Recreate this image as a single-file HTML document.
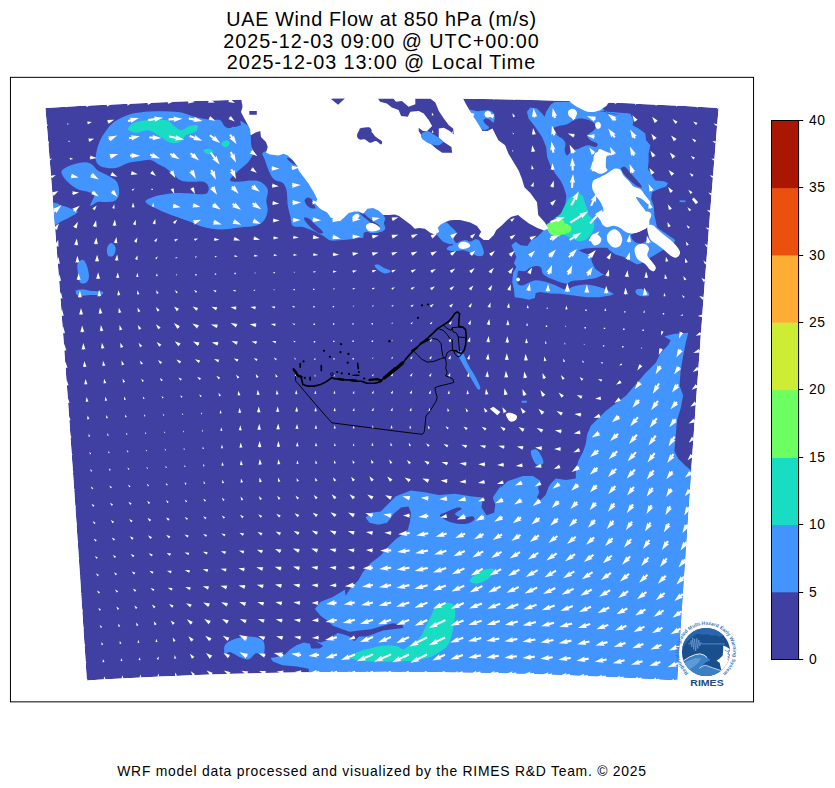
<!DOCTYPE html>
<html lang="en"><head><meta charset="utf-8"><title>UAE Wind Flow at 850 hPa</title>
<style>
html,body{margin:0;padding:0;background:#fff}
body{width:835px;height:788px;position:relative;overflow:hidden;font-family:"Liberation Sans",sans-serif;color:#000}
.t{position:absolute;left:0;width:763px;text-align:center;font-size:19.8px;line-height:22px;white-space:nowrap}
.ft{position:absolute;left:0;width:764px;text-align:center;font-size:13.9px;top:763px;line-height:16px;white-space:nowrap;letter-spacing:0.76px}
.cb{position:absolute;left:809px;letter-spacing:0.4px;font-size:13.9px;line-height:16px}
</style></head><body>
<svg width="835" height="788" viewBox="0 0 835 788" style="position:absolute;left:0;top:0">
<defs><clipPath id="fc"><path d="M45.4 108 L62.2 107.1 L79 106.1 L95.8 105.3 L112.6 104.4 L129.4 103.7 L146.2 102.9 L163 102.3 L179.9 101.6 L196.7 101.1 L213.5 100.5 L230.4 100.1 L247.2 99.6 L264 99.3 L280.9 98.9 L297.7 98.7 L314.6 98.4 L331.4 98.3 L348.3 98.1 L365.1 98.1 L382 98 L398.9 98.1 L415.7 98.1 L432.6 98.3 L449.4 98.4 L466.3 98.7 L483.1 98.9 L500 99.3 L516.8 99.6 L533.6 100.1 L550.5 100.5 L567.3 101.1 L584.1 101.6 L601 102.3 L617.8 102.9 L634.6 103.7 L651.4 104.4 L668.2 105.3 L685 106.1 L701.8 107.1 L718.6 108 L717.4 122.3 L716.2 136.5 L715.1 150.7 L713.9 165 L712.8 179.3 L711.6 193.5 L710.5 207.8 L709.4 222.1 L708.3 236.4 L707.2 250.8 L706.1 265.1 L705 279.4 L703.9 293.8 L702.8 308.1 L701.8 322.5 L700.7 336.8 L699.7 351.2 L698.6 365.5 L697.6 379.9 L696.5 394.3 L695.5 408.6 L694.5 423 L693.5 437.3 L692.5 451.7 L691.5 466 L690.5 480.4 L689.5 494.7 L688.5 509.1 L687.5 523.4 L686.6 537.7 L685.6 552 L684.7 566.3 L683.7 580.6 L682.8 594.9 L681.8 609.2 L680.9 623.5 L680 637.7 L679 652 L678.1 666.2 L677.2 680.4 L662.5 679.5 L647.8 678.7 L633 678 L618.3 677.2 L603.5 676.6 L588.8 675.9 L574 675.3 L559.3 674.8 L544.5 674.3 L529.8 673.8 L515 673.4 L500.2 673 L485.4 672.7 L470.7 672.4 L455.9 672.2 L441.1 672 L426.3 671.8 L411.6 671.7 L396.8 671.7 L382 671.6 L367.2 671.7 L352.4 671.7 L337.7 671.8 L322.9 672 L308.1 672.2 L293.3 672.4 L278.6 672.7 L263.8 673 L249 673.4 L234.2 673.8 L219.5 674.3 L204.7 674.8 L190 675.3 L175.2 675.9 L160.5 676.6 L145.7 677.2 L131 678 L116.2 678.7 L101.5 679.5 L86.8 680.4 L85.9 666.2 L85 652 L84 637.7 L83.1 623.5 L82.2 609.2 L81.2 594.9 L80.3 580.6 L79.3 566.3 L78.4 552 L77.4 537.7 L76.5 523.4 L75.5 509.1 L74.5 494.7 L73.5 480.4 L72.5 466 L71.5 451.7 L70.5 437.3 L69.5 423 L68.5 408.6 L67.5 394.3 L66.4 379.9 L65.4 365.5 L64.3 351.2 L63.3 336.8 L62.2 322.5 L61.2 308.1 L60.1 293.8 L59 279.4 L57.9 265.1 L56.8 250.8 L55.7 236.4 L54.6 222.1 L53.5 207.8 L52.4 193.5 L51.2 179.3 L50.1 165 L48.9 150.7 L47.8 136.5 L46.6 122.3Z"/></clipPath><clipPath id="ax"><rect x="10.5" y="77.5" width="743" height="624"/></clipPath></defs>
<g clip-path="url(#fc)">
<path d="M45.4 108 L62.2 107.1 L79 106.1 L95.8 105.3 L112.6 104.4 L129.4 103.7 L146.2 102.9 L163 102.3 L179.9 101.6 L196.7 101.1 L213.5 100.5 L230.4 100.1 L247.2 99.6 L264 99.3 L280.9 98.9 L297.7 98.7 L314.6 98.4 L331.4 98.3 L348.3 98.1 L365.1 98.1 L382 98 L398.9 98.1 L415.7 98.1 L432.6 98.3 L449.4 98.4 L466.3 98.7 L483.1 98.9 L500 99.3 L516.8 99.6 L533.6 100.1 L550.5 100.5 L567.3 101.1 L584.1 101.6 L601 102.3 L617.8 102.9 L634.6 103.7 L651.4 104.4 L668.2 105.3 L685 106.1 L701.8 107.1 L718.6 108 L717.4 122.3 L716.2 136.5 L715.1 150.7 L713.9 165 L712.8 179.3 L711.6 193.5 L710.5 207.8 L709.4 222.1 L708.3 236.4 L707.2 250.8 L706.1 265.1 L705 279.4 L703.9 293.8 L702.8 308.1 L701.8 322.5 L700.7 336.8 L699.7 351.2 L698.6 365.5 L697.6 379.9 L696.5 394.3 L695.5 408.6 L694.5 423 L693.5 437.3 L692.5 451.7 L691.5 466 L690.5 480.4 L689.5 494.7 L688.5 509.1 L687.5 523.4 L686.6 537.7 L685.6 552 L684.7 566.3 L683.7 580.6 L682.8 594.9 L681.8 609.2 L680.9 623.5 L680 637.7 L679 652 L678.1 666.2 L677.2 680.4 L662.5 679.5 L647.8 678.7 L633 678 L618.3 677.2 L603.5 676.6 L588.8 675.9 L574 675.3 L559.3 674.8 L544.5 674.3 L529.8 673.8 L515 673.4 L500.2 673 L485.4 672.7 L470.7 672.4 L455.9 672.2 L441.1 672 L426.3 671.8 L411.6 671.7 L396.8 671.7 L382 671.6 L367.2 671.7 L352.4 671.7 L337.7 671.8 L322.9 672 L308.1 672.2 L293.3 672.4 L278.6 672.7 L263.8 673 L249 673.4 L234.2 673.8 L219.5 674.3 L204.7 674.8 L190 675.3 L175.2 675.9 L160.5 676.6 L145.7 677.2 L131 678 L116.2 678.7 L101.5 679.5 L86.8 680.4 L85.9 666.2 L85 652 L84 637.7 L83.1 623.5 L82.2 609.2 L81.2 594.9 L80.3 580.6 L79.3 566.3 L78.4 552 L77.4 537.7 L76.5 523.4 L75.5 509.1 L74.5 494.7 L73.5 480.4 L72.5 466 L71.5 451.7 L70.5 437.3 L69.5 423 L68.5 408.6 L67.5 394.3 L66.4 379.9 L65.4 365.5 L64.3 351.2 L63.3 336.8 L62.2 322.5 L61.2 308.1 L60.1 293.8 L59 279.4 L57.9 265.1 L56.8 250.8 L55.7 236.4 L54.6 222.1 L53.5 207.8 L52.4 193.5 L51.2 179.3 L50.1 165 L48.9 150.7 L47.8 136.5 L46.6 122.3Z" fill="#4040a2"/>
<g fill="#4294ff"><path d="M95.8 159.9 C95.2 156.5 96.7 150.7 97.8 146.6 C99 142.4 100.6 139 102.9 135.2 C105.2 131.5 108.3 126.9 111.7 123.9 C115 120.9 119 118.9 123 117.1 C127 115.3 130.1 114.1 135.6 113.1 C141 112.1 148.6 111.5 155.7 111.3 C162.8 111.2 172 111.3 178.3 112.1 C184.6 112.9 188.4 115.1 193.4 116.4 C198.4 117.6 204.1 119 208.5 119.6 C212.9 120.3 217.1 119 219.8 120.1 C222.5 121.3 223 125.2 224.9 126.4 C226.7 127.7 228.8 128.5 231.1 127.7 C233.4 126.9 236.6 122.2 238.7 121.4 C240.8 120.6 241.8 121.4 243.7 122.7 C245.6 123.9 248.7 125.2 250 129 C251.3 132.7 250.6 141.5 251.3 145.3 C251.9 149.1 253.6 149.9 253.8 151.6 C254 153.3 253.6 153.5 252.5 155.4 C251.5 157.2 249.8 160.4 247.5 162.9 C245.2 165.4 241.6 167.6 238.7 170.4 C235.7 173.3 229.9 178.1 229.9 180 C229.9 181.9 235.3 181.7 238.7 181.8 C242 181.9 246.4 180.5 250 180.5 C253.6 180.5 257.1 180.3 260.1 181.8 C263 183.2 266.6 186.2 267.6 189.3 C268.7 192.5 266.3 197.1 266.3 200.6 C266.3 204.2 268 207.3 267.6 210.7 C267.2 214 265.9 218.2 263.8 220.7 C261.7 223.3 259 224.6 255 225.8 C251 226.9 245.6 226.9 239.9 227.5 C234.3 228.2 227.2 229.6 221.1 229.6 C215 229.5 208.5 228.3 203.5 227 C198.4 225.8 195.9 223.9 190.9 222 C185.9 220.1 178.7 217.8 173.3 215.7 C167.8 213.6 162.8 211.7 158.2 209.4 C153.6 207.1 146.5 204 145.6 201.9 C144.8 199.8 149.8 198.1 153.2 196.9 C156.5 195.6 162 195 165.7 194.3 C169.5 193.7 171.6 193.2 175.8 193.1 C180 193 186.7 193.4 190.9 193.6 C195.1 193.8 198.2 194.4 201 194.3 C203.7 194.3 206 194.3 207.2 193.1 C208.5 191.8 209.1 188.7 208.5 186.8 C207.9 184.9 206.4 182.6 203.5 181.8 C200.5 180.9 194.7 182 190.9 181.8 C187.1 181.6 183.6 181.6 180.8 180.5 C178.1 179.5 177.1 177.6 174.6 175.5 C172 173.4 168.5 169.8 165.7 167.9 C163 166 160.7 165.5 158.2 164.2 C155.7 162.8 153.6 160.4 150.7 159.9 C147.7 159.3 144.4 160.4 140.6 160.9 C136.8 161.4 132.2 161.7 128 162.9 C123.8 164.1 119.9 167.3 115.4 167.9 C111 168.6 104.9 168 101.6 166.7 C98.3 165.3 96.5 163.2 95.8 159.9Z"/><path d="M61.4 171.7 C61.8 169 66.6 167 70.2 165.4 C73.7 163.9 79.2 162.6 82.8 162.4 C86.3 162.2 89 162.8 91.6 164.2 C94.1 165.5 95.1 168.6 97.8 170.4 C100.6 172.3 104.8 173.6 107.9 175.5 C111 177.4 114.8 178.8 116.7 181.8 C118.6 184.7 119.4 189.9 119.2 193.1 C119 196.2 117.3 199.2 115.4 200.6 C113.6 202.1 110.8 201.7 107.9 201.9 C105 202.1 100.8 201.3 97.8 201.9 C94.9 202.5 90.9 206.7 90.3 205.7 C89.7 204.6 94.5 197.9 94.1 195.6 C93.7 193.3 90.5 192.9 87.8 191.8 C85.1 190.8 81.1 191 77.7 189.3 C74.4 187.6 70.4 184.7 67.7 181.8 C64.9 178.8 61 174.4 61.4 171.7Z"/><path d="M51.3 203.6 C53 200.5 59.1 204.7 62.6 205.7 C66.2 206.6 70.2 208.4 72.7 209.4 C75.2 210.5 78.1 210.7 77.7 211.9 C77.3 213.2 72.7 215.5 70.2 217 C67.7 218.4 65.6 219.5 62.6 220.7 C59.7 222 54.5 227.1 52.6 224.3 C50.7 221.4 49.6 206.7 51.3 203.6Z"/><path d="M111.2 242.9 C112.3 242.9 114.2 244.6 114.9 245.9 C115.7 247.2 115.8 249.3 115.4 250.9 C115.1 252.6 114.1 255.1 112.9 256 C111.8 256.8 109.4 256.8 108.4 256 C107.4 255.1 107 252.6 106.9 250.9 C106.8 249.3 107.2 247.2 107.9 245.9 C108.6 244.6 110 242.9 111.2 242.9Z"/><path d="M77.7 263.5 C78.6 261.6 81.3 259.5 82.8 259.7 C84.2 259.9 85.5 262 86.5 264.8 C87.6 267.5 89 273.1 89 276.1 C89 279 88 281.3 86.5 282.4 C85.1 283.4 81.7 284.3 80.2 282.4 C78.8 280.5 78.1 274.2 77.7 271 C77.3 267.9 76.9 265.4 77.7 263.5Z"/><path d="M76 290.5 C77 289.5 81.3 289.4 84 289.5 C86.7 289.6 89 290.7 92 291 C95 291.3 100.3 290.9 102 291.5 C103.7 292.1 104 293.9 102 294.5 C100 295.1 94 294.8 90 295 C86 295.2 80.3 296.2 78 295.5 C75.7 294.8 75 291.5 76 290.5Z"/><path d="M265.1 151.6 C271 150.1 292 145.1 300.4 151.6 C308.7 158.1 307.9 181.6 315.4 190.6 C323 199.6 337.7 202.9 345.6 205.7 C353.6 208.4 358.5 207.2 363.1 207.2 C367.6 207.3 370.5 205.3 373.1 205.8 C375.7 206.3 377.2 208.6 378.9 210.1 C380.5 211.7 382.1 213.7 383.2 215.1 C384.3 216.6 385.2 217.4 385.3 218.7 C385.4 220.1 383.9 221.5 383.9 223.1 C383.9 224.6 385.4 226.8 385.3 228.1 C385.2 229.4 384.3 230.2 383.2 231 C382.1 231.7 380.8 232 378.9 232.4 C376.9 232.8 373.6 233.2 371.7 233.1 C369.8 233 368.7 231.7 367.4 231.7 C366 231.7 364.5 232.2 363.8 233.1 C363.1 234.1 363.9 236.6 363.1 237.4 C362.2 238.3 361.1 237.8 358.7 238.1 C356.3 238.5 352 239.2 348.7 239.6 C345.3 239.9 341.7 240.2 338.6 240.3 C335.5 240.4 332.6 241 330 240.3 C327.4 239.6 325.8 237.4 323 235.8 C320.1 234.3 316.3 232.3 312.9 230.8 C309.6 229.3 306.2 227.9 302.9 227 C299.5 226.2 294.9 227.7 292.8 225.8 C290.7 223.9 291.1 219.1 290.3 215.7 C289.5 212.4 288.4 209.9 287.8 205.7 C287.2 201.5 287.4 194.3 286.5 190.6 C285.7 186.8 285.1 185.1 282.8 183 C280.4 180.9 275.6 181.8 272.7 178 C269.8 174.2 266.4 164.8 265.1 160.4 C263.9 156 259.3 153.1 265.1 151.6Z"/><path d="M437.1 233.1 C437.5 231.4 439.3 227.6 440.7 225.9 C442 224.3 443.4 223.9 445 223.1 C446.5 222.2 448.6 221.3 450 220.9 C451.4 220.5 453 217.3 453.6 220.9 C454.2 224.5 455 238.9 453.6 242.5 C452.2 246 447.1 243.1 445 242.5 C442.8 241.9 441.9 239.9 440.7 238.9 C439.5 237.8 438.4 236.9 437.8 236 C437.2 235 436.6 234.8 437.1 233.1Z"/><path d="M374.6 265.4 C374.6 264.5 377.2 264.3 378.9 264.7 C380.5 265.2 382.9 267.5 384.6 268.3 C386.3 269.2 388 269.2 388.9 269.8 C389.9 270.4 391.1 271.3 390.4 271.9 C389.6 272.5 386.5 273.6 384.6 273.4 C382.7 273.1 380.5 271.8 378.9 270.5 C377.2 269.2 374.6 266.4 374.6 265.4Z"/><path d="M526.9 111.8 L530.3 107.6 L537 108.4 L542 113.4 L544.6 116.8 L546.2 111.8 L550.4 105.1 L554.6 102 L567.2 101.7 L580.6 102.5 L597.4 103.4 L604.1 110.1 L614.1 114.3 L620 115.1 L604.2 110.9 L610.1 111.8 L620.1 112.6 L630.2 113.4 L633.5 120.1 L632.7 125.2 L638.6 128.5 L645.3 133.6 L646.1 140.3 L650.3 145.3 L648.6 153.7 L648.6 162.1 L647.8 168.8 L652 175.5 L655.3 180.5 L663.7 181.3 L667.9 183 L666.2 186.4 L658.7 188.9 L652 192.2 L651.1 199 L653.7 205.7 L654.5 215.7 L657 227 L658.6 228.4 L675.3 240.1 L673.7 243.5 L640.6 263.6 L637.2 264.5 L630.5 261.1 L623.8 256.9 L615.4 254.4 L610.4 251 L607.1 247.7 L595.3 247.7 L585.3 248.5 L578.6 250.2 L583.6 252.7 L590.3 255.2 L592 261.9 L595.3 268.7 L602 273.7 L607.1 275.4 L608.7 282.1 L612.1 287.1 L614.6 293.8 L610.4 295.5 L598.7 297.2 L586.9 297.2 L573.5 295.5 L560.1 293.8 L550.1 293.5 L540 292.1 L535.7 293 L534.9 298 L529 299.7 L520.6 298 L514.7 297.2 L513.9 288.8 L512.2 282.1 L513.1 272.8 L516.4 267 L513.9 263.6 L516.4 256.9 L513.9 251 L511.4 245.2 L515.6 241.8 L520.6 245.2 L527.3 246 L531.5 240.1 L537.4 236.8 L542.4 231.8 L553.8 219.1 L562.2 212.4 L565.5 204 L566.3 195.6 L563.8 187.2 L560.5 180.5 L555.4 173.8 L550.4 165.4 L547.1 157 L546.2 147 L542 136.9 L535.3 126.9 L528.6 118.5Z"/><path d="M635.6 290.4 C636.1 289.5 638.6 288.6 640.6 288.8 C642.6 288.9 645.9 290.2 647.3 291.3 C648.7 292.4 649.8 294.6 649 295.5 C648.1 296.3 644.2 296.5 642.3 296.3 C640.3 296.2 638.4 295.6 637.2 294.6 C636.1 293.7 635 291.4 635.6 290.4Z"/><path d="M679.6 200.3 L685.5 200.6 L685.5 202.3 L679.6 202Z"/><path d="M436.8 230.9 C436.9 228.4 439.3 224.8 441 223.4 C442.6 222 445.1 222 446.8 222.5 C448.5 223.1 449.5 225.2 451 226.7 C452.6 228.3 455.6 230.1 456 231.8 C456.5 233.4 453.5 235 453.5 236.8 C453.5 238.6 455.1 241.8 456 242.7 C457 243.5 457.9 242.2 459.4 241.8 C460.9 241.4 463.5 240.1 465.3 240.1 C467.1 240.1 468.6 242 470.3 241.8 C472 241.7 473.9 239.6 475.3 239.3 C476.7 239 477.7 239.3 478.7 240.1 C479.7 241 480.4 242.5 481.2 244.3 C482 246.2 483.4 249.2 483.7 251 C484 252.9 483.9 254.4 482.9 255.2 C481.9 256.1 479.9 256.5 477.8 256.1 C475.7 255.7 472.7 253.7 470.3 252.7 C467.9 251.7 466.4 250.5 463.6 250.2 C460.8 249.9 456.3 251.2 453.5 251 C450.7 250.9 447.5 250.2 446.8 249.4 C446.1 248.5 448.4 246.7 449.3 246 C450.3 245.3 452.3 245.9 452.7 245.2 C453.1 244.5 453.1 242.4 451.9 241.8 C450.6 241.3 447.1 242.4 445.1 241.8 C443.2 241.3 441.5 240.3 440.1 238.5 C438.7 236.7 436.6 233.4 436.8 230.9Z"/><path d="M664.4 336.5 L673.2 334 L688.3 332.8 L685.7 342.8 L683.2 355.4 L680.7 370.5 L679.5 385.6 L683.2 395.6 L680.7 408.2 L676.9 420.8 L675.7 435.9 L674.4 451 L678.2 458.5 L685.7 466 L693.3 472.3 L700 470 L700 690 L380 690 L308.8 676 L308.8 668.8 L296.9 666.4 L282.5 665.2 L272.9 661.6 L270.5 658.1 L276.5 656.9 L284.9 654.5 L289.7 649.7 L296.9 644.9 L304 642.5 L310 643.7 L311.2 648.5 L319.6 648.5 L323.2 646.1 L316 641.3 L320.8 642.5 L328 640.1 L332.8 636.5 L337.6 632.9 L342.4 634.1 L349.6 636.5 L354.3 641.3 L359.1 636.5 L366.3 636.5 L373.5 634.1 L383.1 630.5 L392.7 629.3 L403.4 628.1 L402.2 624.5 L392.7 623.3 L383.1 625.7 L371.1 629.3 L359.1 630.5 L349.6 631.7 L342.4 629.3 L332.8 625.7 L328 620.9 L320.8 616.1 L314.8 609 L320.8 601.8 L332.8 597 L344.8 589.8 L345.6 595.7 L350.7 588.1 L358.2 580.6 L363.2 571.8 L370.8 563 L380.8 555.4 L388.4 546.6 L395.9 539.1 L407.2 531.5 L409.8 522.7 L411 512.7 L408.5 506.4 L401 507.6 L393.4 513.9 L387.1 522.7 L378.3 524.7 L369.5 522.7 L365.7 517.7 L370.8 512.7 L380.8 511.4 L387.1 505.1 L395.9 496.3 L411 490.5 L426.1 492.5 L438.7 495.1 L440 495.1 L455.1 493.8 L470.2 496.3 L482.8 497.6 L481.5 507.6 L486.5 515.2 L494.1 512.7 L495.3 505.1 L492.8 497.6 L497.8 490 L501.6 485 L500.4 487.9 L507.9 481.1 L523 476.1 L533.1 476.1 L540.6 481.1 L538.1 487.9 L539.3 492.5 L536.8 497.6 L540.6 500.1 L545.6 495.1 L549.4 485 L548.1 487.9 L550.7 483.7 L555.7 478.6 L565.7 479.9 L575.8 478.6 L575.8 471.1 L578.3 461 L583.4 451 L585.9 443.4 L587.1 434.6 L590.9 425.8 L598.4 418.3 L606 410.7 L616 403.2 L626.1 395.6 L633.7 386.8 L641.2 378 L645.5 373 L655.6 362.9 L660.6 352.9 L668.1 345.3 L670.7 340.3Z"/><path d="M225 644.9 C226.6 642.3 230.6 640.3 234.6 638.9 C238.6 637.5 244.6 636.5 249 636.5 C253.3 636.5 258.3 637.5 260.9 638.9 C263.5 640.3 264.1 642.3 264.5 644.9 C264.9 647.5 264.7 653.1 263.3 654.5 C261.9 655.9 258.5 652.5 256.1 653.3 C253.7 654.1 251.7 658.7 249 659.3 C246.2 659.9 242.6 658.1 239.4 656.9 C236.2 655.7 232.2 652.5 229.8 652.1 C227.4 651.7 225.8 655.7 225 654.5 C224.2 653.3 223.4 647.5 225 644.9Z"/><path d="M531 451 C531.8 449.5 535 448.7 536.8 449.7 C538.6 450.7 540.8 454.9 541.9 457.2 C542.9 459.6 544 462.3 543.1 463.5 C542.3 464.8 538.6 465.6 536.8 464.8 C535.1 464 533.5 460.8 532.6 458.5 C531.6 456.2 530.3 452.4 531 451Z"/><path d="M457.1 352.4 C456.7 349.8 460.3 349.9 462.1 351.9 C464 353.9 466.1 360.5 468.2 364.4 C470.3 368.4 472.7 371.7 474.7 375.5 C476.7 379.3 479.7 384.8 480.2 387.1 C480.7 389.3 479.2 390.5 477.7 389.1 C476.2 387.7 473.4 382.1 471.2 378.5 C469 374.9 467 371.8 464.6 367.5 C462.3 363.1 457.5 355 457.1 352.4Z"/><path d="M521.7 400.7 L526.8 400.7 L526.8 402.7 L521.7 402.7Z"/><path d="M469.8 110.1 C470.1 109.1 473.6 110.5 475.7 110.9 C477.8 111.3 480.9 111.6 482.4 112.6 C483.9 113.6 485.2 115.5 484.9 116.8 C484.6 118.1 482 119.3 480.7 120.1 C479.5 121 478.5 122.4 477.4 121.8 C476.2 121.3 475.3 118.8 474 116.8 C472.8 114.8 469.5 111.1 469.8 110.1Z"/><path d="M477.4 121.8 C477.2 120.7 479.3 119.7 480.7 120.1 C482.1 120.6 484.4 123.1 485.7 124.3 C487.1 125.6 489.4 126.7 489.1 127.7 C488.8 128.7 485.3 130.3 484.1 130.2 C482.8 130.1 482.7 128.3 481.6 126.9 C480.4 125.5 477.5 122.9 477.4 121.8Z"/><path d="M477.5 111.8 C479.2 110.4 482.4 110.7 484.2 110.4 C486 110.1 486.9 109.7 488.4 110.1 C489.9 110.5 492 111.3 493.1 112.6 C494.1 113.9 494.7 116 494.8 117.6 C494.8 119.3 494.2 122.2 493.4 122.7 C492.6 123.1 491.2 120.8 490.1 120.1 C488.9 119.5 487.8 118.5 486.7 118.5 C485.6 118.5 483.7 119 483.4 120.1 C483 121.3 484.8 123.6 484.7 125.2 C484.6 126.7 483.6 128.4 482.5 129.4 C481.5 130.3 479.6 131.7 478.3 131 C477.1 130.3 475.7 127.3 475 125.2 C474.3 123.1 473.7 120.7 474.1 118.5 C474.6 116.2 475.8 113.1 477.5 111.8Z"/></g>
<g fill="#4040a2"><path d="M359.5 211.6 C359.7 211.2 360.9 211.3 362.3 212.3 C363.8 213.2 366.2 215.7 368.1 217.3 C370 218.9 371.9 220.2 373.8 221.6 C375.7 223.1 378.9 224.9 379.6 225.9 C380.3 226.9 379.3 228 378.1 227.7 C376.9 227.3 374.4 225.3 372.4 223.8 C370.4 222.3 367.8 220.3 365.9 218.7 C364 217.2 362 215.6 360.9 214.4 C359.8 213.2 359.2 211.9 359.5 211.6Z"/><path d="M287 157.9 C287.3 157.5 289.7 157.9 291.2 158.7 C292.7 159.6 295.7 161.9 296.2 162.9 C296.8 163.9 295.7 164.9 294.6 164.6 C293.4 164.3 290.8 162.3 289.5 161.2 C288.3 160.1 286.7 158.3 287 157.9Z"/><path d="M304.6 200.6 C304.8 199.3 306.7 197.8 308 197.6 C309.2 197.5 311.2 198.7 312.2 199.8 C313.1 200.9 313.3 202.6 313.8 204 C314.4 205.4 315.9 207.5 315.5 208.2 C315.1 208.9 312.7 208.6 311.3 208.2 C309.9 207.8 308.2 206.9 307.1 205.7 C306 204.4 304.5 202 304.6 200.6Z"/><path d="M304.1 217.7 C304.7 217.2 307.3 217.6 309.2 218.7 C311 219.9 313.1 222.3 315.4 224.5 C317.8 226.7 322.4 230.6 323 232.1 C323.6 233.5 321.1 234 319.2 233.3 C317.3 232.7 313.9 230.2 311.7 228.3 C309.5 226.4 307.1 223.8 305.9 222 C304.6 220.2 303.6 218.3 304.1 217.7Z"/><path d="M517.6 274.4 C517.9 273 517.2 271.6 518.4 271 C519.7 270.5 523.2 271.6 525.1 271 C527.1 270.5 528.4 268.5 530.2 267.7 C532 266.8 534.2 266 536 266 C537.9 266 540 266.4 541.1 267.7 C542.2 268.9 541.5 271.9 542.8 273.5 C544 275.2 546.5 276.6 548.6 277.7 C550.7 278.8 553.1 279.4 555.3 280.2 C557.6 281.1 560.1 282.2 562 282.8 C564 283.3 565.4 283.9 567.1 283.6 C568.7 283.3 570.1 281.6 572.1 281.1 C574.1 280.5 576.3 280.5 578.8 280.2 C581.3 280 584.7 279.7 587.2 279.4 C589.7 279.1 591.7 279.1 593.9 278.6 C596.1 278 598.4 276.9 600.6 276 C602.8 275.2 604.5 273.5 607.3 273.5 C610.1 273.5 615.7 272.3 617.4 276 C619 279.8 617.6 293 617.4 296.2 C617.1 299.4 616.8 296 615.7 295.3 C614.6 294.6 612.6 293.1 610.7 292 C608.7 290.9 606.5 289.6 604 288.6 C601.4 287.6 598.4 286.8 595.6 286.1 C592.8 285.4 590 284.6 587.2 284.4 C584.4 284.3 581.3 284.9 578.8 285.3 C576.3 285.7 574.1 286.2 572.1 286.9 C570.1 287.6 568.7 289.2 567.1 289.5 C565.4 289.7 564 289.3 562 288.6 C560.1 287.9 557.6 286.2 555.3 285.3 C553.1 284.3 550.9 283.5 548.6 282.8 C546.4 282.1 544.2 281.5 541.9 281.1 C539.7 280.7 537.4 280 535.2 280.2 C533 280.5 530.5 281.9 528.5 282.8 C526.5 283.6 525.1 285 523.5 285.3 C521.8 285.5 519.6 285.4 518.4 284.4 C517.3 283.5 516.9 281.1 516.8 279.4 C516.6 277.7 517.3 275.8 517.6 274.4Z"/><path d="M553.8 128.5 C554.1 127 556.6 126.7 558.8 126 C561 125.3 564.7 125.3 567.2 124.3 C569.7 123.4 571.7 121.1 573.9 120.1 C576.1 119.2 578.1 118.5 580.6 118.5 C583.1 118.5 586.5 119 589 120.1 C591.5 121.3 594.9 123.5 595.7 125.2 C596.5 126.9 595.4 128.5 594 130.2 C592.6 131.9 587.9 133.6 587.3 135.2 C586.7 136.9 589 138.9 590.7 140.3 C592.3 141.7 596.5 142.5 597.4 143.6 C598.2 144.7 597.4 146.7 595.7 147 C594 147.3 590.1 145 587.3 145.3 C584.5 145.6 581.4 147.8 578.9 148.7 C576.4 149.5 574.2 149.2 572.2 150.3 C570.3 151.4 568.4 155.4 567.2 155.4 C565.9 155.4 565 152.3 564.7 150.3 C564.4 148.4 565.9 145.6 565.5 143.6 C565.1 141.7 563.6 140 562.2 138.6 C560.8 137.2 558.5 136.9 557.1 135.2 C555.7 133.6 553.5 130.1 553.8 128.5Z"/><path d="M604.1 110.1 L609.1 105.1 L620 103 L608.4 102.5 L636.9 103.4 L633.5 113.4 L620.1 112.6 L610.1 111.8 L604.2 110.9 L600 110.9 L614.1 114.3 L607.4 113.4Z"/><path d="M632.2 233.4 C633.8 232.3 638.1 232 640.6 230.9 C643.1 229.8 645.9 226.3 647.3 226.7 C648.7 227.2 649 231.2 649 233.4 C649 235.7 648.7 238.5 647.3 240.1 C645.9 241.8 642.7 243.2 640.6 243.5 C638.5 243.8 636.3 242.8 634.7 241.8 C633.2 240.8 631.8 239 631.4 237.6 C631 236.2 630.7 234.6 632.2 233.4Z"/><path d="M621 168.8 C621 167.4 623.5 166.3 625.1 167.1 C626.8 167.9 628.8 171.3 631 173.8 C633.3 176.3 636.7 180 638.6 182.2 C640.4 184.4 642.1 186.5 641.9 187.2 C641.8 187.9 639.4 187.2 637.7 186.4 C636 185.5 634 184 631.9 182.2 C629.8 180.4 627 177.7 625.1 175.5 C623.3 173.2 621 170.2 621 168.8Z"/><path d="M445.1 221.7 C446.3 221.3 451 220.3 453.5 220 C456 219.8 457.4 219.6 460.2 220 C463 220.4 467.5 221.6 470.3 222.5 C473.1 223.5 475.2 224.4 477 225.9 C478.8 227.4 480.9 230.1 481.2 231.8 C481.5 233.4 479.9 235 478.7 236 C477.4 236.9 475.3 237.6 473.7 237.6 C472 237.6 470.6 235.5 468.6 236 C466.7 236.4 464 239 461.9 240.1 C459.8 241.3 457.4 243.2 456 242.7 C454.7 242.1 453.5 238.6 453.5 236.8 C453.5 235 456.5 233.4 456 231.8 C455.6 230.1 452.6 228.3 451 226.7 C449.5 225.2 447.8 223.4 446.8 222.5 C445.8 221.7 444 222.1 445.1 221.7Z"/><path d="M440 515.2 C440.6 513.9 444.6 512.7 447.5 511.4 C450.5 510.1 455.3 508.1 457.6 507.6 C459.9 507.2 461.8 507.8 461.4 508.9 C461 509.9 454.9 512.5 455.1 513.9 C455.3 515.4 459.7 517.3 462.6 517.7 C465.6 518.1 470.8 516 472.7 516.4 C474.6 516.9 475.2 519 474 520.2 C472.7 521.5 468.7 523.6 465.1 524 C461.6 524.4 456.1 523.6 452.6 522.7 C449 521.9 445.9 520.2 443.8 519 C441.7 517.7 439.4 516.4 440 515.2Z"/></g>
<g fill="#18ddc2"><path d="M128 129 C127.8 127.3 131 124.1 134.3 122.7 C137.7 121.2 142.9 120.6 148.1 120.1 C153.4 119.7 161.6 119.3 165.7 120.1 C169.9 121 170.8 123.5 173.3 125.2 C175.8 126.9 178.3 130 180.8 130.2 C183.4 130.4 185.7 127.3 188.4 126.4 C191.1 125.6 195.9 124.3 197.2 125.2 C198.4 126 197.8 129.8 195.9 131.5 C194 133.1 188.4 133.6 185.9 135.2 C183.4 136.9 183.4 140.3 180.8 141.5 C178.3 142.8 174.6 143.8 170.8 142.8 C167 141.7 162 137.3 158.2 135.2 C154.4 133.1 151.9 130.6 148.1 130.2 C144.4 129.8 138.9 132.9 135.6 132.7 C132.2 132.5 128.2 130.6 128 129Z"/><path d="M221.1 144 C221.1 142.9 224.6 140.5 226.1 140.3 C227.6 140.1 229.9 141.6 229.9 142.8 C229.9 144 227.6 147.1 226.1 147.3 C224.6 147.5 221.1 145.2 221.1 144Z"/><path d="M203.5 149.8 C203.9 149 208.1 148.7 209.8 149.1 C211.4 149.5 214 151.5 213.5 152.3 C213.1 153.2 208.9 154.5 207.2 154.1 C205.6 153.7 203.1 150.7 203.5 149.8Z"/><path d="M565.5 204 C567.2 201.2 568.6 199 570.5 197.3 C572.5 195.6 575.3 194.2 577.2 193.9 C579.2 193.6 581 194.2 582.3 195.6 C583.5 197 584 200.1 584.8 202.3 C585.6 204.5 586.7 206.9 587.3 209 C587.9 211.1 587.6 213.2 588.6 215 C589.7 216.8 592.8 217.8 593.7 220 C594.5 222.3 594.2 225.9 593.7 228.4 C593.1 230.9 591.7 233.2 590.3 235.1 C588.9 237.1 587.2 239.2 585.3 240.1 C583.3 241.1 580.8 241.3 578.6 241 C576.3 240.7 574.4 239.5 571.9 238.5 C569.3 237.4 566.3 235.4 563.5 234.8 C560.7 234.2 557.5 235.3 555.1 234.8 C552.7 234.3 550.6 233.1 549.2 231.8 C547.8 230.4 547.1 228 546.7 226.7 C546.3 225.5 545.9 225.2 547.1 224.1 C548.2 223 551.5 221.6 553.8 219.9 C556 218.2 558.5 216.7 560.5 214 C562.4 211.4 563.8 206.8 565.5 204Z"/><path d="M527.8 199 C528.1 198 530.7 197.6 532 198.1 C533.2 198.7 535.6 201.3 535.3 202.3 C535 203.3 531.6 204.5 530.3 204 C529 203.4 527.5 199.9 527.8 199Z"/><path d="M434.9 608.2 C436.6 606.5 439.1 606.1 441.2 605.2 C443.3 604.3 445.5 602.8 447.5 602.7 C449.5 602.6 452 603.2 453.3 604.7 C454.6 606.3 455.1 609.1 455.3 612 C455.4 614.9 454.7 618.7 454.3 622.1 C453.8 625.4 453.2 629 452.5 632.1 C451.8 635.3 451.1 638.5 450 640.9 C448.9 643.3 447.2 645.2 445.7 646.5 C444.3 647.7 443.6 648.6 441.2 648.5 C438.8 648.4 434.5 645.5 431.1 646 C427.8 646.4 424.4 649.3 421.1 651 C417.7 652.7 414.4 654.6 411 656 C407.7 657.5 404.7 659 401 659.8 C397.2 660.6 392.6 660.8 388.4 661 C384.2 661.3 380 661.9 375.8 661 C371.6 660.2 364.5 657.9 363.2 656 C362 654.1 365.3 651.4 368.3 649.7 C371.2 648.1 376.2 646.6 380.8 646 C385.4 645.3 392.6 645.3 395.9 646 C399.3 646.6 398.4 649.7 401 649.7 C403.5 649.7 407.7 648.3 411 646 C414.4 643.7 418.6 639.3 421.1 635.9 C423.6 632.5 424.4 629.2 426.1 625.8 C427.8 622.5 429.7 618.7 431.1 615.8 C432.6 612.8 433.2 610 434.9 608.2Z"/><path d="M470.2 579.3 C471.2 577.7 475 574.7 477.7 573 C480.4 571.3 483.8 569.9 486.5 569.3 C489.3 568.6 493.2 568.2 494.1 569.3 C494.9 570.3 493 573.7 491.6 575.5 C490.1 577.4 487.6 579.2 485.3 580.6 C483 581.9 480 583.3 477.7 583.6 C475.4 583.9 472.7 583.3 471.4 582.6 C470.2 581.9 469.1 580.9 470.2 579.3Z"/><path d="M348.5 657.2 C348.1 655.8 354.4 653.3 358.2 651.9 C362 650.4 366.5 649.2 371.1 648.6 C375.8 648 381.9 648.6 386.2 648.2 C390.5 647.8 394.1 646.2 397 646.5 C399.9 646.7 401.7 649.7 403.5 649.7 C405.3 649.7 405.6 647.7 407.8 646.5 C409.9 645.2 412.8 643.4 416.4 642.2 C420 640.9 424 639.6 429.3 638.9 C434.7 638.2 445.7 636.8 448.7 637.8 C451.8 638.9 449.5 642.9 447.7 645.4 C445.9 647.9 441 651 438 652.9 C434.9 654.9 432.9 656 429.3 657.2 C425.7 658.5 420.7 659.8 416.4 660.5 C412.1 661.1 407.8 660.9 403.5 661.1 C399.2 661.3 395.2 661.5 390.5 661.6 C385.9 661.6 380.5 661.7 375.4 661.6 C370.4 661.4 364.9 661.2 360.4 660.5 C355.9 659.8 348.9 658.7 348.5 657.2Z"/></g>
<g fill="#6dfe62"><path d="M546.7 225.1 C547.7 223.5 552 222.8 555.1 222.5 C558.2 222.3 562.5 222.7 565.1 223.4 C567.8 224.1 570.2 225.3 571 226.7 C571.9 228.1 571.4 230.5 570.2 231.8 C568.9 233 566 233.9 563.5 234.3 C561 234.7 557.5 234.7 555.1 234.3 C552.7 233.9 550.6 233.3 549.2 231.8 C547.8 230.2 545.7 226.6 546.7 225.1Z"/><path d="M547.4 225.1 C548 223.2 550.4 222.5 552.5 221.7 C554.6 220.9 558 220 560 220 C562 220 564.1 219.2 564.2 221.7 C564.3 224.2 562.5 232.7 560.8 235.1 C559.2 237.5 556.1 236.4 554.1 236 C552.2 235.5 550.2 234.4 549.1 232.6 C548 230.8 546.9 226.9 547.4 225.1Z"/></g>
</g>
<g fill="#ffffff"><path d="M365.9 225.9 C366.2 224.6 368.6 223.3 370.2 223.1 C371.9 222.8 374.3 223.5 376 224.5 C377.7 225.4 380.3 227.7 380.3 228.8 C380.3 229.9 377.9 230.6 376 231 C374.1 231.3 370.5 231.8 368.8 231 C367.1 230.1 365.7 227.2 365.9 225.9Z"/><path d="M352.3 217.3 C352.4 216.3 355.4 214 356.6 213.7 C357.8 213.5 359.6 214.9 359.5 215.9 C359.3 216.8 357.1 219.2 355.9 219.5 C354.7 219.7 352.2 218.3 352.3 217.3Z"/><path d="M241 90 L241.5 101 L242.5 107 L241 112 L243 116 L250 129 L250.5 134 L251 135.2 L255.1 132.7 L260.2 131 L261 136.9 L266 141.9 L267.7 147 L266 152.8 L270.2 154.5 L278.6 155.4 L283.7 153.7 L287.8 155.4 L292 159.6 L297.1 165.4 L298.7 170.4 L303.8 177.2 L308.8 183.9 L313.8 192.2 L317.2 199 L315.5 204 L320.5 209 L327.2 212.4 L330.6 217.4 L334.3 218.7 L340.1 220.9 L344.4 217.3 L348.7 213 L354.4 211.6 L358.7 211.6 L363.1 213.7 L367.4 208.7 L373.1 208 L378.9 210.8 L383.2 215.1 L388.9 215.1 L394.7 214.4 L399 215.9 L404.7 220.2 L410.5 224.5 L414.8 228.8 L419.1 228.1 L424.9 228.8 L430.6 233.1 L434.9 234.6 L439.2 231.7 L437.8 227.4 L440.7 224.5 L445 222.3 L450 220.2 L453.5 220 L460.2 220 L470.3 222.5 L477 225.9 L481.2 231.8 L478.7 236 L483.7 240.1 L488.7 240.1 L493.8 235.1 L496.3 230.1 L502.2 225.1 L507.2 220 L511.4 216.7 L518.1 215 L522.3 218.4 L529 223.4 L537.4 228.1 L544.1 230.4 L548.3 228.4 L544.9 222.5 L538.2 215 L537 202.3 L530.3 193.1 L524.4 187.2 L521.9 178.8 L518.6 170.4 L513.5 162.1 L508.5 153.7 L505.1 145.3 L498.4 140.3 L495.8 135.2 L492.5 128.5 L487.4 131 L482.4 131 L479 125.2 L475.7 120.1 L471.5 113.4 L469 109.3 L465.6 103.4 L463.1 98.4 L463 90Z"/><path d="M572.2 108.7 C573.3 108.8 575.1 109.5 575.9 110.4 C576.7 111.3 577.2 113.1 576.9 114.3 C576.6 115.5 575.1 117.2 573.9 117.6 C572.7 118.1 570.7 117.6 569.7 116.8 C568.7 116 568.1 114.2 568 113.1 C567.9 112 568.5 110.8 569.2 110.1 C569.9 109.4 571.1 108.7 572.2 108.7Z"/><path d="M597.9 121.8 C598.7 121.8 599.9 122.7 600.4 123.5 C600.9 124.3 601.1 126 600.7 126.9 C600.4 127.8 599 128.8 598.2 128.9 C597.4 128.9 596.2 128 595.7 127.2 C595.2 126.4 595 124.7 595.4 123.8 C595.7 122.9 597 121.9 597.9 121.8Z"/><path d="M594 155.4 C594.7 153.7 595.7 152.7 597.4 152 C599 151.3 602.7 150.3 604.1 151.2 C605.5 152 605.6 154.7 605.7 157 C605.9 159.4 604.6 163.2 604.9 165.4 C605.2 167.7 608.1 169.1 607.4 170.4 C606.7 171.8 602.7 173.5 600.7 173.8 C598.8 174.1 597.1 173 595.7 172.1 C594.3 171.3 592.8 170.4 592.3 168.8 C591.9 167.1 592.9 164.3 593.2 162.1 C593.5 159.8 593.3 157 594 155.4Z"/><path d="M600.4 211.6 C608 210 639.2 210 647.3 211.6 C655.4 213.3 649 219.2 649 221.7 C649 224.2 648.7 225.2 647.3 226.7 C645.9 228.3 643.1 229.8 640.6 230.9 C638.1 232 634.7 233.3 632.2 233.4 C629.7 233.6 627.7 232.9 625.5 231.8 C623.3 230.6 621 228.1 618.8 226.7 C616.6 225.3 614.3 223.5 612.1 223.4 C609.9 223.2 607.2 226.2 605.4 225.9 C603.6 225.6 602 224.1 601.2 221.7 C600.4 219.3 592.7 213.3 600.4 211.6Z"/><path d="M590.3 237.6 C590.7 235.8 594.4 234.1 596.2 234.3 C598 234.4 600.6 236.9 601.2 238.5 C601.8 240 600.8 242.4 599.5 243.5 C598.3 244.6 595.2 246.2 593.7 245.2 C592.1 244.2 589.9 239.5 590.3 237.6Z"/><path d="M607.9 233.4 C609 231.6 612 229.5 613.8 229.3 C615.6 229 617.4 230.2 618.8 231.8 C620.2 233.3 621.9 236.2 622.2 238.5 C622.4 240.7 621.6 243.6 620.5 245.2 C619.4 246.7 617.1 247.7 615.4 247.7 C613.8 247.7 611.8 246.4 610.4 245.2 C609 243.9 607.5 242.1 607.1 240.1 C606.6 238.2 606.8 235.3 607.9 233.4Z"/><path d="M634.7 248.5 C635.3 246.7 637.1 245 638.9 244.3 C640.7 243.6 644 243.6 645.6 244.3 C647.3 245 648.7 246.7 649 248.5 C649.3 250.3 647 253.3 647.3 255.2 C647.6 257.2 649.3 258.3 650.7 260.3 C652.1 262.2 655.1 265.2 655.7 267 C656.2 268.8 655 270.7 654 271.2 C653 271.6 651.2 270.6 649.8 269.5 C648.4 268.4 647.4 266 645.6 264.5 C643.8 262.9 640.6 261.8 638.9 260.3 C637.2 258.7 636.3 257.2 635.6 255.2 C634.9 253.3 634.2 250.3 634.7 248.5Z"/><path d="M647.3 226.7 C647.7 224.5 650.7 224.6 652.3 225.1 C654 225.5 655.4 227.6 657.4 229.3 C659.3 230.9 661.6 233 664.1 235.1 C666.6 237.2 670.1 239.6 672.5 241.8 C674.8 244.1 677.1 246.6 678.3 248.5 C679.6 250.5 680.4 252 680 253.6 C679.6 255.1 677.6 257.6 675.8 257.8 C674 257.9 671.3 255.9 669.1 254.4 C666.9 252.9 664.6 250.3 662.4 248.5 C660.2 246.7 657.8 245.2 655.7 243.5 C653.6 241.8 651.2 241.3 649.8 238.5 C648.4 235.7 646.9 229 647.3 226.7Z"/><path d="M598.3 150.3 C599.4 147.3 602.7 150.5 605 151.2 C607.4 151.9 612.3 153.7 612.6 154.5 C612.9 155.4 607.8 154.9 606.7 156.2 C605.6 157.5 606.1 160 605.9 162.1 C605.6 164.2 606.3 167.5 605 168.8 C603.8 170 599.4 172.7 598.3 169.6 C597.2 166.5 597.2 153.4 598.3 150.3Z"/><path d="M593.4 180.5 C592.1 182.3 591.7 185.5 592.2 188.1 C592.6 190.6 594.5 193.1 595.9 195.6 C597.4 198.1 599.7 200.6 601 203.1 C602.2 205.7 603.5 207.8 603.5 210.7 C603.5 213.6 600.5 218 601 220.7 C601.4 223.5 603.9 226.2 606 227 C608.1 227.9 611 225.6 613.5 225.8 C616 226 618.1 227 621.1 228.3 C624 229.6 627.8 232.9 631.1 233.3 C634.5 233.7 638.3 232.1 641.2 230.8 C644.1 229.6 647.5 228 648.7 225.8 C650 223.5 649.2 219.9 648.6 217.4 C648 214.9 646.7 212.9 645.3 210.7 C643.9 208.5 641.8 206.2 640.2 204 C638.7 201.7 635.8 198.1 636 197.3 C636.3 196.4 640 197.8 641.9 199 C643.9 200.1 646.4 203.4 647.8 204 C649.2 204.5 650.7 203.7 650.3 202.3 C649.9 200.9 646.9 197.8 645.3 195.6 C643.6 193.4 642.2 190.4 640.2 188.9 C638.3 187.4 635.5 187.8 633.5 186.4 C631.6 185 630.2 182.3 628.5 180.5 C626.8 178.7 624.9 177.3 623.5 175.5 C622.1 173.7 621.7 170.7 620.1 169.6 C618.6 168.5 616.5 168.1 614.3 168.8 C612 169.5 609.1 172.4 606.7 173.8 C604.3 175.2 602.2 176 600 177.2 C597.8 178.3 594.7 178.7 593.4 180.5Z"/><path d="M691.9 199.3 L693.9 197.6 L698.1 202.3 L695.9 204.3Z"/><path d="M458.2 245.2 C458.5 244.1 460.3 242.2 461.9 241.8 C463.5 241.4 466.4 242 467.8 242.7 C469.2 243.4 470.6 245 470.3 246 C470 247 467.8 248.1 466.1 248.5 C464.4 249 461.6 249.1 460.2 248.5 C458.9 248 457.9 246.3 458.2 245.2Z"/><path d="M518.1 277.5 C518.8 277.5 520.1 278.9 520.1 279.6 C520.1 280.2 518.8 281.6 518.1 281.6 C517.4 281.6 516.1 280.2 516.1 279.6 C516.1 278.9 517.4 277.5 518.1 277.5Z"/><path d="M489.8 408.7 L493.3 406.7 L500.4 412 L497.3 415.2Z"/><path d="M505.9 414.5 C506 413.1 508.6 412.5 510.4 412.7 C512.2 412.9 515.9 414.5 516.7 415.7 C517.5 417 516.6 419.4 515.4 420.3 C514.3 421.2 511.5 422.2 509.9 421.3 C508.3 420.3 505.8 415.9 505.9 414.5Z"/><path d="M487.9 110.9 C488.7 110.9 489.8 111.5 490.4 112.1 C491 112.7 491.2 113.6 491.2 114.3 C491.2 115 491 115.9 490.4 116.5 C489.8 117 488.7 117.6 487.9 117.6 C487 117.6 485.9 117 485.4 116.5 C484.8 115.9 484.5 115 484.5 114.3 C484.5 113.6 484.8 112.7 485.4 112.1 C485.9 111.5 487 110.9 487.9 110.9Z"/><path d="M568 97.7 C561.5 98.3 568.6 99.8 569.5 100.9 C570.3 102 571.5 103.1 573.1 104.2 C574.6 105.4 576.9 106.7 578.8 107.8 C580.7 108.9 582.6 110 584.6 110.7 C586.5 111.4 588.4 112 590.3 112.1 C592.2 112.2 594.4 111.8 596 111.4 C597.7 111 598.9 110.7 600.4 110 C601.8 109.2 603.5 108 604.7 107.1 C605.9 106.1 606.9 105.8 607.5 104.2 C608.2 102.7 615.3 98.8 608.7 97.7 C602.1 96.7 574.6 97.2 568 97.7Z"/></g>
<g clip-path="url(#fc)">
<g fill="#4040a2"><path d="M230 100 L238.4 100 L242.6 105.1 L237.5 108.4 L235.9 115.1 L240.1 120.1 L240.9 125.2 L235 126.9 L230 126Z"/><path d="M249.3 110.9 L256.8 110.9 L256.8 114.8 L249.3 114.8Z"/><path d="M330.3 98.4 L344.9 98.4 L338.1 104.7Z"/><path d="M357 134.9 C357.2 133.6 358.7 131.3 359.2 130.2 C359.7 129.1 359.3 129 360 128.5 C360.7 128.1 361.7 127.8 363.4 127.7 C365 127.6 368.5 126.9 370.1 127.7 C371.6 128.5 371.6 131.2 372.6 132.7 C373.6 134.3 374.4 135.5 375.9 136.9 C377.5 138.3 381 139.9 381.8 141.1 C382.6 142.4 381.9 144.5 381 144.5 C380 144.5 377.7 141.4 375.9 141.1 C374.1 140.8 371.9 143.1 370.1 142.8 C368.2 142.5 366.7 140 365 139.4 C363.4 138.9 361.2 139.8 360 139.6 C358.8 139.4 358.5 139 358 138.3 C357.5 137.5 356.8 136.2 357 134.9Z"/><path d="M378.1 98.7 L393.5 98.7 L396 101.7 L401.9 100.9 L408.6 106.7 L415.3 104.2 L415.3 98.7 L430.4 98.7 L435.4 102.5 L438.8 110.9 L443.8 118.5 L448.9 125.2 L453.1 128.5 L453.9 134.4 L449.7 131 L443.8 127.7 L438.8 128.5 L438.8 137.8 L443.8 141.9 L451.4 147 L452.2 152.8 L442.2 152.8 L436.3 148.7 L430.4 143.6 L422.9 137.8 L418.7 131 L418.7 127.7 L422.9 131 L427.1 131 L432.1 126 L428.7 120.1 L423.7 113.4 L418.7 110.9 L410.3 111.8 L407.8 116.8 L401.1 116 L398.6 110.1 L391.9 107.6 L386.8 103.4 L380.1 101.7Z"/></g>
<g fill="#4294ff"><path d="M421.2 134.4 C422 133.1 425 131 427.1 131 C429.2 131 431.8 133.3 433.8 134.4 C435.7 135.5 437.3 136.5 438.8 137.8 C440.3 139 443.1 140.7 443 141.9 C442.9 143.2 439.8 144.9 438 145.3 C436.1 145.7 434.1 145 432.1 144.5 C430.1 143.9 427.9 142.9 426.2 141.9 C424.6 141 422.9 139.9 422 138.6 C421.2 137.3 420.4 135.7 421.2 134.4Z"/></g>
</g>
<g clip-path="url(#ax)"><path d="M87.1 680.3 87 680 87.7 680.1 86 677.2 85.8 680.6 86.4 680.2 86.5 680.5ZM104.9 679.3 104.9 679 105.6 679.2 104.1 676.2 103.7 679.5 104.3 679.1 104.3 679.4ZM122.8 678.4 122.8 678.1 123.4 678.4 122.4 675.2 121.5 678.4 122.2 678.1 122.2 678.4ZM140.7 677.5 140.7 677.2 141.3 677.6 140.7 674.4 139.4 677.4 140.1 677.2 140 677.5ZM158.5 676.7 158.6 676.4 159.1 676.8 158.7 673.6 157.3 676.5 158 676.3 157.9 676.6ZM176.4 675.8 176.3 675.4 177.1 675.6 175.1 672.5 175.1 676.2 175.7 675.7 175.8 676ZM194.4 674.9 194.1 674.5 195.1 674.2 190.8 671.3 192.8 676.1 193.3 675.1 193.6 675.5ZM212.3 674 211.8 673.6 213.1 672.9 206.6 670.4 210.6 676.1 210.9 674.7 211.5 675.1ZM230.1 673.4 229.5 673 230.8 672.2 223.9 670.5 228.7 675.7 228.8 674.2 229.4 674.5ZM248 672.8 247.3 672.5 248.5 671.6 241.5 670.7 246.8 675.3 246.8 673.8 247.4 674.1ZM265.8 672.3 265.1 672.1 266.2 671 259.1 670.9 265 674.9 264.7 673.4 265.4 673.6ZM283.6 671.9 282.9 671.8 283.9 670.6 276.8 671.4 283.1 674.6 282.7 673.2 283.4 673.3ZM301.4 671.6 300.7 671.6 301.5 670.2 294.6 672 301.3 674.3 300.7 672.9 301.4 673ZM319.1 671 316.1 671.5 316.8 669.7 308.3 673.7 317.6 675 316.4 673.5 319.5 673.1ZM336.9 670.8 332.3 672.2 332.7 670.4 324.9 675.6 334.3 675.6 332.9 674.2 337.5 672.8ZM354.8 670.7 349.3 672.8 349.6 671 342.1 676.7 351.5 676 350.1 674.8 355.5 672.7ZM372.6 670.7 367.3 672.9 367.5 671 360.2 677 369.5 676 368.1 674.8 373.4 672.6ZM390.5 670.7 385.2 673 385.4 671.1 378.2 677.2 387.5 676.1 386 674.9 391.4 672.6ZM408.4 670.8 403.1 673.1 403.3 671.2 396.2 677.4 405.5 676.2 404 675 409.3 672.7ZM426.4 670.9 421 673.3 421.2 671.4 414.1 677.5 423.4 676.3 421.9 675.2 427.2 672.8ZM444.3 671.1 438.9 673.3 439.1 671.4 431.8 677.3 441.2 676.4 439.7 675.2 445.1 673ZM462.3 671.3 457.4 672.9 457.7 671 450 676.3 459.4 676.2 458 674.8 462.9 673.3ZM480.3 671.6 475.8 672.5 476.4 670.7 468.1 675.2 477.5 676 476.3 674.6 480.7 673.6ZM498.3 672 493.9 672.6 494.5 670.9 486 674.9 495.3 676.2 494.2 674.7 498.6 674ZM516.2 672.4 511.9 672.9 512.6 671.2 504 674.9 513.2 676.5 512.1 675 516.4 674.5ZM534.1 672.9 529.9 673.3 530.7 671.6 521.9 675.1 531.1 677 530.1 675.4 534.3 675ZM552 673.5 547.8 673.9 548.5 672.2 539.8 675.7 549 677.5 548 676 552.2 675.6ZM569.9 674.1 565.6 674.6 566.3 672.9 557.7 676.6 567 678.3 565.9 676.7 570.1 676.2ZM587.8 674.9 583.6 675.4 584.2 673.7 575.7 677.6 585 679 583.9 677.5 588 676.9ZM605.6 675.6 601.5 676.3 602.2 674.5 593.7 678.7 603.1 679.9 601.9 678.4 605.9 677.7ZM623.4 676.5 619.5 677.3 620.1 675.5 611.8 680 621.2 680.8 620 679.4 623.9 678.5ZM641.3 677.4 637.5 678.3 638 676.5 629.9 681.3 639.3 681.7 638.1 680.4 641.8 679.4ZM659.1 678.4 655.6 679.4 656 677.5 648.1 682.6 657.5 682.7 656.2 681.4 659.7 680.4ZM676.9 679.4 673.6 680.4 674 678.6 666.3 683.9 675.6 683.7 674.3 682.4 677.5 681.4ZM86 663.1 85.9 662.8 86.6 662.9 84.7 660 84.7 663.5 85.3 662.9 85.4 663.3ZM103.9 662.1 103.8 661.7 104.6 661.9 102.9 658.9 102.6 662.4 103.2 661.9 103.3 662.2ZM121.8 661.1 121.8 660.8 122.5 661.1 121.3 658 120.6 661.2 121.2 660.9 121.2 661.2ZM139.8 660.3 139.8 660 140.4 660.4 140 657.2 138.5 660.1 139.2 659.9 139.1 660.2ZM157.7 659.6 157.8 659.3 158.3 659.9 158.9 656.5 156.5 659 157.2 659 157.1 659.3ZM175.7 658.6 175.6 658.2 176.4 658.4 174.5 655.1 174.3 658.9 174.9 658.4 175 658.7ZM193.7 657.6 193.4 657.2 194.5 656.9 189.9 653.7 192 659 192.5 657.9 192.9 658.3ZM211.7 656.8 211.1 656.3 212.5 655.7 206 653 209.9 658.9 210.3 657.4 210.8 657.8ZM229.6 656.1 229 655.8 230.3 655 223.5 653 228.1 658.4 228.3 656.9 228.8 657.3ZM247.6 655.4 246.8 655 248.3 653.9 239.4 652.3 246 658.5 246 656.6 246.8 657ZM265.4 655.1 264.7 654.9 265.8 653.8 258.7 653.4 264.4 657.7 264.3 656.1 264.9 656.4ZM283.4 654.3 281.9 654 283.2 652.6 273.8 653 281.9 657.8 281.4 656 282.9 656.4ZM301.2 654 299.2 653.7 300.3 652.2 291 653.7 299.6 657.5 298.9 655.8 301 656.1ZM318.9 653.7 316.3 654 317 652.3 308.3 656 317.6 657.6 316.5 656.1 319.2 655.8ZM336.7 653.6 332.5 654.8 332.9 653 325.1 658.2 334.5 658.2 333.1 656.8 337.3 655.6ZM354.6 653.5 348.1 656.1 348.3 654.2 341 660.1 350.3 659.2 348.9 658 355.4 655.4ZM372.6 653.4 363.9 657.1 364.1 655.2 356.9 661.2 366.2 660.2 364.7 659 373.4 655.3ZM390.6 653.4 381.2 657.5 381.4 655.6 374.2 661.7 383.5 660.6 382 659.4 391.4 655.3ZM408.5 653.5 399.1 657.9 399.2 656 392.2 662.3 401.5 660.9 400 659.8 409.4 655.4ZM426.5 653.6 417.1 658.2 417.2 656.4 410.3 662.7 419.6 661.2 418 660.1 427.4 655.5ZM444.5 653.8 439.2 656.2 439.3 654.3 432.3 660.5 441.6 659.3 440.1 658.1 445.4 655.7ZM462.6 654 457.5 655.8 457.8 653.9 450.2 659.4 459.6 659 458.2 657.7 463.2 656ZM480.7 654.3 476 655.2 476.6 653.4 468.2 657.7 477.6 658.7 476.4 657.2 481.1 656.4ZM498.7 654.7 494.1 655.4 494.8 653.6 486.3 657.7 495.6 659 494.4 657.5 499 656.8ZM516.7 655.2 512.2 655.7 512.8 654 504.3 657.8 513.6 659.3 512.4 657.8 517 657.2ZM534.7 655.7 530.3 656.1 531 654.4 522.4 658 531.6 659.8 530.5 658.2 534.9 657.7ZM552.6 656.2 548.2 656.8 548.9 655 540.3 658.8 549.6 660.4 548.5 658.9 552.9 658.3ZM570.6 656.9 566.1 657.6 566.8 655.8 558.3 659.8 567.6 661.1 566.4 659.6 570.9 659ZM588.5 657.6 584.2 658.3 584.8 656.6 576.4 660.7 585.7 661.9 584.5 660.4 588.8 659.7ZM606.4 658.4 602.3 659.2 602.8 657.4 594.6 661.8 603.9 662.7 602.7 661.3 606.8 660.4ZM624.3 659.2 620.4 660.3 620.8 658.4 612.8 663.3 622.2 663.7 620.9 662.3 624.8 661.3ZM642.2 660.2 638.5 661.3 638.9 659.4 631 664.7 640.4 664.6 639.1 663.3 642.8 662.2ZM660.1 661.1 656.6 662.3 656.9 660.5 649.3 665.9 658.7 665.6 657.3 664.3 660.7 663.1ZM678 662.2 674.8 663.4 675.1 661.5 667.6 667.2 677 666.6 675.5 665.3 678.7 664.1ZM84.9 645.8 84.7 645.5 85.5 645.5 83.3 642.9 83.7 646.3 84.1 645.7 84.3 646ZM102.8 644.8 102.7 644.5 103.4 644.5 101.4 641.9 101.6 645.2 102.1 644.7 102.2 645ZM120.8 643.8 120.8 643.5 121.5 643.7 119.8 640.8 119.6 644.1 120.2 643.7 120.2 644ZM138.9 643 138.8 642.6 139.5 642.9 138.2 639.8 137.6 643.1 138.2 642.7 138.2 643ZM156.9 642.1 156.8 641.8 157.6 642 156.2 638.8 155.5 642.3 156.2 641.8 156.2 642.2ZM174.9 641.2 174.8 640.8 175.7 640.8 172.7 637.6 173.4 641.9 174 641.2 174.2 641.6ZM193 640.2 192.6 639.8 193.9 639.4 188.4 636.2 191.2 641.9 191.7 640.6 192.1 641.1ZM211 639.5 210.5 639.1 211.9 638.4 205.2 635.8 209.3 641.6 209.6 640.1 210.2 640.5ZM229 638.8 228.4 638.5 229.7 637.7 222.8 635.8 227.6 641.2 227.7 639.6 228.3 640ZM247 638.1 246.3 637.8 247.8 636.6 239 635.1 245.5 641.2 245.5 639.3 246.3 639.7ZM264.9 637.8 264.3 637.6 265.4 636.5 258.3 636.1 264 640.4 263.8 638.8 264.5 639.1ZM282.9 637.4 282.3 637.2 283.3 636.1 276.2 636.3 282.2 640 281.9 638.5 282.6 638.7ZM300.9 637.1 300.2 637 301.1 635.7 294 636.8 300.5 639.8 300 638.3 300.7 638.4ZM318.8 636.8 318.1 636.8 318.7 635.4 312 637.9 319 639.5 318.2 638.2 318.9 638.2ZM336.6 636.3 332.7 637.2 333.2 635.4 325.1 640.1 334.5 640.6 333.2 639.2 337.1 638.3ZM354.7 636.5 354.1 636.7 354.3 635.2 348.5 639.4 355.6 639.1 354.5 638 355.1 637.8ZM372.6 636.1 367.2 638.2 367.4 636.3 360 642.1 369.4 641.4 367.9 640.2 373.4 638.1ZM390.6 636.1 385.3 638.4 385.4 636.5 378.2 642.4 387.5 641.5 386.1 640.3 391.4 638ZM408.6 636.2 403.4 638.6 403.5 636.8 396.4 643 405.7 641.7 404.2 640.5 409.5 638.1ZM426.6 636.4 416.2 641.8 416.3 639.9 409.5 646.4 418.8 644.7 417.2 643.6 427.6 638.2ZM444.7 636.5 435.8 640.8 435.9 638.9 429 645.2 438.2 643.7 436.7 642.6 445.6 638.4ZM462.9 636.8 457.4 638.8 457.7 636.9 450.2 642.6 459.5 642 458.1 640.7 463.6 638.7ZM481 637 475.6 638.4 476.1 636.6 468 641.3 477.4 641.8 476.1 640.4 481.5 639.1ZM499.1 637.4 494.1 638.4 494.7 636.6 486.4 641.1 495.7 641.9 494.5 640.5 499.5 639.5ZM517.1 637.9 512.2 638.8 512.8 637 504.5 641.3 513.8 642.3 512.6 640.9 517.5 639.9ZM535.2 638.4 530.3 639.3 530.9 637.5 522.5 641.7 531.8 642.8 530.6 641.3 535.6 640.5ZM553.2 639 548.3 639.9 548.9 638.1 540.6 642.4 549.9 643.4 548.7 641.9 553.6 641ZM571.2 639.6 566.5 640.6 567 638.8 558.8 643.3 568.1 644.1 566.9 642.7 571.6 641.7ZM589.2 640.4 584.7 641.4 585.2 639.6 577 644.3 586.4 644.9 585.1 643.5 589.7 642.4ZM607.2 641.1 602.9 642.3 603.3 640.5 595.4 645.5 604.8 645.7 603.5 644.3 607.7 643.2ZM625.1 642 621.2 643.3 621.5 641.5 613.8 646.9 623.2 646.6 621.8 645.3 625.8 644ZM643.1 642.9 639.4 644.3 639.7 642.5 632.2 648.2 641.6 647.5 640.2 646.3 643.8 644.9ZM661 643.9 657.7 645.3 657.9 643.5 650.6 649.5 660 648.4 658.5 647.3 661.9 645.8ZM679 645 676 646.3 676.1 644.5 669 650.6 678.3 649.4 676.8 648.2 679.9 646.9ZM83.7 628.5 83.6 628.2 84.3 628.2 81.8 625.9 82.6 629.1 83 628.5 83.2 628.8ZM101.8 627.4 101.6 627.2 102.3 627.1 99.7 624.9 100.7 628.1 101 627.5 101.2 627.8ZM119.8 626.5 119.7 626.2 120.4 626.1 117.9 623.7 118.7 627.1 119.1 626.5 119.3 626.8ZM137.9 625.6 137.8 625.2 138.6 625.3 136.1 622.4 136.6 626.2 137.1 625.5 137.3 625.9ZM156.1 624.7 155.9 624.3 156.8 624.3 153.8 621.3 154.6 625.4 155.1 624.7 155.3 625.1ZM174.1 623.8 173.8 623.4 174.9 623.1 170.7 620.4 172.7 625 173.1 624 173.4 624.4ZM192.3 622.9 191.8 622.5 193.1 621.9 186.9 619.3 190.6 624.8 191 623.4 191.5 623.9ZM210.3 622.1 209.8 621.8 211.1 621 204.3 619 208.8 624.4 209 622.9 209.6 623.3ZM228.4 621.5 227.8 621.2 229 620.3 222 618.9 227.1 623.9 227.1 622.4 227.7 622.7ZM246.4 621 245.8 620.7 247 619.7 239.9 618.9 245.4 623.5 245.3 622 245.9 622.2ZM264.5 620.5 263.8 620.3 264.9 619.2 257.8 619 263.6 623.1 263.4 621.6 264 621.8ZM282.5 620.1 281.9 619.9 282.8 618.8 275.7 619.2 281.9 622.7 281.5 621.3 282.2 621.4ZM300.6 619.7 299.9 619.7 300.7 618.4 293.7 619.7 300.3 622.5 299.7 621 300.4 621.1ZM318.6 619.5 317.9 619.5 318.5 618.1 311.8 620.5 318.7 622.2 317.9 620.9 318.6 620.8ZM336.5 618.9 333.3 619.5 333.9 617.7 325.5 622 334.8 623.1 333.6 621.6 336.9 621ZM354.6 618.8 350.2 620 350.6 618.2 342.7 623.1 352 623.4 350.7 622 355.1 620.8ZM372.6 618.8 367.4 620.4 367.8 618.6 360 623.9 369.4 623.7 368 622.4 373.3 620.8ZM390.7 618.8 385.2 620.7 385.5 618.8 377.9 624.3 387.3 623.9 385.9 622.7 391.4 620.8ZM408.8 618.9 403.4 621.1 403.6 619.2 396.3 625.1 405.6 624.2 404.2 623 409.6 620.8ZM426.9 619 421.6 621.5 421.7 619.6 414.7 625.8 424 624.5 422.5 623.4 427.7 620.9ZM445 619.2 435.6 623.6 435.7 621.7 428.7 628 438 626.6 436.5 625.5 445.9 621.1ZM463.1 619.5 457.7 621.7 457.9 619.8 450.6 625.7 460 624.8 458.5 623.6 463.9 621.4ZM481.3 619.8 475.8 621.6 476.1 619.7 468.4 625.1 477.8 624.8 476.4 623.5 482 621.7ZM499.5 620.1 494.2 621.7 494.6 619.8 486.7 624.9 496.1 625 494.8 623.7 500 622.1ZM517.6 620.6 512.3 622 512.7 620.2 504.8 625.1 514.2 625.4 512.9 624 518.1 622.6ZM535.7 621.1 530.2 622.5 530.6 620.7 522.6 625.6 532 625.9 530.7 624.6 536.2 623.1ZM553.8 621.7 548.5 623.1 548.9 621.3 541 626.3 550.3 626.5 549 625.2 554.3 623.7ZM571.8 622.4 566.9 623.8 567.3 622 559.4 627.1 568.8 627.2 567.5 625.8 572.4 624.4ZM589.9 623.1 585.2 624.6 585.5 622.8 577.8 628.1 587.2 627.9 585.8 626.6 590.5 625.1ZM607.9 623.9 603.5 625.5 603.8 623.6 596.3 629.3 605.7 628.7 604.3 627.5 608.7 625.8ZM626 624.8 622 626.4 622.2 624.6 615 630.6 624.3 629.5 622.8 628.4 626.8 626.7ZM644 625.7 640.4 627.4 640.5 625.5 633.6 631.9 642.8 630.4 641.3 629.3 644.9 627.6ZM662 626.7 658.8 628.4 658.8 626.5 652.1 633.1 661.3 631.3 659.7 630.3 663 628.5ZM680.1 627.7 677.2 629.3 677.2 627.4 670.6 634.2 679.8 632.2 678.2 631.1 681.1 629.6ZM82.6 611.2 82.4 610.9 83.1 610.8 80.4 608.7 81.5 611.9 81.9 611.3 82 611.6ZM100.7 610.1 100.5 609.8 101.2 609.7 98.2 607.8 99.7 611 100 610.3 100.2 610.5ZM118.8 609.1 118.6 608.8 119.4 608.7 116.3 606.6 117.7 610 118.1 609.3 118.3 609.6ZM137 608.2 136.8 607.9 137.6 607.7 134.3 605.4 135.8 609.1 136.2 608.4 136.4 608.7ZM155.1 607.3 154.8 607 155.7 606.7 151.9 604.5 153.9 608.4 154.2 607.6 154.5 607.9ZM173.3 606.4 172.9 606.1 173.8 605.6 169.1 603.9 172.1 608 172.3 606.9 172.7 607.2ZM191.4 605.5 190.9 605.2 192 604.5 186 603.2 190.3 607.6 190.3 606.3 190.9 606.6ZM209.6 604.8 209 604.5 210.2 603.6 203.2 602.4 208.4 607.2 208.4 605.7 209 606ZM227.7 604.2 227.1 603.9 228.2 602.9 221.1 602.3 226.7 606.7 226.6 605.2 227.2 605.4ZM245.9 603.6 245.2 603.4 246.3 602.3 239.2 602.1 245 606.2 244.8 604.7 245.4 604.9ZM264 603.2 263.3 603 264.4 601.9 257.3 602 263.3 605.8 263 604.3 263.6 604.5ZM282.1 602.8 281.5 602.6 282.4 601.4 275.3 602 281.6 605.4 281.2 603.9 281.8 604.1ZM300.2 602.4 299.6 602.3 300.4 601.1 293.4 602.3 299.9 605.1 299.4 603.7 300.1 603.8ZM318.3 602.2 317.7 602.2 318.3 600.8 311.5 602.9 318.4 604.9 317.7 603.5 318.4 603.5ZM336.4 601.6 334 601.9 334.7 600.1 326.1 603.9 335.4 605.5 334.3 604 336.7 603.7ZM354.5 601.5 351.4 602.1 352 600.3 343.7 604.6 353 605.6 351.8 604.1 354.9 603.5ZM372.7 601.4 368.7 602.4 369.2 600.5 361.1 605.2 370.5 605.8 369.2 604.4 373.1 603.5ZM390.8 601.4 386.1 602.7 386.6 600.9 378.6 605.8 388 606.1 386.7 604.7 391.4 603.5ZM409 601.5 403.4 603.3 403.8 601.4 396 606.7 405.4 606.6 404 605.3 409.6 603.5ZM427.1 601.7 421.7 603.8 421.9 601.9 414.5 607.7 423.9 606.9 422.4 605.7 427.8 603.6ZM445.2 601.9 439.9 604.3 440 602.5 433 608.7 442.3 607.4 440.8 606.2 446.1 603.8ZM463.4 602.1 458.1 604.5 458.2 602.6 451.1 608.7 460.4 607.5 458.9 606.4 464.2 604.1ZM481.6 602.5 476.2 604.6 476.4 602.7 469.1 608.6 478.4 607.8 477 606.5 482.4 604.4ZM499.8 602.8 494.5 604.9 494.7 603 487.3 608.7 496.7 608 495.2 606.8 500.6 604.8ZM518 603.3 512.7 605.2 513 603.4 505.4 609 514.8 608.5 513.4 607.2 518.7 605.3ZM536.2 603.8 530.7 605.8 531 603.9 523.5 609.5 532.9 609 531.4 607.7 536.9 605.8ZM554.3 604.4 549.1 606.4 549.3 604.5 541.8 610.2 551.2 609.6 549.8 608.3 555.1 606.4ZM572.5 605.1 567.5 607 567.7 605.2 560.4 611 569.7 610.2 568.3 609 573.2 607ZM590.6 605.8 585.9 607.8 586.1 605.9 578.9 611.9 588.2 610.9 586.8 609.7 591.4 607.7ZM608.7 606.6 604.5 608.6 604.6 606.8 597.6 613.1 606.9 611.6 605.4 610.5 609.6 608.5ZM626.8 607.5 623 609.5 623.1 607.6 616.4 614.3 625.6 612.4 624 611.4 627.8 609.3ZM644.9 608.4 641.5 610.5 641.5 608.6 635.2 615.6 644.3 613.2 642.6 612.3 646 610.2ZM663 609.4 660 611.4 659.8 609.5 653.8 616.7 662.8 614 661.1 613.2 664.1 611.2ZM681.1 610.5 678.5 612.2 678.3 610.4 672.4 617.7 681.4 614.8 679.7 614 682.3 612.2ZM81.4 593.9 81.2 593.6 82 593.5 79.2 591.5 80.4 594.7 80.7 594 80.9 594.3ZM99.6 592.8 99.4 592.5 100.1 592.3 97.1 590.5 98.6 593.7 98.9 593 99.1 593.2ZM117.8 591.8 117.6 591.5 118.3 591.3 115 589.5 116.8 592.8 117.1 592 117.3 592.3ZM136 590.8 135.7 590.5 136.5 590.2 132.8 588.5 135 592 135.2 591.1 135.5 591.4ZM154.2 589.9 153.9 589.7 154.7 589.2 150.5 587.9 153.3 591.3 153.4 590.4 153.7 590.6ZM172.4 589 171.9 588.8 172.7 588.1 167.8 587.7 171.7 590.8 171.6 589.7 172 589.9ZM190.6 588.2 190.1 588 190.9 587.2 185.2 587.1 189.9 590.3 189.7 589.1 190.3 589.2ZM208.8 587.5 208.3 587.3 209.2 586.3 202.8 586.2 208.1 589.8 207.9 588.5 208.5 588.7ZM227.1 586.8 226.4 586.7 227.4 585.5 220.4 585.7 226.4 589.4 226.1 587.9 226.7 588.1ZM245.3 586.3 244.6 586.1 245.6 585 238.5 585.4 244.7 588.9 244.3 587.5 245 587.6ZM263.5 585.8 262.9 585.7 263.9 584.5 256.8 584.8 262.9 588.5 262.5 587 263.2 587.1ZM281.8 585.4 281.1 585.3 282.1 584.1 275 584.5 281.1 588.1 280.8 586.6 281.5 586.8ZM300 585.1 299.3 585 300.2 583.7 293.1 584.6 299.5 587.8 299.1 586.3 299.7 586.4ZM318.2 584.8 317.5 584.8 318.2 583.5 311.3 585.1 318 587.5 317.4 586.1 318.1 586.2ZM336.3 584.6 335.7 584.6 336.3 583.3 329.6 585.5 336.4 587.3 335.7 586 336.4 586ZM354.5 584.1 352.8 584.3 353.5 582.6 344.9 586.2 354.1 587.9 353 586.4 354.7 586.2ZM372.7 584.1 369.8 584.5 370.5 582.7 362 586.7 371.3 588.1 370.1 586.6 373 586.1ZM390.9 584.1 386.8 584.8 387.4 583 379 587.3 388.3 588.3 387.2 586.9 391.3 586.1ZM409.2 584.1 404.1 585.2 404.6 583.4 396.4 588 405.7 588.7 404.5 587.3 409.6 586.2ZM427.4 584.3 421.9 585.7 422.4 583.8 414.3 588.7 423.7 589.1 422.4 587.7 427.9 586.3ZM445.5 584.5 440.1 586.6 440.3 584.8 432.9 590.6 442.3 589.8 440.8 588.6 446.3 586.5ZM463.7 584.8 458.4 587.2 458.5 585.3 451.5 591.5 460.8 590.3 459.3 589.1 464.6 586.7ZM481.9 585.1 476.7 587.7 476.8 585.8 469.9 592.2 479.2 590.7 477.6 589.6 482.8 587ZM500.2 585.5 495.1 588 495.2 586.1 488.2 592.4 497.5 591 496 589.9 501.1 587.4ZM518.4 586 513.4 588.4 513.5 586.5 506.5 592.7 515.8 591.4 514.3 590.3 519.3 587.9ZM536.7 586.5 531.5 589 531.6 587.1 524.6 593.4 533.9 592 532.4 590.9 537.6 588.4ZM554.9 587.1 549.9 589.5 550 587.7 543 594 552.3 592.5 550.8 591.4 555.8 589ZM573.1 587.8 568.4 590.2 568.5 588.3 561.6 594.7 570.9 593.1 569.3 592 574.1 589.7ZM591.3 588.5 586.9 590.9 586.9 589 580.3 595.7 589.5 593.8 587.9 592.7 592.3 590.4ZM609.5 589.3 605.5 591.7 605.5 589.8 599.1 596.8 608.2 594.5 606.6 593.5 610.6 591.1ZM627.6 590.2 624.2 592.6 624 590.7 618.1 598 627.1 595.1 625.4 594.3 628.8 592ZM645.8 591.2 642.8 593.4 642.6 591.6 637 599.2 645.8 595.9 644.1 595.1 647.1 592.8ZM664 592.2 661.4 594.3 661 592.5 655.8 600.2 664.5 596.6 662.7 595.9 665.3 593.8ZM682.2 593.3 679.9 595.1 679.6 593.3 674.4 601.1 683 597.4 681.3 596.7 683.5 594.9ZM80.3 576.5 80.1 576.3 80.8 576.1 78 574.2 79.3 577.4 79.6 576.7 79.8 576.9ZM98.5 575.4 98.3 575.2 99 575 96 573.2 97.6 576.4 97.8 575.7 98 575.9ZM116.8 574.4 116.5 574.2 117.3 573.9 113.9 572.2 115.8 575.5 116 574.7 116.3 575ZM135.1 573.4 134.8 573.2 135.5 572.8 131.7 571.4 134.1 574.7 134.3 573.8 134.6 574.1ZM153.3 572.5 152.9 572.3 153.7 571.8 149.4 570.8 152.5 574 152.5 573.1 152.9 573.3ZM171.5 571.7 171.1 571.5 171.8 570.8 167 570.7 171 573.4 170.8 572.4 171.3 572.6ZM189.8 570.9 189.3 570.8 190 569.9 184.8 570.2 189.3 572.9 189.1 571.8 189.6 571.9ZM208.1 570.2 207.6 570 208.4 569.1 202.7 569.3 207.6 572.3 207.3 571.1 207.8 571.2ZM226.4 569.6 225.9 569.4 226.7 568.4 220.6 568.7 225.9 571.8 225.6 570.6 226.2 570.7ZM244.7 569 244.1 568.8 245 567.7 238.4 568.2 244.2 571.4 243.8 570.1 244.5 570.2ZM263.1 568.5 262.4 568.3 263.5 567.2 256.3 567.3 262.4 571.1 262.1 569.6 262.7 569.8ZM281.4 568.1 280.8 567.9 281.8 566.8 274.7 566.8 280.6 570.7 280.4 569.2 281 569.4ZM299.7 567.7 299.1 567.6 300.1 566.4 293 566.5 299 570.4 298.7 568.9 299.4 569.1ZM318 567.5 317.3 567.3 318.2 566.1 311.2 566.9 317.5 570.1 317.1 568.7 317.7 568.8ZM336.2 567.3 335.6 567.2 336.4 565.9 329.4 567.3 336 570 335.4 568.6 336.1 568.6ZM354.5 567.1 353.8 567.1 354.5 565.8 347.7 567.8 354.5 569.8 353.8 568.5 354.5 568.5ZM372.8 566.7 370.9 566.8 371.7 565.1 362.9 568.3 372 570.5 371 568.9 372.9 568.8ZM391.1 566.7 387.2 567.1 388 565.3 379.3 568.9 388.5 570.7 387.5 569.1 391.3 568.8ZM409.3 566.8 404.4 567.5 405 565.7 396.5 569.7 405.8 571.1 404.7 569.6 409.6 568.8ZM427.6 566.9 422.3 568.1 422.8 566.3 414.6 570.9 424 571.6 422.7 570.1 428 569ZM445.8 567.1 440.3 569 440.6 567.1 432.9 572.6 442.3 572.3 440.9 571 446.5 569.1ZM464 567.5 458.7 569.9 458.9 568 451.8 574.3 461.1 572.9 459.6 571.8 464.9 569.3ZM482.3 567.8 477.5 570.6 477.4 568.7 471 575.5 480.1 573.4 478.5 572.4 483.3 569.6ZM500.6 568.2 496.2 570.7 496.1 568.8 489.6 575.5 498.8 573.5 497.2 572.5 501.6 570ZM518.9 568.7 514.5 571.1 514.4 569.2 507.9 576 517.1 574 515.5 573 519.9 570.5ZM537.2 569.2 532.3 572 532.3 570.1 525.8 576.9 535 574.8 533.4 573.8 538.2 571ZM555.5 569.8 551 572.5 550.9 570.6 544.5 577.5 553.6 575.2 552 574.3 556.5 571.6ZM573.8 570.5 569.6 573.1 569.5 571.2 563.2 578.2 572.3 575.8 570.7 574.8 574.9 572.3ZM592 571.2 588.1 573.8 587.9 572 581.9 579.2 590.9 576.5 589.2 575.6 593.2 573ZM610.3 572.1 606.8 574.6 606.5 572.8 600.9 580.3 609.7 577.1 608 576.3 611.5 573.7ZM628.5 573 625.5 575.4 625.2 573.6 620 581.5 628.6 577.7 626.9 577 629.8 574.6ZM646.7 573.9 644.2 576.4 643.7 574.6 639.1 582.7 647.4 578.4 645.6 577.9 648.2 575.4ZM665 575 662.8 577.2 662.2 575.4 657.9 583.8 666.1 579.2 664.3 578.7 666.5 576.4ZM683.2 576 681.4 577.9 680.8 576.1 676.4 584.4 684.7 579.9 682.8 579.4 684.7 577.5ZM79.1 559.2 78.9 558.9 79.6 558.8 76.8 556.9 78.1 560 78.4 559.4 78.6 559.6ZM97.4 558.1 97.2 557.9 97.9 557.6 94.9 556 96.5 559 96.7 558.3 97 558.6ZM115.8 557.1 115.5 556.8 116.3 556.5 112.8 554.9 114.8 558.2 115 557.4 115.3 557.6ZM134.1 556.1 133.8 555.8 134.6 555.5 130.7 553.9 133.1 557.4 133.3 556.5 133.6 556.7ZM152.5 555.2 152.1 555 152.9 554.5 148.6 553.2 151.5 556.6 151.6 555.7 152 555.9ZM170.8 554.4 170.4 554.2 171.2 553.5 166.6 552.9 170 556 170 555 170.4 555.2ZM189.1 553.6 188.7 553.4 189.4 552.7 184.6 552.4 188.5 555.3 188.4 554.3 188.8 554.5ZM207.5 552.9 207 552.7 207.8 552 202.8 551.8 206.9 554.7 206.7 553.7 207.2 553.8ZM225.9 552.3 225.4 552.1 226.2 551.3 220.9 551.2 225.2 554.2 225.1 553.1 225.5 553.2ZM244.2 551.7 243.7 551.5 244.6 550.7 238.9 550.5 243.5 553.8 243.4 552.6 243.9 552.7ZM262.7 551.2 262.1 551 263.1 550.1 256.9 549.7 261.8 553.4 261.7 552.1 262.2 552.3ZM281.1 550.8 280.5 550.5 281.6 549.6 274.9 549 280.1 553.2 280 551.7 280.6 552ZM299.5 550.4 298.9 550.1 300 549.1 292.9 548.5 298.5 552.9 298.3 551.4 299 551.7ZM317.8 550.1 317.2 549.9 318.3 548.8 311.2 548.6 317 552.7 316.8 551.2 317.4 551.4ZM336.2 549.9 335.5 549.7 336.5 548.6 329.4 549 335.5 552.5 335.2 551.1 335.9 551.2ZM354.5 549.8 353.8 549.7 354.7 548.4 347.7 549.5 354.1 552.5 353.6 551 354.3 551.1ZM372.8 549.7 372.1 549.7 372.9 548.3 366 550.1 372.7 552.4 372.1 551 372.8 551ZM391.2 549.3 388.1 549.4 388.9 547.7 380.1 550.8 389.2 553.1 388.2 551.5 391.2 551.4ZM409.5 549.4 405 549.9 405.7 548.2 397.1 552 406.3 553.6 405.2 552 409.7 551.5ZM427.8 549.5 422.9 550.6 423.5 548.8 415.2 553.3 424.6 554 423.4 552.6 428.2 551.6ZM446.1 549.8 441.5 551.2 441.9 549.3 434.1 554.6 443.5 554.5 442.1 553.2 446.7 551.8ZM464.3 550.1 460.3 551.9 460.4 550 453.3 556.2 462.6 555 461.1 553.8 465.2 552ZM482.7 550.4 479 552.5 479 550.6 472.4 557.4 481.6 555.3 480 554.3 483.7 552.3ZM501 550.9 497.6 552.9 497.5 551 491.2 557.9 500.3 555.6 498.7 554.7 502.1 552.7ZM519.4 551.3 516.1 553.3 516 551.5 509.7 558.5 518.8 556.1 517.2 555.1 520.5 553.1ZM537.7 551.9 534.1 554.2 534 552.4 527.9 559.5 536.9 556.9 535.3 556 538.9 553.6ZM556.1 552.5 552.5 555 552.3 553.1 546.4 560.4 555.3 557.6 553.7 556.7 557.3 554.2ZM574.4 553.2 571.1 555.6 570.8 553.8 565.1 561.2 574 558.1 572.3 557.3 575.7 554.9ZM592.8 553.9 589.7 556.3 589.4 554.5 583.9 562.1 592.7 558.7 591 558 594.1 555.6ZM611.1 554.8 608.3 557.2 607.9 555.3 602.9 563.3 611.5 559.4 609.7 558.7 612.5 556.3ZM629.4 555.7 627 558.1 626.4 556.3 622 564.7 630.3 560.1 628.5 559.6 630.9 557.1ZM647.7 556.7 645.6 559.2 644.9 557.4 641.2 566.1 649 560.9 647.2 560.5 649.3 558ZM666 557.7 664.1 560.1 663.4 558.3 660 567.1 667.7 561.6 665.8 561.3 667.6 559ZM684.3 558.7 682.8 560.6 682.1 558.9 678.5 567.5 686.3 562.3 684.4 561.9 685.9 560.1ZM78 541.9 77.8 541.6 78.5 541.4 75.6 539.5 76.9 542.7 77.2 542 77.5 542.3ZM96.4 540.8 96.1 540.5 96.9 540.3 93.7 538.5 95.4 541.7 95.6 541 95.9 541.2ZM114.8 539.7 114.5 539.5 115.3 539.2 111.8 537.4 113.7 540.8 114 540 114.3 540.3ZM133.2 538.7 132.9 538.5 133.8 538.1 129.8 536.2 132.1 540 132.3 539.1 132.6 539.4ZM151.6 537.8 151.3 537.6 152.2 537.2 147.9 535.2 150.5 539.2 150.7 538.2 151.1 538.5ZM170 537 169.7 536.8 170.5 536.3 166.2 534.9 169 538.4 169.2 537.5 169.5 537.7ZM188.4 536.3 188.1 536.1 188.8 535.6 184.6 534.6 187.6 537.7 187.6 536.8 188 537ZM206.8 535.6 206.5 535.4 207.2 534.9 203 534 206.1 537.1 206.1 536.2 206.5 536.3ZM225.3 535 224.9 534.8 225.7 534.2 221.3 533.4 224.5 536.5 224.5 535.6 224.9 535.8ZM243.8 534.4 243.4 534.2 244.2 533.6 239.4 532.7 242.9 536.1 242.9 535 243.3 535.3ZM262.2 533.9 261.8 533.7 262.7 533 257.5 532 261.3 535.7 261.3 534.6 261.8 534.8ZM280.7 533.5 280.2 533.2 281.2 532.5 275.6 531.4 279.7 535.4 279.7 534.2 280.2 534.5ZM299.2 533.1 298.7 532.8 299.7 532.1 293.7 530.9 298.1 535.2 298.1 533.9 298.6 534.2ZM317.7 532.8 317.1 532.5 318.2 531.7 311.7 530.6 316.5 535.1 316.5 533.7 317.1 533.9ZM336.1 532.6 335.5 532.3 336.6 531.3 329.6 530.6 335.1 535 335 533.5 335.6 533.8ZM354.5 532.4 353.8 532.2 354.9 531.1 347.8 531.1 353.7 535 353.5 533.5 354.1 533.7ZM372.9 532.3 372.2 532.2 373.1 531 366 531.9 372.4 535 372 533.5 372.7 533.6ZM391.3 532.3 390.6 532.3 391.3 530.9 384.4 532.8 391.2 535 390.5 533.6 391.2 533.7ZM409.6 532 406.1 532.4 406.9 530.6 398.2 534.2 407.4 536 406.4 534.4 409.8 534.1ZM428 532.2 423.9 533 424.5 531.2 416.2 535.6 425.5 536.5 424.3 535 428.4 534.2ZM446.3 532.4 443.1 533.4 443.5 531.5 435.6 536.7 445 536.7 443.7 535.4 446.9 534.4ZM464.7 532.7 462.1 533.8 462.2 532 455.1 538 464.4 536.9 462.9 535.7 465.5 534.6ZM483 533.1 480.7 534.4 480.7 532.5 474.1 539.2 483.3 537.2 481.7 536.2 484 534.9ZM501.5 533.5 499.1 534.9 499 533 492.8 540 501.9 537.6 500.2 536.7 502.5 535.3ZM519.9 534 517.6 535.5 517.4 533.6 511.4 540.9 520.4 538.1 518.7 537.3 521 535.7ZM538.3 534.5 535.7 536.4 535.5 534.5 529.8 542 538.7 538.9 537 538.1 539.5 536.2ZM556.7 535.2 554.1 537.3 553.7 535.4 548.4 543.1 557.1 539.6 555.4 538.9 558 536.8ZM575.1 535.9 572.6 538 572.2 536.1 567.1 544 575.7 540.2 574 539.6 576.5 537.4ZM593.5 536.6 591.3 538.6 590.9 536.8 586 544.8 594.5 540.8 592.7 540.1 594.9 538.2ZM611.9 537.5 609.9 539.6 609.3 537.8 605 546.1 613.2 541.5 611.4 541 613.4 538.9ZM630.3 538.4 628.4 540.7 627.7 538.9 624 547.6 631.8 542.4 630 542 631.9 539.7ZM648.6 539.4 646.9 541.8 646.1 540.1 643.1 548.9 650.5 543.2 648.6 543 650.3 540.6ZM667 540.4 665.6 542.6 664.7 540.9 661.9 549.9 669.2 543.9 667.3 543.8 668.8 541.6ZM685.4 541.5 684.3 543.1 683.4 541.5 680.5 550.4 687.8 544.5 686 544.3 687.1 542.7ZM76.8 524.5 76.6 524.2 77.3 524.1 74.5 522.1 75.8 525.3 76.1 524.6 76.3 524.9ZM95.3 523.4 95 523.1 95.8 522.9 92.6 521.1 94.3 524.3 94.5 523.6 94.8 523.9ZM113.7 522.4 113.5 522.1 114.3 521.8 110.8 520 112.7 523.4 113 522.6 113.2 522.9ZM132.3 521.4 132 521.1 132.8 520.8 129.1 518.9 131.1 522.5 131.4 521.7 131.7 522ZM150.8 520.5 150.5 520.2 151.4 519.9 147.5 517.8 149.6 521.7 149.9 520.8 150.2 521.1ZM169.2 519.7 168.9 519.4 169.8 519.1 166 517.4 168.2 520.9 168.4 520 168.7 520.3ZM187.7 519 187.4 518.8 188.2 518.4 184.6 516.9 186.8 520.1 186.9 519.3 187.2 519.5ZM206.2 518.3 205.9 518.1 206.7 517.8 203.2 516.3 205.3 519.4 205.5 518.6 205.7 518.9ZM224.7 517.7 224.5 517.5 225.2 517.2 221.7 515.5 223.7 518.8 224 518 224.2 518.3ZM243.3 517.2 243 516.9 243.8 516.5 240 514.7 242.2 518.4 242.4 517.5 242.7 517.8ZM261.8 516.6 261.5 516.4 262.4 516 258.2 514.2 260.7 518 260.9 517 261.2 517.3ZM280.3 516.2 280 515.9 280.9 515.5 276.3 513.8 279.2 517.7 279.4 516.7 279.8 517ZM298.9 515.8 298.5 515.5 299.5 515 294.6 513.3 297.7 517.5 297.9 516.3 298.3 516.6ZM317.4 515.5 317 515.2 318.1 514.6 312.7 512.7 316.1 517.3 316.4 516.1 316.8 516.4ZM336 515.3 335.5 514.9 336.7 514.2 330.5 512.3 334.6 517.3 334.8 515.9 335.3 516.3ZM354.5 515 353.9 514.7 355.2 513.8 348.2 512.5 353.2 517.4 353.3 515.9 353.9 516.2ZM373 514.8 372.3 514.6 373.5 513.4 365.3 513 372 517.8 371.7 516.1 372.5 516.3ZM391.4 514.8 390.6 514.6 391.7 513.2 383.3 514.2 390.9 517.9 390.3 516.2 391.1 516.4ZM409.8 515 409.1 515 409.8 513.6 403 515.6 409.8 517.7 409.1 516.3 409.8 516.3ZM428.2 514.7 426.3 515 427 513.2 418.4 516.9 427.6 518.6 426.6 517 428.5 516.8ZM446.7 515.3 446.1 515.5 446.4 514 440.2 517.5 447.3 518 446.4 516.8 447 516.6ZM465 515.3 464 515.7 464.2 513.8 456.8 519.6 466.2 518.9 464.7 517.6 465.8 517.2ZM483.5 515.6 482.3 516.2 482.4 514.3 475.6 520.8 484.8 519.2 483.3 518.1 484.4 517.5ZM501.9 516.1 500.6 516.9 500.6 515 494.2 521.8 503.3 519.6 501.7 518.7 503 517.9ZM520.4 516.6 518.9 517.7 518.6 515.8 512.8 523.2 521.7 520.2 520 519.4 521.6 518.3ZM538.9 517.2 537.1 518.5 536.8 516.7 531.4 524.4 540.2 520.9 538.4 520.2 540.2 518.8ZM557.3 517.8 555.5 519.5 555 517.7 550.2 525.7 558.6 521.7 556.9 521.1 558.7 519.4ZM575.8 518.5 574 520.3 573.5 518.5 569 526.8 577.3 522.3 575.5 521.8 577.3 520ZM594.3 519.3 592.7 521 592.1 519.3 588 527.7 596 522.9 594.2 522.5 595.8 520.7ZM612.7 520.1 611.2 522.1 610.5 520.3 606.8 529 614.6 523.7 612.8 523.4 614.3 521.5ZM631.2 521.1 629.7 523.2 628.9 521.5 625.8 530.3 633.2 524.6 631.4 524.4 632.9 522.3ZM649.6 522.1 648.3 524.2 647.4 522.6 644.9 531.6 651.9 525.4 650.1 525.3 651.4 523.2ZM668.1 523.1 667 525.1 666 523.5 663.8 532.6 670.7 526.1 668.8 526.1 669.9 524.1ZM686.6 524.2 685.7 525.6 684.8 523.9 682.4 533 689.4 526.7 687.5 526.6 688.4 525.2ZM75.6 507.1 75.4 506.9 76.2 506.7 73.4 504.7 74.6 507.9 74.9 507.3 75.1 507.5ZM94.1 506 93.9 505.8 94.6 505.5 91.5 503.8 93.2 507 93.4 506.2 93.7 506.5ZM112.7 505 112.4 504.8 113.2 504.5 110 502.8 111.7 506 112 505.2 112.2 505.5ZM131.3 504.1 131 503.8 131.8 503.6 128.5 501.8 130.2 505 130.5 504.3 130.7 504.5ZM149.8 503.2 149.6 502.9 150.3 502.7 147.1 500.8 148.8 504.2 149.1 503.4 149.3 503.7ZM168.4 502.4 168.2 502.1 168.9 501.9 165.9 500.1 167.4 503.3 167.7 502.6 167.9 502.8ZM187 501.7 186.8 501.4 187.4 501.3 184.7 499.4 186 502.5 186.3 501.8 186.5 502.1ZM205.6 501 205.4 500.8 206.1 500.6 203.4 498.6 204.5 501.8 204.8 501.1 205 501.4ZM224.2 500.4 224 500.1 224.8 500 222 497.6 223 501.1 223.4 500.5 223.6 500.8ZM242.8 499.9 242.6 499.5 243.5 499.5 240.5 496.6 241.4 500.7 241.9 499.9 242.1 500.3ZM261.4 499.4 261.2 499 262.1 498.9 258.9 496 260 500.2 260.5 499.4 260.7 499.8ZM280 498.9 279.7 498.6 280.7 498.4 277.2 495.8 278.7 499.9 279.1 499.1 279.3 499.4ZM298.6 498.6 298.3 498.2 299.2 498 295.5 495.6 297.3 499.7 297.7 498.8 297.9 499.1ZM317.2 498.3 316.9 497.9 317.9 497.6 313.7 495 315.8 499.5 316.2 498.5 316.5 498.9ZM335.9 498 335.5 497.6 336.7 497.2 331.6 494.3 334.3 499.5 334.7 498.3 335.1 498.8ZM354.5 497.8 354 497.4 355.3 496.9 349.5 494.2 352.9 499.6 353.2 498.3 353.7 498.7ZM373.1 497.6 372.5 497.2 373.8 496.5 367.3 494.4 371.6 499.8 371.8 498.3 372.3 498.7ZM391.6 497.5 391 497.3 392.2 496.3 385.1 495.3 390.4 500 390.4 498.5 391 498.8ZM410.1 497.5 409.3 497.3 410.5 496 402.3 496.3 409.3 500.5 409 498.8 409.7 499ZM428.6 497.6 427.8 497.5 428.7 496 420.7 497.8 428.3 500.7 427.7 499.1 428.5 499.1ZM447.1 497.8 446.3 497.8 446.9 496.2 439.2 499.3 447.4 501 446.4 499.4 447.2 499.4ZM465.5 498.1 464.8 498.2 465.2 496.5 457.9 500.8 466.3 501.2 465.1 499.8 465.9 499.6ZM484.1 498.5 483.5 498.8 483.6 497.3 477.9 501.5 485 501.1 483.9 500.1 484.6 499.8ZM502.6 498.8 501.8 499.2 501.9 497.3 495.4 503.2 504 501.9 502.5 500.7 503.3 500.3ZM521.1 499.3 520.3 499.7 520.2 497.8 514.1 504.5 522.9 502.3 521.2 501.2 522 500.8ZM539.5 499.8 538.7 500.4 538.4 498.5 532.8 506.1 541.6 502.8 539.9 502.1 540.7 501.4ZM558 500.5 556.7 501.7 556.2 499.9 551.7 508.1 560 503.7 558.2 503.2 559.4 501.9ZM576.5 501.2 575.2 502.5 574.7 500.7 570.4 509.1 578.6 504.4 576.8 503.9 578 502.6ZM595.1 502 593.9 503.4 593.2 501.6 589.6 510.3 597.4 505 595.5 504.7 596.7 503.3ZM613.6 502.8 612.2 504.6 611.4 502.9 608 511.7 615.7 506.2 613.8 505.9 615.3 504.1ZM632.1 503.7 630.7 505.8 629.9 504.1 626.9 513 634.3 507.2 632.4 506.9 633.9 504.9ZM650.6 504.7 649.6 506.6 648.6 505 646.5 514.1 653.3 507.6 651.4 507.6 652.5 505.8ZM669.2 505.8 668.3 507.4 667.3 505.9 665.5 515.1 672.1 508.4 670.2 508.4 671 506.7ZM687.7 506.8 687.2 507.9 686.1 506.3 684.3 515.5 690.9 508.8 689 508.9 689.6 507.8ZM74.4 489.8 74.3 489.5 75 489.4 72.5 487.3 73.4 490.5 73.7 489.9 73.9 490.1ZM93 488.7 92.8 488.4 93.5 488.3 90.8 486.5 92.1 489.5 92.3 488.8 92.5 489.1ZM111.6 487.6 111.4 487.4 112.1 487.2 109.3 485.6 110.7 488.5 111 487.8 111.2 488.1ZM130.2 486.7 130 486.5 130.7 486.3 128 484.7 129.4 487.5 129.6 486.9 129.8 487.1ZM148.9 485.8 148.7 485.6 149.3 485.5 146.7 483.8 148 486.6 148.2 486 148.4 486.2ZM167.5 485.1 167.4 484.8 168 484.7 165.7 483 166.6 485.7 166.9 485.2 167.1 485.4ZM186.2 484.3 186.1 484.1 186.7 484.1 184.7 482.1 185.2 484.9 185.6 484.4 185.7 484.6ZM204.9 483.7 204.8 483.4 205.4 483.5 203.6 481.1 203.8 484.1 204.2 483.6 204.3 483.9ZM223.6 483.1 223.5 482.7 224.3 482.9 222.2 479.7 222.2 483.5 222.8 482.9 222.9 483.3ZM242.4 482.5 242.2 482.1 243.2 482.3 240.9 478.4 240.6 483 241.4 482.3 241.5 482.7ZM261.1 482.1 261 481.6 262 481.8 259.5 477.4 259.2 482.5 260 481.8 260.1 482.3ZM279.7 481.6 279.6 481.2 280.5 481.4 278 477.5 278 482.1 278.7 481.5 278.8 481.9ZM298.3 481.3 298.1 480.9 299 481 296.6 478 296.9 481.8 297.5 481.2 297.6 481.6ZM317 481 316.8 480.6 317.7 480.6 314.8 477.7 315.6 481.7 316.1 481 316.3 481.3ZM335.7 480.7 335.4 480.3 336.4 480.2 332.9 477.2 334.2 481.7 334.7 480.8 334.9 481.2ZM354.4 480.5 354.1 480.1 355.2 480 351.1 476.8 352.8 481.7 353.3 480.7 353.6 481.1ZM373.1 480.4 372.8 480 374 479.8 369.4 476.3 371.3 481.7 371.9 480.6 372.2 481.1ZM391.8 480.3 391.3 479.9 392.6 479.5 387.2 476.6 390.1 482 390.5 480.8 390.9 481.2ZM410.4 480.3 409.8 479.9 411 479.2 404.7 477.4 409 482.4 409.1 481 409.7 481.3ZM428.9 480.3 428.3 480.1 429.4 479 422.3 478.6 428 482.9 427.8 481.4 428.5 481.6ZM447.4 480.5 446.8 480.4 447.6 479.1 440.6 480.5 447.2 483.2 446.6 481.8 447.3 481.8ZM466 480.7 465.3 480.8 465.9 479.4 459.3 481.9 466.2 483.5 465.4 482.2 466.1 482.1ZM484.6 481.1 483.9 481.2 484.4 479.8 478 483 485.1 483.8 484.2 482.6 484.9 482.4ZM503.2 481.5 502.6 481.7 502.8 480.2 496.9 484 504 484.1 502.9 483 503.6 482.8ZM521.8 481.9 521.1 482.2 521.2 480.5 514.8 485.5 522.9 484.8 521.6 483.7 522.4 483.4ZM540.4 482.6 539.8 482.9 539.8 481.4 534.7 486.4 541.7 485 540.5 484.1 541.1 483.8ZM558.9 483.1 558.2 483.6 557.9 481.7 552.6 488.8 560.9 485.8 559.2 485 559.9 484.5ZM577.3 483.7 576.5 484.5 576 482.7 571.2 490.7 579.6 486.7 577.9 486 578.8 485.2ZM595.9 484.5 594.6 486 594 484.2 589.8 492.6 597.9 487.9 596.1 487.4 597.5 485.9ZM614.5 485.3 612.7 487.5 612 485.7 608.2 494.3 616.1 489.3 614.3 488.9 616.1 486.7ZM633.2 486.3 631.3 488.6 630.5 486.9 627.1 495.6 634.8 490.3 632.9 489.9 634.8 487.6ZM651.7 487.3 650.4 489.3 649.5 487.6 646.8 496.6 654 490.6 652.1 490.4 653.5 488.4ZM670.3 488.3 669.6 489.5 668.7 487.8 666.1 496.9 673.2 490.7 671.3 490.6 672.1 489.4ZM689.2 489.5 688.7 490.1 688 488.4 684.8 496.2 691.7 491.5 689.9 491.1 690.4 490.5ZM73.3 472.4 73.1 472.2 73.8 472.2 71.7 469.8 72.1 473 72.6 472.4 72.7 472.7ZM91.9 471.3 91.7 471.1 92.4 471 90.2 469.1 91 471.9 91.3 471.4 91.4 471.6ZM110.6 470.3 110.4 470.1 111 470 108.8 468.3 109.7 470.9 110 470.4 110.1 470.6ZM129.2 469.3 129.1 469.1 129.6 469 127.4 467.5 128.4 470 128.7 469.5 128.8 469.7ZM147.9 468.5 147.8 468.3 148.3 468.2 146.3 466.7 147.2 469.1 147.4 468.6 147.6 468.8ZM166.7 467.7 166.5 467.5 167.1 467.5 165.3 465.8 165.9 468.2 166.1 467.7 166.3 467.9ZM185.4 467 185.3 466.8 185.8 466.8 184.4 464.9 184.5 467.3 184.9 466.9 185 467.1ZM204.2 466.3 204.1 466.1 204.7 466.3 203.5 463.7 203.1 466.5 203.6 466.2 203.6 466.4ZM223 465.7 223 465.4 223.8 465.6 222.2 462 221.5 465.9 222.2 465.4 222.3 465.8ZM241.9 465.2 241.8 464.7 242.9 465.1 241 460.3 239.9 465.3 240.8 464.8 240.9 465.3ZM260.7 464.7 260.7 464.1 261.9 464.6 259.8 458.9 258.4 464.9 259.5 464.2 259.5 464.8ZM279.4 464.3 279.3 463.8 280.4 464.2 278.4 459.2 277.3 464.5 278.3 463.9 278.4 464.4ZM298 464 298 463.6 298.8 463.9 297.2 460.2 296.5 464.1 297.2 463.7 297.2 464ZM316.7 463.7 316.6 463.3 317.4 463.5 315.6 460.2 315.3 464 315.9 463.5 316 463.8ZM335.4 463.4 335.3 463.1 336.1 463.2 334 460.2 334.1 463.9 334.7 463.3 334.8 463.6ZM354.2 463.3 354.1 462.9 354.9 463 352.5 460.1 352.9 463.8 353.4 463.2 353.5 463.5ZM373 463.2 372.8 462.8 373.8 462.8 371 459.5 371.5 463.8 372.1 463.1 372.2 463.5ZM391.8 463.1 391.5 462.7 392.5 462.7 389.2 459.5 390.2 464 390.8 463.2 391 463.5ZM410.5 463.1 410.1 462.7 411.2 462.4 406.9 459.9 409.1 464.4 409.5 463.4 409.8 463.7ZM429.2 463 428.7 462.8 429.7 462.1 424.2 460.7 428 464.9 428.1 463.7 428.6 464ZM447.8 463.1 447.2 462.9 448.1 461.9 441.5 462 447.1 465.6 446.9 464.2 447.5 464.3ZM466.5 463.3 465.8 463.2 466.6 462 459.6 463.3 466.2 466 465.6 464.6 466.3 464.7ZM485.1 463.7 484.5 463.6 485.2 462.3 478.3 464.2 485.1 466.4 484.4 465 485.1 465ZM503.8 464.1 503.2 464.1 503.8 462.7 497.1 465.1 504 466.8 503.2 465.5 503.9 465.4ZM522.5 464.5 521.9 464.6 522.4 463.2 515.8 466 522.8 467.3 522 466 522.7 465.9ZM541.2 465.1 540.5 465.3 540.9 463.8 534.7 467.3 541.8 467.8 540.8 466.6 541.5 466.4ZM559.8 465.7 559.2 466 559.3 464.5 553.8 468.9 560.8 468.3 559.7 467.3 560.3 467ZM578.3 466.3 577.6 466.8 577.4 464.9 571.6 471.9 580.3 469.2 578.6 468.3 579.3 467.8ZM596.8 467 595.1 468.6 594.7 466.8 589.8 474.8 598.3 470.8 596.5 470.2 598.2 468.6ZM615.5 467.9 613 470.4 612.4 468.6 608 476.9 616.2 472.4 614.4 471.9 617 469.4ZM634.2 468.8 631.4 471.7 630.8 470 626.7 478.4 634.8 473.7 633 473.2 635.7 470.2ZM652.8 469.8 650.9 472.3 650.2 470.6 646.8 479.4 654.4 473.9 652.6 473.6 654.5 471.1ZM671.5 470.8 670.5 472.2 669.7 470.4 666.3 479.2 674 473.8 672.1 473.4 673.2 472.1ZM690.5 472 689.9 472.5 689.5 470.8 685 477.6 692.5 474.4 690.9 473.7 691.5 473.2ZM72.1 455.1 72 454.8 72.7 454.9 70.9 452.1 70.9 455.4 71.4 455 71.5 455.3ZM90.8 454 90.7 453.7 91.2 453.8 89.6 451.7 89.8 454.4 90.2 453.9 90.3 454.2ZM109.5 452.9 109.4 452.7 109.9 452.7 108.1 450.9 108.6 453.4 108.9 453 109.1 453.2ZM128.3 452 128.1 451.8 128.7 451.7 126.8 450.1 127.4 452.5 127.7 452 127.9 452.2ZM147 451.1 146.9 450.9 147.4 450.9 145.7 449.4 146.3 451.6 146.5 451.1 146.6 451.3ZM165.8 450.3 165.7 450.1 166.2 450.1 164.7 448.6 165.1 450.7 165.3 450.3 165.4 450.5ZM184.6 449.6 184.6 449.4 185 449.5 183.8 447.7 183.8 449.8 184.2 449.5 184.2 449.7ZM203.5 448.9 203.4 448.7 204 448.9 202.9 446.4 202.4 449 202.9 448.7 203 449ZM222.4 448.3 222.4 448 223.1 448.3 221.9 444.6 220.9 448.4 221.6 448 221.6 448.4ZM241.3 447.8 241.3 447.3 242.4 447.8 240.8 442.6 239.3 447.8 240.3 447.3 240.3 447.8ZM260.3 447.3 260.3 446.7 261.5 447.3 259.6 441.1 257.8 447.3 259 446.7 259 447.3ZM279.1 446.9 279 446.3 280.2 446.9 278.4 441 276.7 446.9 277.9 446.3 277.9 446.9ZM297.8 446.6 297.7 446.1 298.7 446.6 297.3 441.9 295.9 446.6 296.8 446.1 296.8 446.6ZM316.5 446.3 316.5 445.9 317.3 446.2 315.9 442.4 315 446.3 315.7 445.9 315.7 446.3ZM335.2 446.1 335.2 445.7 335.9 446 334.6 442.9 334 446.2 334.6 445.8 334.6 446.1ZM354 445.9 354 445.6 354.6 445.9 353.4 443.2 352.9 446.1 353.5 445.7 353.5 446ZM372.9 445.8 372.9 445.5 373.6 445.7 372.1 442.6 371.6 446 372.2 445.6 372.3 445.9ZM391.7 445.8 391.7 445.5 392.4 445.7 390.7 442.6 390.4 446.1 391 445.6 391.1 446ZM410.6 445.8 410.4 445.5 411.2 445.5 408.7 442.8 409.3 446.4 409.8 445.8 409.9 446.1ZM429.4 445.8 429.1 445.5 429.9 445.2 426 443.2 428.2 447 428.5 446.1 428.8 446.4ZM448.1 445.9 447.7 445.6 448.6 445 443.5 443.9 447.2 447.6 447.2 446.5 447.7 446.7ZM466.9 446 466.4 445.9 467.3 445 461.4 444.8 466.2 448.2 466 446.9 466.5 447.1ZM485.7 446.3 485.1 446.2 486 445.2 479.8 445.4 485.1 448.6 484.8 447.3 485.4 447.5ZM504.5 446.7 503.9 446.6 504.8 445.5 498.4 445.8 503.9 449.1 503.6 447.8 504.2 447.9ZM523.3 447.2 522.7 447 523.6 445.9 516.9 446.4 522.8 449.7 522.4 448.3 523 448.4ZM542.1 447.7 541.4 447.6 542.2 446.3 535.2 447.5 541.7 450.4 541.2 448.9 541.9 449ZM560.8 448.3 560.1 448.3 560.8 446.9 554 449 560.8 451 560.1 449.6 560.8 449.6ZM579.3 449 578.7 449.3 578.8 447.8 573.4 452.4 580.4 451.5 579.2 450.5 579.9 450.3ZM597.7 449.6 595.8 451.2 595.4 449.3 590.1 457.1 598.8 453.5 597.1 452.8 599 451.2ZM616.4 450.5 613.8 453 613.3 451.2 608.7 459.3 617 455.1 615.2 454.5 617.9 452ZM635.2 451.4 632.3 454.5 631.7 452.8 627.7 461.2 635.7 456.4 633.9 455.9 636.7 452.8ZM653.9 452.4 651.5 455.5 650.8 453.8 647.5 462.6 655.1 457.1 653.2 456.8 655.5 453.7ZM672.6 453.5 671 455.8 670.2 454.1 667.2 463 674.6 457.2 672.7 457 674.3 454.7ZM691.7 454.7 691.3 455.2 690.7 453.8 687.6 460.2 693.7 456.6 692.3 456.1 692.7 455.6ZM70.9 437.7 70.8 437.4 71.6 437.6 69.9 434.2 69.5 438 70.1 437.5 70.2 437.8ZM89.7 436.6 89.6 436.3 90.3 436.5 88.7 433.7 88.5 436.9 89 436.4 89.1 436.7ZM108.5 435.6 108.4 435.3 109 435.4 107.3 433 107.4 435.9 107.9 435.5 107.9 435.7ZM127.3 434.6 127.2 434.4 127.7 434.4 126.1 432.4 126.4 435 126.7 434.6 126.8 434.8ZM146.1 433.7 146 433.5 146.5 433.5 144.9 431.9 145.3 434.1 145.6 433.7 145.7 433.9ZM164.9 432.9 164.9 432.7 165.3 432.7 163.9 431.3 164.3 433.2 164.5 432.9 164.6 433.1ZM183.8 432.2 183.7 432 184.1 432 183 430.5 183.1 432.4 183.4 432.1 183.5 432.3ZM202.7 431.5 202.7 431.3 203.2 431.4 202.1 429.4 201.9 431.6 202.3 431.4 202.3 431.6ZM221.8 430.9 221.7 430.5 222.5 430.9 221.2 427.3 220.3 431 221 430.6 221 430.9ZM240.8 430.4 240.8 429.9 241.8 430.4 240.3 425.2 238.7 430.4 239.8 429.8 239.8 430.4ZM259.8 429.9 259.8 429.3 261 429.9 259.3 423.7 257.3 429.8 258.6 429.3 258.5 429.9ZM278.7 429.5 278.7 428.9 279.9 429.5 278.2 423.4 276.2 429.4 277.5 428.9 277.4 429.5ZM297.5 429.1 297.5 428.6 298.5 429.2 297.1 424.1 295.4 429.1 296.5 428.6 296.4 429.1ZM316.3 428.9 316.3 428.5 317.1 428.9 316 424.7 314.6 428.8 315.4 428.4 315.4 428.8ZM335.1 428.7 335.1 428.3 335.8 428.7 334.8 425.1 333.7 428.6 334.4 428.3 334.4 428.6ZM354 428.5 354 428.2 354.6 428.6 353.8 425.2 352.7 428.5 353.3 428.2 353.3 428.5ZM372.9 428.5 372.9 428.2 373.5 428.6 372.9 425.1 371.6 428.3 372.3 428.1 372.2 428.4ZM391.8 428.5 391.8 428.1 392.5 428.5 391.8 425.1 390.4 428.4 391.1 428.1 391.1 428.4ZM410.7 428.5 410.7 428.2 411.3 428.4 410 425.2 409.4 428.6 410 428.2 410 428.5ZM429.6 428.5 429.4 428.2 430.2 428.2 427.8 425.5 428.3 429.1 428.8 428.5 428.9 428.8ZM448.4 428.6 448.2 428.3 449 428.1 445.6 425.9 447.3 429.6 447.6 428.8 447.9 429.1ZM467.3 428.8 467 428.5 467.9 428 463.4 426.4 466.2 430.2 466.4 429.2 466.8 429.5ZM486.2 429 485.8 428.8 486.8 428.2 481.6 426.7 485.1 430.8 485.2 429.6 485.7 429.9ZM505.2 429.4 504.7 429.1 505.8 428.5 500.2 426.5 503.8 431.3 504 430 504.5 430.4ZM524.1 429.9 523.6 429.5 524.8 428.8 518.6 427 522.7 431.9 522.9 430.5 523.4 430.9ZM542.9 430.3 542.3 430 543.5 429.2 536.7 428 541.7 432.7 541.7 431.2 542.3 431.5ZM561.6 430.9 561 430.7 561.9 429.5 554.8 430.2 561.1 433.5 560.7 432.1 561.4 432.2ZM580.2 431.6 579.6 431.7 580 430.2 573.7 433.6 580.8 434.2 579.8 433 580.5 432.9ZM598.8 432.2 598 432.7 597.8 430.7 591.7 437.6 600.6 435.2 598.9 434.2 599.7 433.7ZM617.4 433 615.4 434.9 614.9 433 610 441.1 618.5 437 616.8 436.4 618.8 434.6ZM636.2 434 633.4 437.1 632.8 435.4 628.9 443.9 636.8 438.9 635 438.5 637.7 435.4ZM654.9 435 652.5 438.4 651.7 436.7 648.5 445.5 656 439.9 654.1 439.6 656.6 436.3ZM673.7 436.1 671.9 439 671 437.4 668.5 446.4 675.5 440.3 673.7 440.1 675.5 437.2ZM693 437.3 692.5 437.8 692 436.4 688.8 442.7 694.9 439.2 693.5 438.7 694 438.2ZM69.8 420.3 69.7 419.9 70.6 420.2 68.9 416 68 420.5 68.8 420 68.9 420.4ZM88.6 419.2 88.6 418.8 89.4 419.1 87.7 415.4 87 419.4 87.8 418.9 87.8 419.3ZM107.5 418.2 107.4 417.8 108.1 418 106.4 414.9 106.1 418.5 106.7 418 106.8 418.3ZM126.3 417.2 126.2 416.9 126.9 417 125.1 414.6 125.2 417.6 125.7 417.1 125.8 417.4ZM145.2 416.3 145.1 416.1 145.6 416.1 144 414.3 144.3 416.7 144.7 416.3 144.8 416.5ZM164.1 415.4 164 415.3 164.5 415.2 162.8 413.8 163.4 415.9 163.6 415.5 163.7 415.7ZM183 414.7 182.9 414.5 183.4 414.5 181.8 413.1 182.4 415.1 182.6 414.7 182.7 414.9ZM202 414 201.9 413.8 202.4 413.9 201 412.2 201.2 414.4 201.5 414 201.6 414.2ZM221.1 413.4 221 413.1 221.8 413.3 220.2 410 219.7 413.7 220.3 413.2 220.4 413.5ZM240.2 412.9 240.2 412.4 241.3 412.9 239.6 407.8 238.2 413 239.2 412.4 239.2 412.9ZM259.3 412.5 259.3 411.9 260.5 412.5 258.8 406.5 256.9 412.4 258.1 411.8 258.1 412.4ZM278.2 412 278.2 411.5 279.3 412.1 277.7 406.4 276 412 277.1 411.5 277.1 412ZM297.1 411.7 297.1 411.2 298.1 411.7 296.8 406.8 295.1 411.6 296.1 411.2 296.1 411.7ZM316 411.4 316 411 316.8 411.5 315.8 407.2 314.3 411.3 315.2 411 315.2 411.4ZM334.9 411.2 335 410.9 335.7 411.3 334.9 407.5 333.5 411.1 334.2 410.8 334.2 411.2ZM353.9 411.1 353.9 410.8 354.5 411.3 354.2 407.7 352.5 410.9 353.3 410.7 353.2 411ZM372.8 411.1 373 410.8 373.5 411.3 373.6 407.6 371.5 410.7 372.3 410.6 372.2 410.9ZM391.8 411.1 391.9 410.8 392.5 411.3 392.6 407.6 390.5 410.7 391.3 410.6 391.1 410.9ZM410.8 411.2 410.9 410.8 411.5 411.3 411.3 407.6 409.4 410.8 410.2 410.6 410.1 411ZM429.8 411.2 429.8 410.9 430.5 411.2 429.5 407.8 428.4 411.2 429.1 410.9 429.1 411.2ZM448.8 411.3 448.7 411 449.4 411.1 447.5 408 447.4 411.7 448 411.2 448.1 411.5ZM467.8 411.5 467.6 411.1 468.5 411.2 465.6 408 466.3 412.2 466.8 411.5 467 411.9ZM486.8 411.8 486.6 411.3 487.7 411.3 483.9 407.6 485 412.8 485.7 411.8 485.9 412.3ZM505.8 412.1 505.5 411.6 506.9 411.5 502.3 407.2 503.7 413.4 504.5 412.2 504.8 412.8ZM524.8 412.6 524.4 412 525.9 411.8 520.5 407.6 522.7 414.1 523.4 412.8 523.8 413.3ZM543.7 413 543.2 412.6 544.6 412.1 538.5 408.8 541.8 414.9 542.3 413.5 542.8 414ZM562.5 413.5 561.9 413.2 563.1 412.4 556.5 411 561.3 415.8 561.3 414.4 561.9 414.7ZM581.2 414.1 580.6 414 581.4 412.8 574.4 414 580.9 416.8 580.4 415.4 581.1 415.5ZM599.8 414.9 599.2 415.2 599.3 413.6 593.7 418 600.8 417.5 599.7 416.4 600.3 416.2ZM618.4 415.6 617.4 416.4 617 414.5 611.9 422.3 620.5 418.7 618.8 418 619.7 417.2ZM637.2 416.6 634.7 419.4 634 417.7 630.2 426.3 638.1 421.2 636.3 420.8 638.7 418ZM656 417.6 653.7 420.6 653 418.9 649.7 427.7 657.3 422.2 655.4 421.9 657.7 418.9ZM675 418.6 673.7 420.1 673 418.3 669.3 427 677.2 421.8 675.3 421.4 676.6 419.9ZM694.4 419.8 693.8 420.1 693.8 418.5 688.6 423.4 695.6 422.2 694.4 421.3 695 421ZM68.6 402.9 68.6 402.4 69.6 402.9 67.8 397.8 66.5 403 67.5 402.5 67.6 403ZM87.5 401.8 87.5 401.3 88.5 401.7 86.6 397 85.6 402 86.5 401.4 86.6 401.9ZM106.5 400.7 106.4 400.3 107.3 400.6 105.3 396.7 104.8 401 105.6 400.5 105.6 400.9ZM125.4 399.8 125.3 399.4 126 399.5 124 396.6 124.1 400.2 124.6 399.6 124.7 400ZM144.3 398.8 144.2 398.6 144.8 398.6 142.8 396.5 143.3 399.3 143.7 398.8 143.8 399.1ZM163.3 398 163.1 397.8 163.7 397.6 161.5 396 162.4 398.6 162.7 398.1 162.8 398.3ZM182.3 397.2 182.1 397 182.7 396.8 180.2 395.3 181.4 397.9 181.7 397.3 181.9 397.6ZM201.3 396.5 201.1 396.3 201.8 396.1 199.2 394.3 200.4 397.2 200.7 396.6 200.9 396.9ZM220.4 395.9 220.3 395.6 221.1 395.6 218.5 392.7 219.1 396.5 219.6 395.9 219.8 396.2ZM239.6 395.4 239.5 394.9 240.5 395.2 238.2 390.8 237.7 395.8 238.6 395.1 238.7 395.6ZM258.7 395 258.7 394.4 259.8 394.9 257.7 389.8 256.6 395.1 257.6 394.5 257.7 395.1ZM277.7 394.6 277.7 394.1 278.6 394.5 276.8 389.9 275.8 394.7 276.7 394.2 276.8 394.6ZM296.7 394.2 296.7 393.8 297.5 394.2 296.2 390.1 295 394.3 295.8 393.8 295.9 394.3ZM315.7 394 315.7 393.6 316.4 394 315.5 390.4 314.2 393.9 315 393.6 315 394ZM334.7 393.8 334.7 393.5 335.3 393.9 334.8 390.5 333.4 393.6 334.1 393.4 334 393.7ZM353.7 393.7 353.8 393.4 354.3 393.9 354.2 390.7 352.5 393.4 353.2 393.3 353.1 393.5ZM372.8 393.7 372.9 393.4 373.4 393.9 373.7 390.5 371.6 393.2 372.3 393.1 372.2 393.4ZM391.8 393.7 392 393.4 392.5 394 393.1 390.4 390.6 393.1 391.4 393.1 391.2 393.4ZM410.9 393.8 411.1 393.5 411.6 394.1 412.2 390.2 409.6 393.1 410.4 393.1 410.2 393.5ZM430 393.9 430.1 393.5 430.7 394.1 430.8 390.2 428.6 393.4 429.4 393.3 429.3 393.7ZM449 394 449.1 393.7 449.8 394.1 449.1 390.3 447.6 393.9 448.4 393.6 448.3 393.9ZM468.1 394.2 468.1 393.8 469 394.2 467.5 390.1 466.5 394.3 467.3 393.9 467.3 394.3ZM487.3 394.5 487.3 393.9 488.5 394.4 486 388.8 485 394.8 486.1 394.1 486.2 394.7ZM506.5 394.9 506.3 394.2 507.8 394.6 504.5 388.3 503.8 395.4 505 394.5 505.1 395.1ZM525.5 395.3 525.3 394.6 526.8 394.8 522.5 389.1 522.9 396.2 524 395.1 524.2 395.7ZM544.5 395.7 544.1 395.1 545.6 395 540.5 390.2 542.1 397.1 543 395.8 543.3 396.4ZM563.3 396.2 562.9 395.8 564.2 395.4 558.6 392.5 561.7 398 562.1 396.7 562.5 397.1ZM582.2 396.9 581.7 396.6 582.6 395.8 576.8 395.1 581.2 398.9 581.2 397.7 581.7 397.9ZM600.9 397.5 600.3 397.6 600.7 396.4 595.1 398.8 601.2 399.9 600.4 398.8 601 398.7ZM619.6 398.4 619 398.8 618.7 397.3 614.5 403 621.2 400.6 619.8 399.9 620.4 399.5ZM638.2 399.2 636.8 400.8 636.1 399 632.4 407.7 640.3 402.5 638.4 402.1 639.8 400.5ZM657.1 400.2 655.1 403 654.3 401.3 651.2 410.1 658.7 404.4 656.8 404.2 658.8 401.4ZM676.2 401.2 675 402.5 674.3 400.7 670.5 409.3 678.4 404.3 676.6 403.9 677.7 402.5ZM695.5 402.4 695 402.8 694.8 401.3 690.3 406.8 697.1 404.7 695.7 403.9 696.3 403.5ZM67.4 385.5 67.4 385 68.6 385.5 66.7 379.7 65.1 385.6 66.2 385 66.2 385.6ZM86.4 384.4 86.4 383.9 87.5 384.3 85.5 379 84.2 384.6 85.3 383.9 85.3 384.5ZM105.4 383.3 105.3 382.9 106.4 383.2 104.1 378.7 103.5 383.6 104.4 383 104.5 383.5ZM124.4 382.3 124.3 381.9 125.2 382.1 122.7 378.6 122.9 382.8 123.5 382.2 123.6 382.6ZM143.4 381.4 143.2 381 144 381 141.3 378.4 142.2 382.1 142.6 381.4 142.8 381.7ZM162.4 380.5 162.2 380.2 163 380 159.8 378 161.4 381.4 161.7 380.7 161.9 380.9ZM181.5 379.6 181.2 379.4 182 379.1 178.4 377.4 180.5 380.8 180.7 380 181 380.2ZM200.6 378.9 200.3 378.7 201.1 378.3 197.2 376.7 199.6 380.2 199.8 379.3 200.1 379.6ZM219.8 378.3 219.4 378 220.3 377.7 216.4 375.8 218.6 379.5 218.9 378.6 219.2 378.9ZM238.9 377.8 238.7 377.5 239.6 377.3 236 374.7 237.6 378.8 238 378 238.2 378.3ZM258.1 377.4 257.9 377 258.8 377 255.7 374 256.6 378.2 257.1 377.4 257.3 377.8ZM277.2 377 277 376.7 277.8 376.7 275.4 373.8 275.8 377.6 276.3 377 276.5 377.3ZM296.2 376.7 296.1 376.4 296.8 376.6 295.2 373.9 295.1 377 295.6 376.6 295.6 376.9ZM315.3 376.5 315.3 376.3 315.8 376.5 315 374.2 314.4 376.6 314.8 376.3 314.8 376.5ZM334.4 376.4 334.4 376.2 334.8 376.5 334.6 374.2 333.5 376.2 334 376.1 334 376.3ZM353.5 376.3 353.6 376 354 376.4 354.1 374 352.6 375.9 353.2 375.9 353.1 376.1ZM372.7 376.2 372.8 376 373.2 376.5 373.6 373.7 371.7 375.8 372.3 375.8 372.2 376ZM391.8 376.3 392 376 392.4 376.6 393.2 373.4 390.7 375.6 391.5 375.7 391.3 376ZM411 376.4 411.2 376.1 411.6 376.8 412.7 373.1 409.8 375.6 410.6 375.7 410.4 376ZM430.2 376.5 430.3 376.2 430.8 376.8 431.5 372.9 428.8 375.8 429.6 375.8 429.5 376.2ZM449.3 376.7 449.4 376.3 450.1 376.9 450.2 372.8 447.8 376.2 448.7 376 448.6 376.4ZM468.5 376.9 468.6 376.5 469.3 377.1 468.9 372.6 466.8 376.6 467.7 376.3 467.7 376.7ZM487.8 377.2 487.8 376.6 489 377.2 487.4 371 485.3 377.1 486.6 376.5 486.6 377.1ZM507 377.5 506.9 376.9 508.3 377.5 505.9 370.8 504.3 377.7 505.6 376.9 505.6 377.6ZM526.1 377.9 526 377.3 527.4 377.7 524.2 371.4 523.4 378.4 524.6 377.5 524.7 378.2ZM545.1 378.4 544.9 377.8 546.2 378 542.5 372.9 542.8 379.2 543.8 378.3 544 378.8ZM564 379 563.8 378.6 564.9 378.4 560.9 375.1 562.4 380.1 562.9 379.1 563.2 379.5ZM583 379.6 582.7 379.3 583.6 379 579.5 377 581.9 380.9 582.1 380 582.4 380.3ZM602 380.3 601.6 380.2 602.3 379.6 598 379.1 601.3 381.8 601.3 380.9 601.7 381.1ZM620.6 381.1 620.1 381.4 620 380.1 616.1 384.7 621.9 383 620.7 382.3 621.2 382ZM639.3 381.9 638.8 382.6 637.9 380.9 634.8 389.3 642 384 640.2 383.6 640.7 383ZM658.2 382.9 656.1 386.2 655.2 384.6 652.8 393.7 659.8 387.4 657.9 387.3 659.9 384ZM677.3 383.8 676.1 385.4 675.3 383.6 671.9 392.4 679.6 386.9 677.7 386.6 678.9 385.1ZM696.8 385 696.2 385.4 695.9 383.9 691.7 389.7 698.4 387.2 697 386.5 697.6 386.1ZM66.2 368.1 66.2 367.5 67.5 368.1 65.5 361.7 63.6 368.2 64.9 367.5 64.9 368.2ZM85.3 367 85.3 366.4 86.5 366.9 84.4 361 82.9 367.1 84.1 366.5 84.1 367.1ZM104.4 365.9 104.3 365.4 105.4 365.7 103 360.7 102.3 366.3 103.2 365.5 103.3 366.1ZM123.4 364.9 123.3 364.4 124.3 364.6 121.5 360.6 121.7 365.5 122.4 364.7 122.5 365.2ZM142.5 363.9 142.3 363.5 143.2 363.4 139.8 360.4 141 364.8 141.5 364 141.8 364.3ZM161.6 363 161.3 362.6 162.3 362.3 158.1 360 160.3 364.2 160.6 363.3 161 363.6ZM180.8 362.1 180.4 361.8 181.4 361.3 176.4 359.4 179.5 363.7 179.8 362.6 180.2 362.9ZM199.9 361.3 199.4 361.1 200.4 360.4 195 359.2 198.9 363.2 198.9 362 199.4 362.3ZM219 360.7 218.6 360.5 219.5 359.8 214 359 218.2 362.6 218.1 361.4 218.6 361.7ZM238.2 360.2 237.8 360 238.7 359.3 233.7 358.4 237.3 361.9 237.3 360.8 237.8 361.1ZM257.4 359.8 257 359.6 257.8 359.1 253.6 358.1 256.6 361.2 256.6 360.3 257 360.5ZM276.6 359.4 276.3 359.2 277 358.9 273.7 357.6 275.8 360.5 275.9 359.8 276.2 360ZM295.8 359.2 295.6 359 296.1 358.9 294 357.6 295.1 359.8 295.3 359.3 295.4 359.5ZM314.1 358.4h1.4v1.4h-1.4zM333.3 358.2h1.4v1.4h-1.4zM352.5 358h1.4v1.4h-1.4zM372.6 358.8 372.7 358.6 372.9 359 373.4 356.9 371.9 358.4 372.3 358.4 372.2 358.6ZM391.8 358.8 392 358.6 392.3 359.1 393 356.5 391 358.3 391.5 358.3 391.4 358.5ZM411.1 358.9 411.2 358.7 411.6 359.3 412.6 356.1 410 358.2 410.7 358.3 410.5 358.6ZM430.3 359.1 430.5 358.8 430.9 359.4 431.8 355.8 429.1 358.3 429.9 358.4 429.7 358.7ZM449.6 359.3 449.8 358.9 450.3 359.6 450.9 355.4 448.1 358.6 449 358.6 448.8 358.9ZM468.9 359.5 469 359 469.8 359.7 469.6 354.6 467 359 468.1 358.8 467.9 359.2ZM488.2 359.8 488.3 359.2 489.5 359.9 488.2 353.5 485.7 359.5 487 359 487 359.7ZM507.5 360.1 507.5 359.5 508.8 360.1 506.8 353.3 504.8 360.1 506.1 359.5 506.1 360.1ZM526.7 360.6 526.6 359.9 528 360.5 525.5 353.8 524 360.8 525.3 360 525.3 360.7ZM545.7 361.1 545.6 360.6 546.6 360.9 544.2 356.4 543.8 361.5 544.6 360.8 544.7 361.3ZM564.7 361.7 564.6 361.4 565.3 361.4 563 358.5 563.4 362.2 563.9 361.6 564 361.9ZM583.8 362.4 583.6 362.1 584.2 362 582 360.3 582.9 363 583.2 362.4 583.3 362.7ZM602.8 363.1 602.6 362.9 603.1 362.6 600.6 362.1 602.3 363.9 602.4 363.4 602.6 363.5ZM621.7 363.8 621.4 364 621.4 363.3 619.1 365.6 622.3 364.9 621.7 364.5 622 364.4ZM640.5 364.6 640.1 365.2 639.4 363.9 637.3 370.5 642.6 366.1 641.2 365.9 641.6 365.4ZM659.2 365.5 658.6 366.7 657.6 365.1 655.7 374.3 662.3 367.7 660.4 367.7 661.1 366.5ZM678.4 366.4 677.8 367.4 677 365.7 674 374.6 681.4 368.8 679.5 368.6 680.1 367.6ZM698 367.6 697.5 368 697.3 366.5 692.8 372 699.6 369.8 698.2 369.1 698.8 368.7ZM65 350.8 65 350.1 66.4 350.8 64.4 343.9 62.3 350.7 63.6 350.1 63.6 350.7ZM84.2 349.6 84.2 348.9 85.5 349.6 83.3 342.9 81.5 349.7 82.8 349 82.8 349.6ZM103.3 348.5 103.2 347.9 104.5 348.3 101.9 342.8 101 348.8 102.1 348.1 102.1 348.7ZM122.4 347.4 122.3 347 123.4 347.1 120.3 342.8 120.5 348.1 121.3 347.3 121.5 347.8ZM141.6 346.4 141.3 346 142.4 345.9 138.6 342.7 140 347.5 140.5 346.6 140.8 347ZM160.8 345.5 160.4 345.1 161.6 344.7 156.7 342 159.3 347 159.7 345.8 160 346.2ZM180.1 344.6 179.6 344.2 180.8 343.6 174.8 341.2 178.5 346.6 178.8 345.2 179.3 345.6ZM199.2 343.8 198.6 343.5 199.7 342.6 193 341.6 198.1 346.2 198 344.7 198.6 345ZM218.3 343.1 217.7 343 218.6 341.8 211.8 342.4 217.7 345.7 217.4 344.3 218 344.4ZM237.6 342.6 237.1 342.4 238.1 341.4 231.5 341 236.8 345 236.6 343.6 237.2 343.8ZM256.8 342.2 256.3 342 257.1 341.1 251.5 341.4 256.3 344.3 256 343.1 256.6 343.2ZM276.1 341.9 275.7 341.8 276.3 341.1 272 341 275.6 343.5 275.4 342.6 275.8 342.7ZM295.4 341.7 295.1 341.6 295.6 341.2 292.9 340.8 294.9 342.6 294.9 342 295.1 342.2ZM313.8 341h1.4v1.4h-1.4zM333.1 340.7h1.4v1.4h-1.4zM352.4 340.6h1.4v1.4h-1.4zM371.7 340.5h1.4v1.4h-1.4zM391.8 341.3 391.9 341.2 392.1 341.5 392.7 339.6 391.2 340.9 391.6 341 391.5 341.1ZM411.1 341.4 411.3 341.2 411.6 341.7 412.4 339.1 410.3 340.9 410.8 340.9 410.7 341.2ZM430.5 341.6 430.7 341.3 431 342 431.9 338.7 429.4 340.9 430.1 341 429.9 341.3ZM449.8 341.9 450 341.5 450.6 342.3 451.5 338 448.4 341 449.3 341.1 449.1 341.5ZM469.2 342.1 469.4 341.6 470.2 342.4 470.2 337.1 467.3 341.5 468.4 341.3 468.3 341.8ZM488.7 342.3 488.7 341.7 489.9 342.5 488.7 336.1 486.2 342.1 487.5 341.6 487.4 342.2ZM508 342.7 508 342.1 509.2 342.7 507.3 336.2 505.4 342.7 506.7 342.1 506.7 342.7ZM527.1 343.2 527 342.7 528 343.1 526.3 338.3 525.1 343.3 526.1 342.7 526.1 343.2ZM546.1 343.7 546.1 343.4 546.7 343.6 545.5 340.8 545 343.9 545.5 343.5 545.5 343.8ZM565.3 344.3 565.3 344.1 565.7 344.2 564.6 342.3 564.5 344.5 564.8 344.2 564.9 344.4ZM584.5 345 584.4 344.9 584.8 344.9 583.8 343.6 583.9 345.3 584.1 345 584.2 345.1ZM602.9 345.2h1.4v1.4h-1.4zM622.1 346h1.4v1.4h-1.4zM641.9 347.5 641.8 347.6 641.7 347.2 640.8 348.9 642.4 348 642.1 347.9 642.2 347.7ZM660.6 348.3 660.4 349 659.4 347.9 658.8 354.9 663.2 349.3 661.7 349.5 661.9 348.8ZM679.7 349.2 679.3 350 678.1 348.4 676.4 357.5 682.8 350.9 680.9 350.8 681.3 350ZM699.5 350.1 698.8 350.3 699 348.8 693.4 352.9 700.3 352.6 699.3 351.6 699.9 351.4ZM63.7 333.4 63.7 332.7 65.1 333.4 63.2 326.5 61 333.3 62.4 332.6 62.4 333.3ZM83 332.2 83 331.5 84.4 332.2 82.1 325.4 80.3 332.3 81.6 331.6 81.6 332.2ZM102.2 331.1 102.1 330.5 103.4 331 100.9 325.1 99.8 331.4 100.9 330.6 101 331.2ZM121.4 330 121.3 329.5 122.4 329.8 119.5 325.1 119.4 330.6 120.3 329.8 120.4 330.3ZM140.6 329 140.4 328.6 141.5 328.5 137.8 325 138.9 330 139.5 329.1 139.8 329.5ZM159.9 328.1 159.6 327.7 160.8 327.4 155.9 324.3 158.3 329.5 158.7 328.4 159.1 328.8ZM179.3 327.2 178.8 326.7 180.2 326.2 173.9 323.1 177.5 329.2 177.9 327.7 178.4 328.2ZM198.5 326.4 197.9 326 199.2 325.2 192.3 323.6 197.2 328.7 197.2 327.2 197.8 327.5ZM217.7 325.7 217 325.5 218 324.4 210.9 324.5 217 328.3 216.7 326.8 217.3 327ZM237.1 325.1 236.5 324.9 237.7 323.9 230.6 323.1 236 327.6 236 326.1 236.6 326.4ZM256.3 324.6 255.6 324.5 256.5 323.3 249.7 324.2 255.9 327.2 255.4 325.8 256.1 325.9ZM275.6 324.4 275.1 324.3 275.8 323.4 270.8 324 275.3 326.3 275 325.2 275.5 325.3ZM295 324.2 294.7 324.1 295.2 323.7 292.1 323.5 294.6 325.3 294.5 324.7 294.8 324.8ZM313.5 323.5h1.4v1.4h-1.4zM332.9 323.3h1.4v1.4h-1.4zM352.3 323.2h1.4v1.4h-1.4zM371.6 323.1h1.4v1.4h-1.4zM391.8 323.9 392 323.8 392.1 324.2 393.1 322.3 391.2 323.4 391.7 323.5 391.5 323.7ZM411.2 324 411.4 323.8 411.6 324.4 412.9 321.9 410.4 323.3 411 323.5 410.8 323.7ZM430.7 324.2 430.9 324 431.2 324.6 432.5 321.4 429.6 323.4 430.3 323.5 430.1 323.8ZM450.1 324.4 450.3 324.1 450.8 324.9 451.9 320.8 448.7 323.6 449.6 323.7 449.4 324ZM469.6 324.7 469.7 324.2 470.5 325 470.9 320 467.8 324 468.8 323.9 468.7 324.3ZM489 324.9 489.1 324.4 490.2 325.1 489.3 319.1 486.7 324.6 488 324.2 487.9 324.8ZM508.4 325.3 508.4 324.7 509.5 325.3 507.8 319.8 506.2 325.3 507.3 324.7 507.3 325.3ZM527.5 325.7 527.4 325.4 528.1 325.7 527 322.7 526.2 325.8 526.8 325.5 526.8 325.8ZM545.8 325.6h1.4v1.4h-1.4zM566 326.9 566 326.8 566.3 326.9 565.7 325.3 565.3 327 565.7 326.8 565.7 327ZM584.5 327h1.4v1.4h-1.4zM603.8 327.7h1.4v1.4h-1.4zM623.1 328.6h1.4v1.4h-1.4zM642.4 329.5h1.4v1.4h-1.4zM662 331 661.9 331.5 661.1 330.8 661.2 335.4 663.7 331.5 662.7 331.7 662.8 331.3ZM681.1 331.9 680.8 332.5 679.8 331.3 678.8 338.4 683.5 333.1 682 333.1 682.3 332.5ZM700.7 332.8 700.2 333.1 700.3 331.8 695.8 335.7 701.7 334.9 700.7 334.1 701.2 333.9ZM62.4 316 62.4 315.3 63.8 316 62 309.1 59.7 315.9 61.1 315.2 61.1 315.9ZM81.8 314.8 81.8 314.1 83.1 314.8 81 308 79.1 314.8 80.4 314.1 80.4 314.8ZM101.1 313.7 101.1 313.1 102.4 313.6 100 307.5 98.6 313.9 99.8 313.2 99.8 313.8ZM120.4 312.7 120.3 312.2 121.4 312.5 118.9 307.7 118.3 313.1 119.2 312.4 119.3 312.9ZM139.7 311.7 139.5 311.3 140.5 311.3 137.5 307.5 137.9 312.4 138.6 311.6 138.8 312ZM159 310.7 158.7 310.3 159.8 310.2 155.9 307 157.4 311.8 157.9 310.9 158.2 311.3ZM178.4 309.9 178 309.5 179.2 309.1 174.1 306.4 176.9 311.4 177.3 310.2 177.6 310.6ZM197.7 309.1 197.3 308.8 198.3 308.1 192.6 306.5 196.5 311 196.6 309.7 197.1 310ZM217 308.4 216.5 308.2 217.5 307.3 211.4 306.8 216.2 310.5 216.1 309.2 216.6 309.4ZM236.4 307.8 235.8 307.6 236.7 306.6 230.5 306.9 235.8 310.1 235.5 308.8 236.1 308.9ZM255.8 307.3 255.2 307.2 255.9 306.3 250.4 307.1 255.5 309.4 255.1 308.3 255.6 308.4ZM275.2 307 274.8 307 275.3 306.2 271.1 306.7 274.9 308.6 274.6 307.8 275 307.8ZM294.6 306.8 294.4 306.7 294.9 306.3 291.9 306 294.2 307.9 294.2 307.2 294.4 307.3ZM313.3 306.1h1.4v1.4h-1.4zM332.7 305.9h1.4v1.4h-1.4zM352.9 306.6 353.1 306.5 353.1 306.9 354.3 305.6 352.6 306 352.9 306.2 352.8 306.3ZM372.4 306.6 372.6 306.4 372.6 306.9 374.2 305.3 372 305.8 372.4 306.1 372.2 306.2ZM391.9 306.6 392.1 306.4 392.2 307 394 304.8 391.3 305.7 391.8 306 391.6 306.1ZM411.4 306.7 411.6 306.5 411.8 307.2 413.9 304.4 410.5 305.6 411.2 306 410.9 306.2ZM430.9 306.9 431.2 306.6 431.4 307.5 433.8 303.8 429.8 305.6 430.6 306 430.3 306.3ZM450.4 307.1 450.7 306.8 451.1 307.7 453.2 303.4 449 305.8 450 306.1 449.7 306.5ZM469.9 307.3 470.1 306.9 470.7 307.8 472 303 468.3 306.3 469.3 306.4 469.1 306.8ZM489.4 307.6 489.6 307.1 490.4 307.9 490.6 302.4 487.4 306.9 488.6 306.7 488.4 307.3ZM508.8 307.9 508.9 307.4 509.8 308 509 302.9 506.8 307.6 507.9 307.3 507.8 307.8ZM528.1 308.3 528.1 308 528.8 308.4 527.8 304.7 526.7 308.3 527.4 308 527.4 308.3ZM547.4 308.9 547.4 308.7 547.8 308.9 547.1 306.8 546.5 308.9 546.9 308.7 546.9 308.9ZM567 309.5 566.9 309.1 567.8 309.4 566.2 305.4 565.3 309.7 566.1 309.2 566.2 309.6ZM585.3 309.5h1.4v1.4h-1.4zM605.7 311 605.7 310.7 606.3 310.9 605.2 307.9 604.4 311.1 605 310.7 605.1 311ZM624.1 311.2h1.4v1.4h-1.4zM644.4 312.8 644.5 312.5 645 312.8 644.2 309.9 643.3 312.8 643.9 312.5 643.9 312.8ZM662.8 313.1h1.4v1.4h-1.4zM682.8 314.6 682.5 314.7 682.6 314.1 680.4 316 683.2 315.6 682.8 315.2 683 315.1ZM702.2 315.5 701.8 315.5 702.2 314.6 697.8 316 702.3 317.3 701.8 316.4 702.3 316.4ZM61.1 298.6 61.2 297.9 62.5 298.7 60.8 291.7 58.4 298.5 59.8 297.8 59.8 298.5ZM80.6 297.4 80.6 296.7 81.9 297.4 79.9 290.6 77.8 297.4 79.2 296.7 79.2 297.4ZM100 296.3 100 295.7 101.3 296.3 99.1 289.8 97.4 296.4 98.7 295.7 98.7 296.4ZM119.3 295.3 119.3 294.8 120.3 295.3 118.5 290.2 117.2 295.5 118.2 294.9 118.3 295.4ZM138.7 294.4 138.6 293.9 139.5 294.2 137.4 290.2 137 294.7 137.7 294.1 137.8 294.5ZM158.1 293.5 157.9 293.1 158.8 293.2 156.2 290.1 156.7 294 157.2 293.4 157.4 293.8ZM177.5 292.6 177.3 292.3 178 292.2 175 290 176.3 293.5 176.7 292.8 176.9 293ZM196.9 291.8 196.6 291.6 197.3 291.3 194 289.9 196 292.9 196.2 292.2 196.5 292.4ZM216.3 291.2 216 291 216.6 290.6 213.1 290 215.7 292.4 215.7 291.6 216 291.8ZM235.7 290.6 235.4 290.5 235.9 290 232.6 290.2 235.5 291.8 235.3 291.1 235.6 291.2ZM255.2 290.2 255 290.2 255.3 289.8 253 290 255 291.1 254.9 290.6 255.1 290.6ZM274.7 289.8 274.6 289.8 274.8 289.5 273 289.5 274.5 290.5 274.5 290.1 274.6 290.2ZM293.5 288.9h1.4v1.4h-1.4zM313 288.7h1.4v1.4h-1.4zM333.3 289.3 333.5 289.3 333.4 289.7 335.2 288.4 333 288.6 333.3 288.9 333.1 289ZM352.8 289.3 353.1 289.2 353 289.8 355.4 288.1 352.4 288.2 352.9 288.6 352.6 288.7ZM372.4 289.2 372.7 289.1 372.6 289.8 375.2 287.7 371.9 288 372.4 288.5 372.1 288.6ZM391.9 289.3 392.2 289.1 392.2 289.9 395 287.3 391.3 288 391.9 288.4 391.6 288.6ZM411.5 289.4 411.9 289.2 411.9 290.1 414.9 286.8 410.6 287.9 411.4 288.4 411.1 288.6ZM431.1 289.6 431.5 289.3 431.6 290.4 434.9 286.3 429.9 287.9 430.9 288.5 430.5 288.7ZM450.7 289.8 451.1 289.4 451.3 290.6 454.3 285.9 449.3 288.2 450.4 288.6 450 289ZM470.2 290 470.6 289.6 471.1 290.7 473.3 285.5 468.6 288.6 469.8 288.9 469.4 289.3ZM489.8 290.3 490.1 289.8 490.8 290.9 492.2 285.1 487.8 289.1 489.1 289.2 488.8 289.7ZM509.4 290.6 509.6 290 510.6 291 510.9 284.6 507.1 289.8 508.5 289.6 508.3 290.2ZM529.1 291.1 529.3 290.3 530.6 291.4 529.9 283.2 526 290.5 527.7 290 527.6 290.8ZM548.6 291.5 548.6 290.7 550.2 291.6 548.1 283.7 545.5 291.4 547.1 290.7 547 291.5ZM568.4 292.1 568.4 291.1 570 292.1 567.4 283 564.6 292 566.3 291.1 566.3 292.1ZM587.6 292.8 587.6 292 589.3 292.9 586.9 284.5 584.3 292.8 586 292 586 292.8ZM607.1 293.6 607.1 292.8 608.6 293.6 606.2 285.8 603.9 293.6 605.5 292.8 605.5 293.6ZM626.4 294.4 626.4 293.7 627.8 294.4 625.5 287.6 623.7 294.5 625 293.8 625.1 294.5ZM646 295.3 645.9 294.5 647.6 295.2 644.5 287.6 642.9 295.6 644.4 294.7 644.4 295.4ZM665 296.3 665 295.9 665.8 296.2 664.1 292.7 663.6 296.6 664.2 296.1 664.3 296.4ZM684.4 297.2 684.1 297 684.8 296.7 681.9 295 683.4 298.1 683.6 297.4 683.9 297.7ZM703.8 298.1 703.4 297.9 704.3 297.3 699.2 296 702.8 299.9 702.9 298.7 703.3 299ZM59.8 281.2 59.9 280.5 61.2 281.3 59.5 274.4 57.1 281 58.5 280.5 58.5 281.1ZM79.3 280 79.3 279.4 80.7 280 78.6 273.2 76.6 280 78 279.4 78 280ZM98.9 279 98.8 278.3 100.2 278.9 98.1 272.2 96.1 279 97.5 278.3 97.5 279ZM118.3 278 118.3 277.4 119.4 278 117.8 272.4 116 277.9 117.2 277.4 117.2 278ZM137.7 277.1 137.7 276.7 138.5 277.1 137.5 272.8 136 277 136.8 276.6 136.8 277ZM157.1 276.2 157.1 275.9 157.7 276.3 157 273.3 155.9 276.1 156.5 275.9 156.5 276.2ZM176.6 275.4 176.6 275.2 176.9 275.4 176.3 273.5 175.8 275.4 176.2 275.2 176.2 275.4ZM195.2 274h1.4v1.4h-1.4zM214.8 273.4h1.4v1.4h-1.4zM234.4 272.8h1.4v1.4h-1.4zM254.7 273.2 254.8 273.2 254.7 273.5 256.3 272.9 254.6 272.5 254.8 272.8 254.6 272.8ZM273.5 271.9h1.4v1.4h-1.4zM293.9 272.4 294 272.4 293.9 272.7 295.4 272 293.7 271.8 294 272 293.8 272.1ZM313.4 272.2 313.7 272.2 313.5 272.8 316.2 271.7 313.4 271.1 313.7 271.6 313.4 271.7ZM333.1 272.1 333.4 272.1 333.1 272.9 336.8 271.3 332.9 270.6 333.3 271.3 333 271.3ZM352.7 272 353.1 271.9 352.9 272.9 356.9 270.6 352.3 270.3 352.9 271.1 352.5 271.2ZM372.3 272 372.8 271.8 372.6 272.8 376.6 270.1 371.8 270.2 372.5 270.9 372.1 271.1ZM392 271.9 392.4 271.8 392.3 272.8 396 269.8 391.3 270.2 392 270.9 391.6 271.1ZM411.6 272.1 412.1 271.8 412.1 273 416.1 269.3 410.7 270.2 411.6 270.9 411.2 271.1ZM431.3 272.2 431.7 271.9 431.8 273.2 435.8 268.9 430.1 270.3 431.2 271 430.7 271.3ZM450.9 272.4 451.4 272.1 451.6 273.3 455.2 268.5 449.6 270.6 450.7 271.1 450.2 271.5ZM470.6 272.7 471 272.2 471.4 273.5 474.6 268.1 468.9 270.9 470.2 271.4 469.8 271.8ZM490.2 273 490.7 272.5 491.2 273.8 493.9 267.8 488.3 271.4 489.7 271.7 489.3 272.2ZM509.9 273.4 510.3 272.8 511 274.2 513.2 267.4 507.7 271.9 509.2 272.1 508.8 272.6ZM529.5 273.8 529.8 273.2 530.8 274.4 532 267.4 527.1 272.6 528.6 272.6 528.3 273.2ZM549.5 274.5 550.1 272.8 551.4 274.2 552.1 264.8 546.3 272.2 548.2 272 547.5 273.7ZM569 275.1 570 273 571.1 274.5 572.3 265.2 566.2 272.3 568.1 272.1 567.1 274.3ZM588.5 275.9 589.5 274.2 590.5 275.8 592.7 266.7 585.8 273.1 587.7 273.2 586.7 274.9ZM607.9 276.4 608 275.7 609.2 276.8 609 269.6 605.2 275.7 606.7 275.4 606.5 276ZM627.4 277.1 627.5 276.5 628.8 277.3 627.6 270.3 624.7 276.8 626.2 276.3 626.1 277ZM646.9 278 646.9 277.3 648.2 277.9 646.1 271.6 644.4 278 645.6 277.4 645.6 278ZM666.3 278.9 666.2 278.4 667.3 278.7 664.9 274.1 664.4 279.3 665.2 278.6 665.3 279.1ZM685.7 279.8 685.5 279.4 686.6 279.4 683.3 276 684.1 280.6 684.7 279.8 684.9 280.2ZM705.2 280.8 704.9 280.5 705.9 280.1 701.4 277.9 703.9 282.2 704.2 281.2 704.5 281.5ZM58.5 263.9 58.6 263.2 59.9 264 58.5 257 55.8 263.6 57.2 263.1 57.1 263.7ZM78.1 262.6 78.1 262 79.5 262.6 77.3 255.8 75.4 262.7 76.7 262 76.7 262.7ZM97.7 261.6 97.7 260.9 99.1 261.6 97.1 254.8 95 261.6 96.3 260.9 96.3 261.6ZM117.2 260.7 117.3 260.1 118.4 260.8 117.2 254.6 114.8 260.4 116.1 259.9 116 260.5ZM136.7 259.8 136.8 259.4 137.6 260 137.5 255.3 134.9 259.3 135.9 259.1 135.8 259.5ZM156.1 259 156.3 258.7 156.6 259.4 157.7 256.3 155.1 258.3 155.8 258.4 155.6 258.6ZM175.6 258.3 175.8 258.1 175.8 258.7 177.8 257 175.2 257.4 175.6 257.7 175.4 257.8ZM195.3 257.5 195.5 257.4 195.5 257.9 197.2 256.2 194.8 256.7 195.2 257 195 257.1ZM214.9 256.9 215.1 256.9 215 257.4 217.1 256.2 214.7 256 215 256.4 214.8 256.4ZM234.4 256.4 234.8 256.5 234.4 257.1 237.9 256.4 234.6 255.1 234.8 255.8 234.5 255.8ZM254.1 256 254.5 256.1 254 256.8 258.2 256.1 254.3 254.4 254.6 255.2 254.2 255.2ZM273.8 255.5 274.1 255.5 273.7 256.2 277.4 255.3 273.8 254.1 274.2 254.8 273.8 254.8ZM293.4 255.2 293.8 255.2 293.4 256 297.3 255 293.5 253.7 293.9 254.4 293.5 254.4ZM313.1 255.1 313.6 255.1 313 256.1 318.4 255.1 313.3 252.9 313.7 254.1 313.2 254ZM332.8 254.9 333.4 255 332.7 256.2 339.1 254.7 332.9 252.4 333.5 253.7 332.8 253.7ZM352.6 254.8 353.2 254.7 352.8 256 358.6 253 352.1 252.3 353 253.4 352.4 253.6ZM372.3 254.7 373 254.6 372.6 256 378.5 252.5 371.7 252.2 372.6 253.3 372 253.5ZM392 254.7 392.6 254.5 392.4 255.8 397.6 252.1 391.2 252.4 392.2 253.3 391.6 253.5ZM411.8 254.8 412.4 254.5 412.3 256 417.5 251.4 410.7 252.4 411.8 253.3 411.2 253.6ZM431.5 254.9 432.1 254.6 432.1 256 437 251.2 430.2 252.6 431.5 253.4 430.9 253.7ZM451.2 255.1 451.7 254.7 451.9 256.1 456.1 251 449.8 253 451 253.7 450.5 254ZM471 255.3 471.5 254.9 471.8 256.3 475.5 250.6 469.3 253.3 470.6 253.9 470.1 254.3ZM490.7 255.6 491.1 255.2 491.5 256.6 494.9 250.7 488.9 253.8 490.2 254.3 489.8 254.7ZM510.3 256.1 510.8 255.6 511.3 257.1 514.7 250.8 508.4 254.1 509.9 254.6 509.4 255.1ZM530.1 256.7 530.6 256.1 531.2 257.8 535.1 250.6 527.9 254.4 529.5 255 529 255.5ZM549.9 257.4 551.1 256.2 551.7 258 556 249.6 547.8 254.2 549.6 254.7 548.4 255.9ZM569.6 258 572.1 255.4 572.7 257.2 577 248.9 568.8 253.5 570.6 254 568.1 256.6ZM589.2 258.7 591.1 256.7 591.7 258.5 595.9 250.1 587.8 254.8 589.6 255.3 587.7 257.3ZM608.7 259.1 609 258.5 609.9 259.8 611.3 252.8 606.3 257.8 607.8 257.9 607.5 258.5ZM628.5 259.9 628.7 259.1 630 260.3 629.8 252.1 625.5 259.1 627.2 258.7 627 259.5ZM667.5 261.5 667.4 261 668.4 261.3 665.9 256.8 665.5 261.9 666.4 261.2 666.5 261.7ZM687.1 262.5 686.9 262 688 262.2 684.9 258 685.2 263.2 686 262.4 686.1 262.8ZM706.5 263.5 706.2 263.2 707.2 262.9 703.3 260.4 705.2 264.7 705.6 263.7 705.8 264.1ZM57.1 246.6 57.3 245.9 58.5 247 58.2 239.8 54.5 245.9 56 245.6 55.8 246.3ZM76.8 245.3 76.9 244.7 78.2 245.5 76.8 238.5 74.1 245.1 75.5 244.5 75.5 245.2ZM96.5 244.3 96.6 243.6 97.9 244.4 96.4 237.4 93.8 244.1 95.2 243.5 95.2 244.2ZM116.2 243.3 116.3 242.7 117.4 243.5 116.5 236.9 113.7 242.9 115 242.5 114.9 243.1ZM135.7 242.5 135.9 242 136.7 242.9 137.4 237.5 133.8 241.6 135 241.6 134.8 242.1ZM155.3 241.7 155.5 241.3 156 242.2 157.5 238.1 153.9 240.7 154.9 240.8 154.6 241.2ZM174.9 241 175.2 240.8 175.3 241.7 178.1 238.7 174.1 239.6 174.8 240.1 174.5 240.3ZM194.5 240.3 194.9 240.1 194.9 241 198.1 238.4 193.9 238.8 194.6 239.4 194.2 239.6ZM214.1 239.8 214.6 239.9 214 240.9 219.4 239.7 214.2 237.7 214.7 238.8 214.2 238.7ZM233.7 239.4 234.3 239.5 233.4 240.6 240.3 240.4 234.4 236.8 234.7 238.2 234 238.1ZM253.5 238.8 254.1 239 253.2 240.1 260 239.7 254.1 236.3 254.4 237.7 253.8 237.6ZM273.3 238.3 273.9 238.4 273.2 239.4 278.8 238.1 273.5 236.2 273.9 237.3 273.4 237.2ZM293.1 238 293.6 238 293 239.1 298.8 237.6 293.2 235.7 293.7 236.9 293.1 236.9ZM312.8 237.8 313.4 237.9 312.6 239.2 319.6 238.1 313.1 235.1 313.6 236.6 312.9 236.5ZM332.4 237.7 333.2 237.9 332.1 239.3 340.6 238.7 333.1 234.5 333.6 236.3 332.8 236.1ZM352.4 237.6 353.2 237.5 352.5 239.1 360.2 236.4 352.2 234.4 353.1 236 352.3 236ZM372.3 237.4 372.9 237.2 372.5 238.7 378.8 235.4 371.7 234.7 372.7 235.9 372 236ZM392.1 237.4 392.7 237.2 392.5 238.7 398.4 234.7 391.3 234.8 392.3 235.9 391.7 236.1ZM411.9 237.4 412.5 237.1 412.5 238.6 417.9 234 410.8 234.9 412 235.9 411.4 236.2ZM431.7 237.5 432.3 237.2 432.4 238.7 437.3 233.5 430.4 235.2 431.6 236 431.1 236.3ZM451.6 237.8 452.2 237.3 452.5 239.1 457.5 232.6 449.8 235.2 451.3 236 450.7 236.5ZM471.3 237.9 471.7 237.5 472.1 238.8 475.4 233.5 469.7 236.1 471 236.6 470.5 237ZM510.8 238.7 511.3 238.3 511.5 239.8 515.5 234.4 509.3 236.7 510.5 237.3 510 237.7ZM530.4 239.3 531.1 239 531 240.5 536.3 235.7 529.2 236.9 530.5 237.8 529.8 238.1ZM550.3 240.2 552.5 239.3 552.3 241.2 559.5 235.1 550.2 236.2 551.6 237.4 549.5 238.3ZM570.2 240.8 575.1 237.7 575.2 239.6 581.4 232.5 572.3 235 574 235.9 569.1 239ZM590 241.4 594.3 237.4 594.8 239.3 599.5 231.2 591.1 235.3 592.9 235.9 588.6 239.9ZM629.5 242.4 629.6 241.6 631.1 242.6 629.7 234.5 626.4 242 628.1 241.4 628 242.2ZM649.2 243.1 649.1 242.3 650.8 242.8 646.9 235.5 646.2 243.7 647.5 242.6 647.7 243.4ZM688.2 245.1 688 244.7 689 244.7 685.8 241.5 686.7 245.9 687.3 245.1 687.5 245.5ZM707.8 246.1 707.5 245.9 708.3 245.6 704.6 243.8 706.7 247.3 707 246.5 707.3 246.7ZM55.7 229.5 56.1 228.9 56.9 230.2 58.9 223.4 53.4 227.9 55 228.1 54.6 228.7ZM75.5 228.2 75.8 227.6 76.7 228.8 77.9 221.8 73.1 227 74.6 227 74.3 227.6ZM95.3 227 95.5 226.3 96.7 227.3 96.1 220.2 92.7 226.4 94.1 226 94 226.7ZM115.1 225.9 115.1 225.3 116.4 226 114.9 219.4 112.5 225.7 113.8 225.2 113.8 225.8ZM134.7 225.1 134.9 224.6 135.8 225.4 135.8 219.7 132.7 224.4 133.9 224.2 133.7 224.8ZM154.5 224.2 154.6 223.7 155.5 224.5 155.4 219.1 152.5 223.6 153.7 223.4 153.5 223.9ZM174.2 223.6 174.5 223.2 174.9 224.3 177.3 219.6 172.7 222.2 173.8 222.5 173.4 222.9ZM193.9 223.3 194.6 223 194.4 224.8 201 219.8 192.8 220.3 194.1 221.5 193.3 221.8ZM213.2 222.7 214 223 212.7 224.4 221.8 224.4 214.2 219.4 214.5 221.3 213.7 221.1ZM232.9 222.1 233.7 222.5 232.2 223.8 241.3 224.8 234.3 218.9 234.4 220.9 233.6 220.5ZM252.8 221.6 253.5 221.9 252.2 223.1 260.7 223.8 254 218.5 254.1 220.4 253.4 220.1ZM272.9 221.1 273.6 221.1 272.8 222.4 279.7 220.6 273 218.4 273.6 219.7 272.9 219.7ZM292.7 220.8 293.5 220.8 292.7 222.4 300.6 220 292.7 217.7 293.5 219.2 292.7 219.3ZM312.5 220.6 313.4 220.7 312.4 222.3 321.2 220.3 312.7 217.2 313.5 218.9 312.6 218.9ZM332.3 220.4 333.2 220.5 332.1 222.2 341.3 220.5 332.7 216.9 333.4 218.7 332.5 218.6ZM352.3 220.2 353.1 220.2 352.3 221.9 360.6 219.2 352.2 216.9 353.1 218.5 352.2 218.6ZM372.2 220.1 373 220 372.5 221.7 379.9 218 371.7 217 372.7 218.4 371.9 218.5ZM392.1 220 392.8 219.8 392.5 221.3 398.4 217.3 391.3 217.4 392.4 218.5 391.7 218.7ZM511.2 221.2 511.6 220.9 511.9 222 514.7 217.7 510 219.7 511 220.1 510.6 220.4ZM550.9 222.9 557.5 220.7 557.2 222.6 564.9 217.2 555.5 217.4 556.9 218.7 550.2 220.9ZM570.9 223.4 581.9 216.5 582 218.4 588.1 211.3 579.1 213.8 580.7 214.8 569.8 221.7ZM591 224 598 216.2 598.7 218 602.7 209.5 594.7 214.3 596.5 214.8 589.4 222.6ZM669.8 226.7 669.6 226.2 670.8 226.3 667.5 222 667.9 227.4 668.7 226.6 668.9 227ZM689.4 227.7 689.1 227.4 690 227.2 686.6 225 688.2 228.7 688.6 227.9 688.8 228.2ZM709 228.8 708.7 228.6 709.4 228.1 705.7 227.4 708.3 230 708.4 229.2 708.7 229.4ZM54.5 212.5 55.9 211.3 56.3 213.2 61.4 205.3 52.8 209 54.6 209.7 53.1 210.9ZM74.1 211.2 74.7 210.7 75.1 212.4 79.8 205.7 72.2 208.7 73.8 209.5 73.1 210ZM93.9 209.8 94.2 209.4 94.7 210.5 96.7 205.4 92.2 208.5 93.4 208.8 93.1 209.2ZM113.8 208.6 113.8 208.2 114.6 208.8 114.3 204.3 112.1 208.2 113 208 112.9 208.4ZM133.7 207.5 133.7 207 134.7 207.5 133 202.5 131.7 207.6 132.7 207.1 132.7 207.6ZM153.5 206.7 153.5 206.3 154.3 206.7 153.2 202.5 151.8 206.7 152.7 206.3 152.6 206.7ZM172.8 206.7 173.6 206.8 172.5 208.2 180.7 207.3 173.4 203.6 173.9 205.3 173.1 205.1ZM192.7 205.9 193.4 206.1 192.3 207.5 200.5 206.9 193.4 202.9 193.8 204.6 193 204.4ZM212.2 205.4 213.3 206.1 211.7 207.1 220.7 209.5 214.5 202.5 214.4 204.4 213.3 203.7ZM232 204.8 233.8 206 232.1 206.9 241 209.8 235.2 202.4 235 204.3 233.2 203.1ZM252 204.3 253.9 205.6 252.2 206.5 261.2 209.2 255.2 202 255 203.8 253.1 202.6ZM272.4 203.7 273 203.8 272.2 205.1 279.2 203.8 272.7 201 273.2 202.4 272.5 202.3ZM292.4 203.5 293.3 203.5 292.4 205.3 301.2 202.5 292.3 200 293.2 201.8 292.3 201.8ZM312.3 203.1 312.9 203.1 312.2 204.4 319.1 202.5 312.3 200.3 313 201.7 312.3 201.7ZM551.8 205 552.2 204.5 552.7 206 556 199.6 549.8 203.1 551.2 203.6 550.8 204.1ZM572.1 205.7 575.9 198.9 576.9 200.5 578.9 191.3 572.2 197.8 574.1 197.9 570.3 204.7ZM592 206.3 594.4 201 595.6 202.6 596.8 193.2 590.6 200.3 592.5 200.2 590.1 205.5ZM651.4 208.3 651.2 207.5 652.9 207.9 648.6 201 648.4 209.1 649.7 208 649.9 208.7ZM671 209.2 670.8 208.7 672.1 208.7 667.8 204.3 669 210.3 669.7 209.3 670 209.8ZM690.7 210.3 690.4 209.9 691.4 209.7 687.4 207.2 689.4 211.5 689.7 210.5 690 210.9ZM710.4 211.4 710.1 211.2 710.8 210.8 707 209.8 709.6 212.7 709.7 211.9 710 212.1ZM52.8 195 53.4 194.6 53.5 196.2 58.3 190.9 51.4 192.6 52.7 193.5 52.1 193.8ZM72.4 193.9 73.1 193.9 72.5 195.3 79.1 192.6 72.2 191.2 73 192.5 72.3 192.6ZM91.8 192.8 92.5 193.3 90.9 194.1 98.7 196.6 93.6 190.2 93.4 192 92.7 191.5ZM111.6 191.7 112.1 192.3 110.5 192.7 117.4 197 114 189.6 113.3 191.2 112.8 190.6ZM132.3 190.5 132.6 190.3 132.7 191 134.6 188.4 131.6 189.5 132.2 189.8 132 190ZM151.4 188.7h1.4v1.4h-1.4zM171.6 188.8 171.8 189.3 170.5 189.2 174.2 193.8 173.7 187.9 172.8 188.9 172.6 188.4ZM191.4 188.1 191.7 188.7 190.2 188.7 194.9 194 193.9 187 193 188.2 192.7 187.6ZM211.2 187.8 211.7 188.6 209.8 188.8 217 194.8 214.4 185.8 213.5 187.5 212.9 186.6ZM231.2 187.3 232.4 188.5 230.5 189 238.7 193.7 234.5 185.3 233.9 187.1 232.8 185.9ZM251.4 186.9 252.7 187.9 251 188.7 259.8 191.8 254.1 184.3 253.9 186.2 252.6 185.3ZM271.9 186.3 272.6 186.4 271.8 187.7 278.8 186.2 272.1 183.6 272.7 185 272 185ZM292 186.2 292.9 186.2 292 187.9 300.7 185.1 291.9 182.7 292.8 184.4 292 184.4ZM532.4 186.8 532.6 186.3 533.4 187.2 533.9 182.1 530.6 186 531.7 186 531.5 186.4ZM552.6 187.4 552.8 186.7 553.9 187.7 553.8 180.6 550 186.6 551.5 186.3 551.3 187ZM573 187.9 573.5 182.1 575 183.1 573.1 174 569.7 182.7 571.4 182 570.9 187.8ZM652.5 190.8 652.2 190.1 653.9 190.2 648.6 184 649.6 192.1 650.8 190.8 651.1 191.5ZM672.2 191.8 671.9 191.3 673.3 191.1 668.1 187 670.2 193.3 670.8 192 671.2 192.5ZM692 192.9 691.7 192.6 692.7 192.2 688.3 189.7 690.6 194.3 691 193.2 691.3 193.6ZM711.8 194.1 711.4 193.9 712.2 193.4 708.3 192.4 711 195.4 711 194.5 711.4 194.7ZM51.3 177.6 51.7 177.4 51.7 178.5 55.8 175 50.4 175.7 51.3 176.4 50.8 176.6ZM70.9 176.7 71.7 176.9 70.6 178.2 78.7 177.4 71.5 173.6 72 175.3 71.2 175.2ZM90.5 175.7 91.4 176.3 89.7 177.2 98.8 179.6 92.5 172.6 92.4 174.5 91.6 174ZM110.8 174.5 111.4 174.7 110.2 175.7 117.3 176.7 112 172 112 173.5 111.4 173.2ZM131 173.6 131.6 173.7 130.7 174.9 137.8 174.3 131.5 170.9 131.9 172.4 131.3 172.2ZM150.8 172.5 151.2 172.9 150 173.5 155.9 176 152.4 170.6 152 171.9 151.6 171.5ZM170.5 171.6 171 172.3 169.2 172.5 175.4 177.9 173.2 170 172.3 171.5 171.9 170.8ZM190.3 171 191 172.1 189.1 172.1 195.8 178.7 193.8 169.5 192.8 171.1 192.2 170ZM210.4 170.3 211.6 172.9 209.7 172.8 216 179.8 214.6 170.5 213.5 172 212.3 169.4ZM230.4 169.7 231.6 172.1 229.7 172.1 236.1 179 234.6 169.7 233.5 171.2 232.3 168.8ZM251 169.3 251.6 169.7 250.2 170.4 256.9 172.9 252.7 167.1 252.4 168.6 251.9 168.2ZM271.5 169.1 272.3 169.1 271.4 170.7 279.4 168.7 271.6 166 272.4 167.6 271.6 167.5ZM291.7 168.7 292.4 168.7 291.8 170.3 299.4 167.5 291.5 165.6 292.3 167.1 291.6 167.2ZM533 169.2 533 168.7 533.9 169 531.7 165 531.3 169.5 532.1 168.9 532.2 169.4ZM553.4 169.8 553.4 169.2 554.7 169.8 552.5 163 550.6 169.9 552 169.2 552 169.9ZM573.8 170.5 573.6 165.5 575.3 166.3 572.2 157.4 569.9 166.5 571.5 165.6 571.7 170.5ZM593.8 171.2 593.8 169 595.5 169.9 592.7 160.9 590.1 169.9 591.7 169 591.8 171.2ZM633.9 172.5 633.4 171.2 635.3 171.5 629.6 164 630.2 173.4 631.4 172 631.9 173.3ZM653.5 173.5 653.1 172.9 654.7 172.8 649.3 168 651.2 174.9 652 173.6 652.3 174.2ZM673.4 174.4 673 173.9 674.4 173.6 668.6 169.9 671.4 176.1 672 174.8 672.4 175.3ZM693.3 175.6 692.9 175.3 693.9 174.9 689.5 172.9 692 177 692.3 176 692.6 176.3ZM713.1 176.8 712.8 176.6 713.5 176.1 709.8 175.3 712.4 178 712.5 177.2 712.8 177.4ZM49.8 160.1 50.1 159.9 50.1 160.6 52.2 158.5 49.3 159.1 49.8 159.4 49.5 159.6ZM69.7 159 70.1 159 69.7 159.7 73.3 158.9 69.8 157.6 70.1 158.3 69.8 158.3ZM89.8 158.2 90.5 158.3 89.7 159.6 96.7 157.9 90 155.5 90.6 156.9 89.9 156.9ZM110.2 157.4 111 157.1 110.7 159.1 118.4 154.1 109.2 154 110.6 155.4 109.7 155.7ZM130 156.6 132.2 156.7 131.2 158.3 140.3 155.8 131.3 152.9 132.2 154.6 130.1 154.5ZM149.8 155.7 152.1 156.6 150.7 157.8 160 158.5 152.6 152.7 152.8 154.6 150.6 153.7ZM169.8 154.8 172.1 156.2 170.5 157.1 179.6 159.3 173.2 152.5 173.1 154.3 170.8 153ZM189.8 154 192.3 156.1 190.5 156.8 199.1 160.6 194 152.7 193.6 154.5 191.1 152.4ZM209.8 153.2 214 158.7 212.1 159 219.7 164.6 216.4 155.8 215.6 157.5 211.4 151.9ZM229.8 152.4 231.5 155.8 229.6 155.7 236 162.6 234.4 153.3 233.3 154.9 231.7 151.5ZM250.5 152.1 251.1 152.5 249.5 153.4 257.3 156 252.3 149.5 252 151.3 251.4 150.8ZM513.2 151.3 513.1 151.2 513.6 151.1 512.1 149.9 512.6 151.8 512.8 151.4 512.9 151.5ZM533.9 151.8 533.8 151.2 535.3 151.6 532.2 145.3 531.2 152.3 532.5 151.4 532.6 152.1ZM554.4 152.4 553.9 149.1 555.6 149.7 551.4 141.3 550.3 150.7 551.8 149.5 552.4 152.7ZM574.5 152.7 574 151.7 575.9 151.8 569.6 144.7 571 154 572.1 152.5 572.6 153.6ZM594.3 153.5 593.9 152.8 595.6 152.6 589.2 147.5 591.8 155.3 592.6 153.7 593 154.4ZM614.6 154.3 614.2 153.5 616.2 153.5 609.9 146.7 611.4 155.9 612.6 154.3 613 155.1ZM634.9 155.2 634.1 153.5 636 153.7 629.8 146.6 631.1 155.9 632.3 154.4 633 156ZM654.6 156.2 654.3 155.6 655.8 155.4 650.4 150.8 652.3 157.6 653.1 156.3 653.5 156.9ZM674.7 157.1 674.2 156.6 675.7 156.2 669.8 152.5 672.6 158.9 673.2 157.5 673.6 158ZM694.5 158.3 694.2 158 695.1 157.6 690.8 155.9 693.4 159.7 693.6 158.7 694 159ZM714.5 159.5 714.2 159.4 714.8 158.9 711.3 158.4 713.9 160.7 713.9 160 714.2 160.1ZM47.6 141.8h1.4v1.4h-1.4zM68.5 141.6 68.7 141.5 68.6 142 70.6 140.9 68.3 140.7 68.6 141.1 68.4 141.1ZM88.8 140.8 89.3 140.7 89.1 142 94.3 138.7 88.1 138.6 89 139.5 88.5 139.7ZM109.2 140.2 110.3 139.7 110.1 141.6 117.2 135.4 107.9 136.7 109.4 137.8 108.4 138.3ZM129.2 139.3 132.1 138.8 131.6 140.6 139.9 136.2 130.6 135.3 131.8 136.7 128.8 137.3ZM149.2 138.5 153.2 138.6 152.3 140.2 161.4 137.9 152.5 134.9 153.3 136.5 149.3 136.4ZM169.2 137.6 176.1 139 174.9 140.5 184.2 139.6 175.9 135.2 176.5 137 169.6 135.6ZM189.3 136.9 194.5 138.8 193 140.1 202.4 140.7 194.9 135 195.2 136.9 190 134.9ZM209.2 136.1 213.1 139 211.4 139.8 220.2 143.1 214.7 135.5 214.4 137.4 210.5 134.4ZM229.2 135.2 231.2 138.1 229.3 138.3 236.6 144.2 233.8 135.2 232.9 136.9 231 134.1ZM372.1 132.8 372.3 132.5 372.7 133.2 373.7 129.9 371.1 132 371.8 132.1 371.6 132.4ZM432.9 132.8 432.9 132.5 433.5 132.7 432.4 129.9 431.8 132.9 432.3 132.6 432.4 132.9ZM453.1 133 453 132.8 453.5 132.8 452 131.1 452.3 133.3 452.6 132.9 452.7 133.1ZM513.8 134 513.7 133.9 514.2 133.8 512.5 132.4 513.1 134.5 513.4 134.1 513.5 134.3ZM534.6 134.6 534.5 133.9 535.9 134.4 533.1 127.9 531.9 134.9 533.1 134 533.2 134.7ZM555.1 135 554.7 133.2 556.5 133.7 551.9 125.5 551.3 134.9 552.7 133.6 553.1 135.5ZM574.6 135.3 573.9 135 575 134 567.9 133.6 573.7 137.8 573.5 136.3 574.1 136.5ZM594.7 135.8 593.9 135.7 594.9 134.3 586.8 135.4 594.2 138.9 593.7 137.3 594.5 137.4ZM615.6 136.8 613.9 134.5 615.8 134.2 608.2 128.6 611.4 137.4 612.2 135.7 614 138ZM635.9 137.8 634.9 136 636.8 136 630.1 129.4 632.1 138.6 633.1 137 634.1 138.8ZM655.8 138.9 655.4 138.3 656.9 138.1 651.3 133.7 653.5 140.4 654.2 139.1 654.6 139.6ZM675.9 139.8 675.4 139.4 676.8 139 671 135.6 674 141.6 674.5 140.2 674.9 140.7ZM695.8 141 695.5 140.7 696.4 140.3 691.9 138.6 694.7 142.4 694.9 141.4 695.3 141.7ZM715.9 142.2 715.6 142 716.2 141.5 712.4 140.9 715.2 143.5 715.2 142.7 715.6 142.9ZM46.2 124.6h1.4v1.4h-1.4zM67.2 124.3 67.3 124.3 67.2 124.7 69.1 123.7 67 123.5 67.3 123.9 67.1 123.9ZM87.5 123.5 87.9 123.4 87.7 124.4 91.9 122.1 87.1 121.6 87.7 122.5 87.3 122.5ZM107.9 122.6 108.5 122.4 108.3 123.9 114.1 119.8 107 120 108.1 121.1 107.4 121.3ZM128.2 122 131.3 121.2 130.9 123 138.9 118 129.5 117.8 130.8 119.2 127.7 120ZM148.4 121.2 155.3 120.1 154.7 121.8 163.1 117.7 153.8 116.5 154.9 118 148.1 119.1ZM168.6 120.4 174.4 120.2 173.5 121.9 182.4 118.8 173.3 116.5 174.3 118.1 168.5 118.3ZM188.6 119.6 194.4 120.7 193.2 122.1 202.5 121.1 194.2 116.8 194.7 118.6 189 117.6ZM208.9 118.6 209.5 118.9 208.3 119.8 215.3 120.8 210 116.1 210.1 117.6 209.4 117.3ZM229 117.9 229.6 118.3 228.2 119 234.8 121.6 230.7 115.8 230.4 117.3 229.9 116.8ZM433.2 115.4 433.1 115.1 433.8 115.2 431.9 112.4 431.9 115.8 432.4 115.3 432.5 115.6ZM474 115.4 473.3 115 474.9 114.1 467.1 111.6 472.2 118 472.4 116.2 473.1 116.7ZM494.1 115.7 493.3 115.5 494.5 114.2 486.3 114.4 493.3 118.7 492.9 117 493.7 117.2ZM514.6 116.7 514.4 116.3 515.3 116.3 512.3 113.2 513.1 117.4 513.7 116.7 513.8 117ZM535.6 117.3 535.4 115.9 537.2 116.7 533.6 107.9 531.8 117.2 533.4 116.1 533.5 117.5ZM555.9 117.7 555.4 115.6 557.2 116.1 552.7 107.9 551.9 117.3 553.4 116 553.8 118.2ZM575.6 117.9 575 117.4 576.6 116.6 568.3 113.8 573.7 120.7 574 118.8 574.7 119.3ZM595.9 118.4 594.9 118 596.3 116.8 586.9 116 594.3 121.8 594.1 119.9 595.1 120.3ZM616.4 119.3 614.8 118.1 616.6 117.3 607.8 114 613.3 121.6 613.6 119.8 615.1 121ZM636.6 120.7 636.3 120.1 637.8 119.9 632.3 115.3 634.4 122.1 635.1 120.8 635.5 121.4ZM656.9 121.6 656.5 121 657.9 120.7 652.1 116.7 654.8 123.3 655.4 121.9 655.8 122.4ZM677 122.6 676.6 122.2 677.8 121.8 672.5 119.1 675.5 124.2 675.8 123 676.2 123.4ZM697.2 123.7 696.8 123.5 697.7 123 693.1 121.4 696.1 125.2 696.2 124.2 696.6 124.5ZM717.3 124.9 717 124.7 717.7 124.2 713.5 123.5 716.6 126.3 716.6 125.4 717 125.6ZM45.5 108.2 45.7 108.1 45.7 108.5 46.9 107.1 45.2 107.6 45.5 107.8 45.4 107.9ZM65.8 107.1 66.1 107 66 107.6 68.2 106.3 65.6 106.1 66 106.6 65.7 106.6ZM86.2 106.2 86.7 106.1 86.4 107.2 90.8 104.8 85.9 104.4 86.5 105.2 86 105.3ZM106.7 105.4 107.3 105.2 107 106.7 113 102.9 105.9 102.8 107 103.9 106.3 104.1ZM127 104.4 127.7 104.3 127.4 105.8 133.4 102 126.3 101.8 127.3 102.9 126.7 103.1ZM147.4 103.6 148 103.4 147.7 104.9 153.9 101.4 146.8 100.9 147.7 102.1 147.1 102.2ZM167.7 102.8 168.4 102.7 167.8 104.1 174.4 101.3 167.4 100.1 168.2 101.3 167.5 101.4ZM188 102 188.6 102.1 187.9 103.4 194.8 101.9 188.2 99.3 188.7 100.7 188.1 100.7ZM208.2 101.4 208.9 101.5 207.9 102.7 215 102.5 209 98.7 209.3 100.2 208.6 100ZM228.5 100.7 229.2 101 228 102 235 102.9 229.7 98.3 229.7 99.8 229.1 99.5ZM331.1 98.6 331.4 98.5 331.4 99.3 334.2 96.8 330.5 97.3 331.1 97.8 330.8 98ZM474.2 98.6 474 98.3 474.7 98.2 471.9 96.3 473.2 99.4 473.5 98.8 473.7 99ZM494.7 98.9 494.4 98.6 495.3 98.5 492.1 96.2 493.4 99.8 493.8 99.1 494 99.4ZM515.4 99.4 515.2 98.8 516.6 99 512.8 93.4 512.9 100.2 513.9 99.2 514.1 99.8ZM535.9 100 535.8 99.3 537.2 99.8 534.3 93.4 533.2 100.4 534.4 99.5 534.5 100.2ZM556.3 100.6 556.1 99.9 557.6 100.3 554.1 94 553.6 101.1 554.8 100.2 554.9 100.8ZM617.2 102.3 616.6 101.9 618 101.2 611.2 98.9 615.6 104.6 615.8 103.1 616.4 103.5ZM637.6 103.3 637.2 102.8 638.6 102.4 632.4 98.9 635.7 105.2 636.2 103.8 636.7 104.3ZM658 104.3 657.5 103.8 659 103.3 652.8 99.9 656.1 106.2 656.6 104.7 657 105.2ZM678.2 105.3 677.8 105 678.9 104.5 673.7 102.2 676.8 107 677.1 105.8 677.5 106.2ZM698.5 106.5 698.1 106.2 699 105.7 694.3 104.2 697.4 108 697.6 107 698 107.3ZM718.8 107.7 718.4 107.5 719.1 106.9 714.7 106.1 718 109.2 718 108.2 718.4 108.4Z" fill="#fff"/></g>
<path d="M293.6 369.3 294.9 372.0 297.5 374.6 300.8 376.6 302.2 381.2 302.8 384.5 307.4 386.1 314.1 386.1 320.7 384.5 325.9 381.9 329.9 379.2 331.9 377.3 333.9 378.6 339.1 379.2 345.7 379.9 351.0 379.9 356.3 381.2 361.6 381.2 366.9 383.2 374.8 383.2 380.1 381.9 382.7 379.2 385.4 376.6 389.3 373.3 395.0 368.7 390.3 372.6 396.9 367.3 403.5 362.1 408.8 355.5 412.7 351.5 416.7 347.5 422.0 342.9 427.3 338.3 432.5 333.7 437.8 328.4 443.1 325.1 448.4 321.8 452.3 317.2 455.0 313.2 457.4 311.9 459.6 313.9 458.9 319.8 458.7 326.4 462.9 327.1 465.6 329.7 466.2 337.0 465.6 344.9 464.2 350.2 461.6 353.5 458.9 352.8 456.3 350.8 453.7 350.8" fill="none" stroke="#000" stroke-width="1.6" stroke-linejoin="round"/><path d="M295.6 375.9 295.6 380.8 315.4 404.1 331.8 422.8 385.0 429.7 398.2 431.4 411.4 433.0 422.0 434.3 424.0 432.7 424.6 429.4 425.3 422.8 425.9 416.2 429.2 412.3 432.5 407.0 435.8 401.7 437.2 397.7 435.8 392.4 434.9 387.8 437.8 386.5 443.1 385.2 448.4 383.9 453.7 382.5 453.0 379.2 449.7 377.3 445.7 375.9 447.1 372.6 446.4 370.0 445.7 368.7 446.4 363.4 445.1 358.1 M413.4 350.8 418.0 355.5 422.0 359.4 427.3 362.1 433.9 361.4 440.5 358.8 445.7 357.4 447.1 352.8 451.0 350.2 453.7 350.8 455.0 354.1 457.6 356.8 460.3 356.1 461.6 353.5 M432.5 338.3 437.8 339.6 441.1 343.6 441.8 350.2 443.1 356.8 445.1 358.1 M437.8 328.4 443.1 330.4 447.1 334.3 449.7 338.3 452.3 339.6 452.3 346.2 453.0 350.8 M452.3 327.7 458.3 327.1 464.2 327.7 M452.3 327.7 453.0 331.7 456.3 333.0 458.3 337.0 458.9 344.9 459.6 351.5 M458.3 337.0 465.6 337.6 M443.1 325.1 447.1 328.4 451.0 330.4 452.3 327.7" fill="none" stroke="#000" stroke-width="0.95" stroke-linejoin="round"/><path d="M293.6 369.3 296.2 372.6 297.5 375.5 M298.2 375.9 301.5 376.9 M351.0 380.2 356.3 380.8 M338.5 379.0 343.1 379.6" fill="none" stroke="#000" stroke-width="2.4" stroke-linecap="round"/><path d="M384.3 377.9 390.3 373.3 396.9 368.0 402.8 362.7" fill="none" stroke="#000" stroke-width="3.2" stroke-linecap="round"/><path d="M412.1 350.8 416.7 347.8 M420.7 343.6 428.6 339.6 M369.5 379.9 377.4 379.2 381.4 380.6 M384.0 377.9 390.6 372.0 395.0 368.0" fill="none" stroke="#000" stroke-width="2.2" stroke-linecap="round"/><circle cx="324.0" cy="350.8" r="1.1"/><circle cx="329.9" cy="356.8" r="1.1"/><circle cx="341.1" cy="344.2" r="1.1"/><circle cx="340.5" cy="352.2" r="1.1"/><circle cx="348.4" cy="353.9" r="1.1"/><circle cx="347.7" cy="362.7" r="1.1"/><circle cx="303.5" cy="361.4" r="1.1"/><circle cx="389.3" cy="341.3" r="1.1"/><circle cx="304.8" cy="377.9" r="1.1"/><circle cx="337.2" cy="372.0" r="1.1"/><circle cx="341.8" cy="373.3" r="1.1"/><circle cx="349.0" cy="373.9" r="1.1"/><circle cx="358.9" cy="372.0" r="1.1"/><circle cx="364.2" cy="378.6" r="1.1"/><circle cx="418.0" cy="317.8" r="1.1"/><circle cx="427.9" cy="304.6" r="1.1"/><circle cx="422.0" cy="305.3" r="1.1"/><circle cx="389.6" cy="341.2" r="1.1"/><path d="M357.6 363.4 358.3 368.7 M321.3 365.6 321.3 370.6 M300.2 363.6 300.2 367.3 M310.1 377.3 310.1 379.9 M353.0 375.3 358.9 375.3" fill="none" stroke="#000" stroke-width="1.6" stroke-linecap="round"/><circle cx="331.9" cy="374.2" r="1.4" fill="none" stroke="#000" stroke-width="0.8"/>
<g>
<defs><clipPath id="lg"><circle cx="706.0" cy="652.0" r="24.1"/></clipPath>
<path id="ring" d="M688.52 672.84 A27.2 27.2 0 1 1 722.75 673.43"/></defs>
<circle cx="706.0" cy="652.0" r="24.1" fill="#1a4f8e"/>
<g clip-path="url(#lg)">
<path d="M680.1 625.1 732.9 625.1 732.9 638.3 726.8 636.8 722.7 635.8 719.7 636.8 715.6 635.3 711.6 635.8 707.5 634.3 702.4 634.8 697.4 633.8 692.3 636.8 687.2 641.4 683.2 647.5 680.1 648.5 Z" fill="#2a66ad"/>
<path d="M681.1 662.7 686.2 659.6 692.3 656.1 698.4 654.1 703.5 655.1 707.5 657.6 710.6 660.2 705.5 662.7 702.4 665.7 705.5 665.2 712.6 667.8 720.7 670.6 724.8 671.8 724.8 679.9 681.1 679.9 Z" fill="#3a80c2"/>
<path d="M682.1 663.7 688.2 660.7 695.3 658.1 701.4 658.6 698.4 662.7 694.3 666.2 689.2 669.8 684.2 671.8 Z" fill="#5a9bd8"/>
<path d="M702.4 665.7 705.5 662.7 710.6 660.2 714.6 660.7 719.7 662.7 722.7 669.8 720.7 670.6 712.6 667.8 705.5 665.2 Z" fill="#1a4f8e"/>
<path d="M683.7 660.7 689.2 657.1 695.3 654.6 699.9 653.8 704.0 655.1 707.0 657.4" fill="none" stroke="#fff" stroke-width="0.9"/>
<path d="M699.4 668.3 702.4 666.2 705.5 665.2 712.6 667.8 721.7 670.8" fill="none" stroke="#fff" stroke-width="0.7"/>
<path d="M688.2 643.9 690.3 643.9 691.1 640.4 691.9 647.0 692.8 637.8 693.7 649.5 694.7 638.8 695.7 651.0 696.8 638.3 697.8 648.5 698.8 639.9 699.8 645.9 700.8 642.4 701.6 643.9 724.8 643.9" fill="none" stroke="#7fb2e5" stroke-width="0.55"/>
<path d="M723.2 645.4 726.8 647.0 730.3 649.5 731.9 655.6 732.4 660.7 731.4 665.7 728.8 668.8 725.8 671.8 722.2 672.3 720.7 667.8 719.7 662.7 716.6 660.7 719.7 658.6 722.7 655.6 723.2 650.5 Z" fill="#fff"/>
<path d="M724.8 650.0 727.3 651.5 729.8 650.0 727.8 654.1 730.9 655.1 727.8 656.6 730.3 659.6 727.3 659.1" fill="none" stroke="#1a4f8e" stroke-width="0.6"/>
</g>
<text font-family="Liberation Sans, sans-serif" font-size="4.9" fill="#3a76ba" font-weight="bold" letter-spacing="0.02"><textPath href="#ring" textLength="133.2" lengthAdjust="spacingAndGlyphs">Regional Integrated Multi-Hazard Early Warning System</textPath></text>
<text x="707" y="685.9" text-anchor="middle" font-family="Liberation Sans, sans-serif" font-size="9.9" font-weight="bold" fill="#1d4a80" textLength="33.4" lengthAdjust="spacingAndGlyphs">RIMES</text>
</g>
<rect x="10.45" y="77.35" width="743.1" height="624.5" fill="none" stroke="#000" stroke-width="1"/>
<rect x="771.5" y="592" width="27.1" height="67.7" fill="#4040a2"/>
<rect x="771.5" y="524.6" width="27.1" height="67.7" fill="#4294ff"/>
<rect x="771.5" y="457.3" width="27.1" height="67.7" fill="#18ddc2"/>
<rect x="771.5" y="389.9" width="27.1" height="67.7" fill="#6dfe62"/>
<rect x="771.5" y="322.5" width="27.1" height="67.7" fill="#cdec34"/>
<rect x="771.5" y="255.1" width="27.1" height="67.7" fill="#fdac34"/>
<rect x="771.5" y="187.8" width="27.1" height="67.7" fill="#eb500e"/>
<rect x="771.5" y="120.4" width="27.1" height="67.7" fill="#a91601"/>
<rect x="771.5" y="120.5" width="27.1" height="539" fill="none" stroke="#000" stroke-width="1"/>
<path d="M798.6 659.5h4.6M798.6 592.5h4.6M798.6 524.5h4.6M798.6 457.5h4.6M798.6 389.5h4.6M798.6 322.5h4.6M798.6 255.5h4.6M798.6 187.5h4.6M798.6 120.5h4.6" stroke="#000" stroke-width="1" fill="none"/>
</svg>
<div class="t" style="top:8px;letter-spacing:0.67px">UAE Wind Flow at 850 hPa (m/s)</div>
<div class="t" style="top:29.5px;letter-spacing:0.98px">2025-12-03 09:00 @ UTC+00:00</div>
<div class="t" style="top:51px;letter-spacing:0.91px">2025-12-03 13:00 @ Local Time</div>
<div class="cb" style="top:650.9px">0</div><div class="cb" style="top:583.5px">5</div><div class="cb" style="top:516.1px">10</div><div class="cb" style="top:448.8px">15</div><div class="cb" style="top:381.4px">20</div><div class="cb" style="top:314px">25</div><div class="cb" style="top:246.6px">30</div><div class="cb" style="top:179.3px">35</div><div class="cb" style="top:111.9px">40</div>
<div class="ft">WRF model data processed and visualized by the RIMES R&amp;D Team. © 2025</div>
</body></html>
